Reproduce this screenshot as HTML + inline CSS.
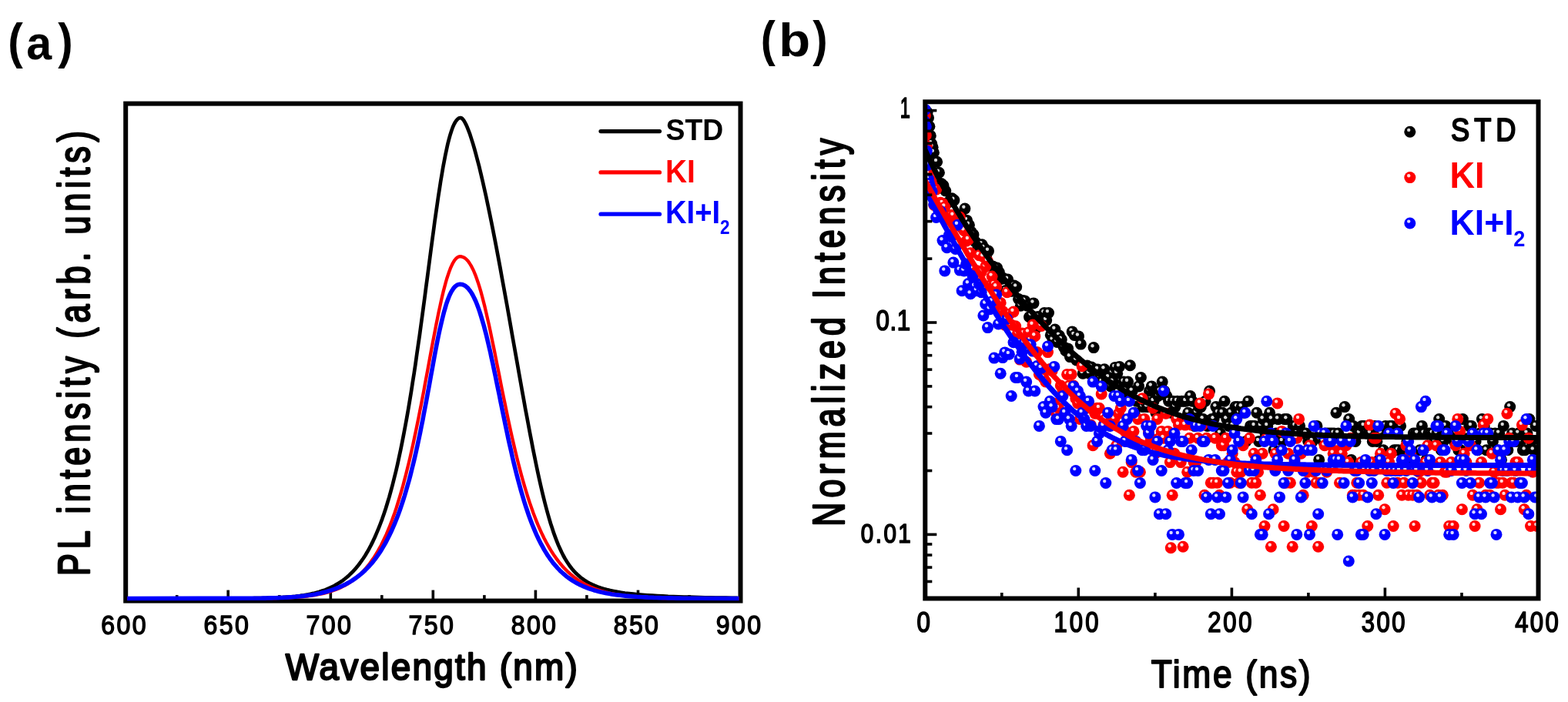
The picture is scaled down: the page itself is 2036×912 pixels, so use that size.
<!DOCTYPE html>
<html><head><meta charset="utf-8"><title>PL spectra and TRPL decay</title>
<style>html,body{margin:0;padding:0;background:#fff;}body{width:2036px;height:912px;overflow:hidden;}svg{display:block;filter:blur(0.6px);}</style>
</head><body>
<svg width="2036" height="912" viewBox="0 0 2036 912" font-family="'Liberation Sans', Arial, Helvetica, sans-serif">
<rect x="163.2" y="134.6" width="798.3" height="646.0" fill="none" stroke="#000" stroke-width="6.0"/>
<line x1="229.7" y1="780.6" x2="229.7" y2="773.1" stroke="#000" stroke-width="3.6"/>
<line x1="296.2" y1="780.6" x2="296.2" y2="766.6" stroke="#000" stroke-width="3.6"/>
<line x1="362.8" y1="780.6" x2="362.8" y2="773.1" stroke="#000" stroke-width="3.6"/>
<line x1="429.3" y1="780.6" x2="429.3" y2="766.6" stroke="#000" stroke-width="3.6"/>
<line x1="495.8" y1="780.6" x2="495.8" y2="773.1" stroke="#000" stroke-width="3.6"/>
<line x1="562.3" y1="780.6" x2="562.3" y2="766.6" stroke="#000" stroke-width="3.6"/>
<line x1="628.9" y1="780.6" x2="628.9" y2="773.1" stroke="#000" stroke-width="3.6"/>
<line x1="695.4" y1="780.6" x2="695.4" y2="766.6" stroke="#000" stroke-width="3.6"/>
<line x1="761.9" y1="780.6" x2="761.9" y2="773.1" stroke="#000" stroke-width="3.6"/>
<line x1="828.5" y1="780.6" x2="828.5" y2="766.6" stroke="#000" stroke-width="3.6"/>
<line x1="895.0" y1="780.6" x2="895.0" y2="773.1" stroke="#000" stroke-width="3.6"/>
<path d="M165.2,777.5 L327.5,777.3 L330.3,777.2 L333.1,777.2 L335.9,777.1 L338.7,777.1 L341.5,777.0 L344.3,777.0 L347.1,776.9 L349.9,776.8 L352.7,776.7 L355.5,776.6 L358.3,776.5 L361.1,776.4 L363.9,776.3 L366.7,776.1 L369.5,775.9 L372.3,775.7 L375.1,775.5 L377.9,775.3 L380.7,775.0 L383.5,774.8 L386.3,774.4 L389.1,774.1 L391.9,773.7 L394.7,773.3 L397.5,772.8 L400.3,772.3 L403.1,771.7 L405.9,771.1 L408.7,770.5 L411.5,769.7 L414.3,768.9 L417.1,768.0 L420.0,767.1 L422.8,766.1 L425.6,764.9 L428.4,763.7 L431.2,762.4 L434.0,761.0 L436.8,759.4 L439.5,757.8 L442.3,756.0 L445.1,754.1 L447.8,752.0 L450.5,749.8 L453.2,747.4 L455.9,744.8 L458.6,742.1 L461.3,739.2 L463.9,736.1 L466.5,732.7 L469.1,729.2 L471.7,725.5 L474.3,721.5 L476.8,717.3 L479.3,712.8 L481.8,708.1 L484.3,703.1 L486.7,697.9 L489.1,692.4 L491.5,686.6 L493.9,680.5 L496.3,674.1 L498.6,667.5 L500.9,660.5 L503.1,653.2 L505.4,645.6 L507.6,637.7 L509.8,629.5 L511.9,621.0 L514.1,612.2 L516.2,603.1 L518.2,593.7 L520.3,584.0 L522.3,574.0 L524.3,563.7 L526.3,553.1 L528.3,542.3 L530.2,531.3 L532.1,520.0 L534.0,508.5 L535.8,496.7 L537.7,484.8 L539.5,472.8 L541.2,460.5 L543.0,448.2 L544.8,435.8 L546.5,423.2 L548.2,410.7 L549.9,398.1 L551.6,385.5 L553.2,372.9 L554.9,360.4 L556.5,348.0 L558.1,335.7 L559.7,323.5 L561.3,311.5 L562.9,299.8 L564.4,288.3 L566.0,277.1 L567.6,266.1 L569.1,255.5 L570.7,245.3 L572.2,235.5 L573.8,226.1 L575.3,217.2 L576.9,208.8 L578.4,200.9 L580.0,193.5 L581.5,186.6 L583.1,180.4 L584.7,174.7 L586.3,169.7 L587.9,165.3 L589.5,161.6 L591.2,158.5 L592.9,156.1 L594.6,154.4 L596.3,153.3 L598.0,153.0 L599.2,153.3 L600.5,154.4 L601.9,156.1 L603.4,158.5 L605.0,161.6 L606.7,165.3 L608.4,169.7 L610.3,174.7 L612.1,180.4 L614.1,186.6 L616.1,193.5 L618.1,200.9 L620.2,208.8 L622.4,217.2 L624.5,226.1 L626.7,235.5 L628.9,245.3 L631.2,255.5 L633.4,266.1 L635.7,277.1 L638.0,288.3 L640.3,299.8 L642.6,311.5 L644.9,323.5 L647.2,335.7 L649.5,348.0 L651.7,360.4 L654.0,372.9 L656.3,385.5 L658.6,398.1 L660.8,410.7 L663.0,423.2 L665.2,435.8 L667.4,448.2 L669.6,460.5 L671.8,472.8 L673.9,484.8 L676.0,496.7 L678.1,508.5 L680.2,520.0 L682.2,531.3 L684.3,542.3 L686.3,553.1 L688.3,563.7 L690.3,574.0 L692.2,584.0 L694.2,593.7 L696.1,603.1 L698.0,612.2 L699.9,621.0 L701.8,629.5 L703.7,637.7 L705.6,645.6 L707.5,653.2 L709.4,660.5 L711.3,667.5 L713.2,674.1 L715.1,680.5 L717.1,686.6 L719.0,692.4 L721.0,697.9 L723.0,703.1 L725.0,708.1 L727.1,712.8 L729.2,717.3 L731.3,721.5 L733.5,725.5 L735.8,729.2 L738.1,732.7 L740.4,736.1 L742.9,739.2 L745.4,742.1 L748.0,744.8 L750.7,747.4 L753.5,749.8 L756.4,752.0 L759.3,754.1 L762.4,756.0 L765.7,757.8 L769.0,759.4 L772.5,761.0 L776.2,762.4 L780.0,763.7 L783.9,764.9 L788.0,766.1 L792.3,767.1 L796.8,768.0 L801.5,768.9 L806.4,769.7 L811.5,770.5 L816.8,771.1 L822.3,771.7 L828.1,772.3 L834.2,772.8 L840.5,773.3 L847.0,773.7 L853.8,774.1 L860.7,774.4 L867.5,774.8 L874.4,775.0 L881.2,775.3 L888.1,775.5 L894.9,775.7 L901.7,775.9 L908.6,776.1 L915.4,776.3 L922.3,776.4 L929.1,776.5 L936.0,776.6 L942.8,776.7 L949.6,776.8 L956.5,776.9 L959.5,777.5" fill="none" stroke="#000" stroke-width="4.7" stroke-linejoin="round"/>
<path d="M165.2,777.5 L333.6,777.3 L336.3,777.3 L339.0,777.3 L341.7,777.2 L344.5,777.2 L347.2,777.2 L349.9,777.1 L352.6,777.1 L355.3,777.0 L358.0,777.0 L360.7,776.9 L363.4,776.8 L366.1,776.7 L368.9,776.6 L371.6,776.5 L374.3,776.4 L377.0,776.3 L379.7,776.1 L382.4,775.9 L385.1,775.7 L387.8,775.5 L390.6,775.3 L393.3,775.1 L396.0,774.8 L398.7,774.5 L401.4,774.2 L404.1,773.8 L406.8,773.4 L409.5,773.0 L412.2,772.5 L415.0,772.0 L417.7,771.4 L420.4,770.8 L423.1,770.1 L425.8,769.4 L428.5,768.6 L431.2,767.7 L433.9,766.8 L436.6,765.7 L439.3,764.7 L442.0,763.5 L444.6,762.2 L447.3,760.8 L449.9,759.3 L452.6,757.8 L455.2,756.1 L457.8,754.3 L460.4,752.3 L463.0,750.2 L465.5,748.0 L468.1,745.7 L470.6,743.2 L473.1,740.5 L475.6,737.7 L478.1,734.7 L480.5,731.5 L482.9,728.1 L485.3,724.6 L487.7,720.9 L490.1,717.0 L492.4,712.8 L494.8,708.5 L497.0,704.0 L499.3,699.2 L501.6,694.3 L503.8,689.1 L506.0,683.7 L508.2,678.1 L510.3,672.2 L512.5,666.2 L514.6,659.9 L516.6,653.4 L518.7,646.7 L520.7,639.8 L522.8,632.7 L524.7,625.4 L526.7,617.9 L528.6,610.2 L530.6,602.3 L532.5,594.3 L534.3,586.1 L536.2,577.8 L538.0,569.3 L539.8,560.7 L541.6,552.0 L543.4,543.2 L545.1,534.4 L546.9,525.5 L548.6,516.5 L550.3,507.6 L551.9,498.6 L553.6,489.6 L555.3,480.7 L556.9,471.9 L558.5,463.2 L560.1,454.5 L561.7,446.0 L563.3,437.6 L564.9,429.4 L566.4,421.5 L568.0,413.7 L569.5,406.2 L571.1,398.9 L572.6,391.9 L574.1,385.2 L575.6,378.9 L577.2,372.9 L578.7,367.2 L580.2,362.0 L581.8,357.1 L583.3,352.7 L584.8,348.7 L586.4,345.1 L587.9,342.0 L589.5,339.3 L591.1,337.1 L592.6,335.4 L594.2,334.2 L595.9,333.4 L597.5,333.2 L599.6,333.4 L601.7,334.2 L603.8,335.4 L605.8,337.1 L607.8,339.3 L609.7,342.0 L611.6,345.1 L613.5,348.7 L615.4,352.7 L617.2,357.1 L619.0,362.0 L620.8,367.2 L622.6,372.9 L624.4,378.9 L626.1,385.2 L627.8,391.9 L629.6,398.9 L631.3,406.2 L633.0,413.7 L634.8,421.5 L636.5,429.4 L638.2,437.6 L639.9,446.0 L641.7,454.5 L643.4,463.2 L645.1,471.9 L646.9,480.7 L648.7,489.6 L650.4,498.6 L652.2,507.6 L654.0,516.5 L655.9,525.5 L657.7,534.4 L659.5,543.2 L661.4,552.0 L663.3,560.7 L665.2,569.3 L667.2,577.8 L669.1,586.1 L671.1,594.3 L673.1,602.3 L675.2,610.2 L677.2,617.9 L679.3,625.4 L681.4,632.7 L683.6,639.8 L685.7,646.7 L687.9,653.4 L690.2,659.9 L692.4,666.2 L694.7,672.2 L697.0,678.1 L699.3,683.7 L701.7,689.1 L704.1,694.3 L706.5,699.2 L709.0,704.0 L711.5,708.5 L714.0,712.8 L716.5,717.0 L719.1,720.9 L721.7,724.6 L724.3,728.1 L726.9,731.5 L729.6,734.7 L732.3,737.7 L735.0,740.5 L737.7,743.2 L740.5,745.7 L743.3,748.0 L746.1,750.2 L748.9,752.3 L751.7,754.3 L754.6,756.1 L757.5,757.8 L760.4,759.3 L763.3,760.8 L766.2,762.2 L769.1,763.5 L772.1,764.7 L775.0,765.7 L778.0,766.8 L780.9,767.7 L783.9,768.6 L786.8,769.4 L789.8,770.1 L792.8,770.8 L795.7,771.4 L798.7,772.0 L801.6,772.5 L804.6,773.0 L807.5,773.4 L810.5,773.8 L813.4,774.2 L816.4,774.5 L819.3,774.8 L822.3,775.1 L825.2,775.3 L828.2,775.5 L831.1,775.7 L834.1,775.9 L837.0,776.1 L839.9,776.3 L842.9,776.4 L845.8,776.5 L848.8,776.6 L851.7,776.7 L854.7,776.8 L857.6,776.9 L860.6,777.0 L863.5,777.0 L866.5,777.1 L869.4,777.1 L872.4,777.2 L875.3,777.2 L878.3,777.2 L881.2,777.3 L884.2,777.3 L887.1,777.3 L959.5,777.5" fill="none" stroke="#ff0000" stroke-width="4.3" stroke-linejoin="round"/>
<path d="M165.2,777.5 L321.4,777.3 L324.2,777.3 L327.1,777.3 L329.9,777.3 L332.8,777.2 L335.7,777.2 L338.5,777.2 L341.4,777.1 L344.2,777.1 L347.1,777.0 L349.9,776.9 L352.8,776.9 L355.7,776.8 L358.5,776.7 L361.4,776.6 L364.2,776.5 L367.1,776.4 L370.0,776.2 L372.8,776.1 L375.7,775.9 L378.5,775.7 L381.4,775.5 L384.2,775.3 L387.1,775.0 L390.0,774.7 L392.8,774.4 L395.7,774.1 L398.5,773.7 L401.4,773.3 L404.2,772.9 L407.1,772.4 L410.0,771.9 L412.8,771.3 L415.7,770.7 L418.6,770.0 L421.6,769.3 L424.5,768.5 L427.4,767.6 L430.4,766.7 L433.4,765.7 L436.3,764.6 L439.3,763.4 L442.3,762.2 L445.2,760.8 L448.2,759.4 L451.1,757.8 L454.1,756.1 L457.0,754.4 L459.9,752.4 L462.8,750.4 L465.6,748.2 L468.5,745.9 L471.3,743.5 L474.1,740.9 L476.8,738.1 L479.6,735.2 L482.3,732.2 L485.0,728.9 L487.6,725.5 L490.2,721.9 L492.8,718.1 L495.4,714.1 L497.9,709.9 L500.4,705.6 L502.8,701.0 L505.2,696.3 L507.6,691.3 L509.9,686.1 L512.2,680.8 L514.5,675.2 L516.7,669.5 L518.9,663.5 L521.0,657.3 L523.1,651.0 L525.2,644.5 L527.2,637.7 L529.2,630.8 L531.2,623.8 L533.1,616.5 L534.9,609.2 L536.8,601.6 L538.6,594.0 L540.4,586.2 L542.1,578.3 L543.8,570.3 L545.5,562.3 L547.1,554.1 L548.8,545.9 L550.3,537.7 L551.9,529.5 L553.5,521.3 L555.0,513.0 L556.5,504.9 L558.0,496.7 L559.4,488.7 L560.9,480.8 L562.3,472.9 L563.7,465.3 L565.1,457.7 L566.5,450.4 L567.9,443.2 L569.3,436.3 L570.7,429.7 L572.2,423.2 L573.6,417.1 L575.0,411.3 L576.4,405.8 L577.9,400.6 L579.3,395.7 L580.8,391.3 L582.3,387.2 L583.8,383.5 L585.4,380.2 L587.0,377.4 L588.6,374.9 L590.3,372.9 L592.0,371.3 L593.8,370.2 L595.6,369.5 L597.5,369.3 L599.7,369.5 L601.9,370.2 L604.0,371.3 L606.0,372.9 L608.1,374.9 L610.1,377.4 L612.0,380.2 L613.9,383.5 L615.8,387.2 L617.7,391.3 L619.5,395.7 L621.3,400.6 L623.1,405.8 L624.8,411.3 L626.5,417.1 L628.3,423.2 L630.0,429.7 L631.7,436.3 L633.3,443.2 L635.0,450.4 L636.7,457.7 L638.3,465.3 L640.0,472.9 L641.6,480.8 L643.3,488.7 L644.9,496.7 L646.6,504.9 L648.3,513.0 L649.9,521.3 L651.6,529.5 L653.3,537.7 L655.0,545.9 L656.7,554.1 L658.4,562.3 L660.1,570.3 L661.9,578.3 L663.7,586.2 L665.4,594.0 L667.2,601.6 L669.1,609.2 L670.9,616.5 L672.8,623.8 L674.7,630.8 L676.6,637.7 L678.6,644.5 L680.5,651.0 L682.5,657.3 L684.6,663.5 L686.6,669.5 L688.7,675.2 L690.8,680.8 L693.0,686.1 L695.2,691.3 L697.4,696.3 L699.6,701.0 L701.9,705.6 L704.3,709.9 L706.6,714.1 L709.0,718.1 L711.4,721.9 L713.9,725.5 L716.4,728.9 L718.9,732.2 L721.5,735.2 L724.1,738.1 L726.8,740.9 L729.5,743.5 L732.2,745.9 L734.9,748.2 L737.7,750.4 L740.6,752.4 L743.5,754.4 L746.4,756.1 L749.3,757.8 L752.3,759.4 L755.3,760.8 L758.4,762.2 L761.5,763.4 L764.6,764.6 L767.8,765.7 L771.0,766.7 L774.2,767.6 L777.5,768.5 L780.8,769.3 L784.2,770.0 L787.6,770.7 L791.0,771.3 L794.4,771.9 L797.9,772.4 L801.4,772.9 L804.9,773.3 L808.5,773.7 L812.1,774.1 L815.7,774.4 L819.3,774.7 L823.0,775.0 L826.7,775.3 L830.4,775.5 L834.1,775.7 L837.8,775.9 L841.5,776.1 L845.2,776.2 L848.9,776.4 L852.6,776.5 L856.3,776.6 L860.0,776.7 L863.8,776.8 L867.5,776.9 L871.2,776.9 L874.9,777.0 L878.6,777.1 L882.3,777.1 L886.0,777.2 L889.7,777.2 L893.4,777.2 L897.1,777.3 L900.8,777.3 L904.5,777.3 L908.3,777.3 L959.5,777.5" fill="none" stroke="#0000ff" stroke-width="5.6" stroke-linejoin="round"/>
<text transform="translate(131.35,824.29) scale(0.9000,1)" font-size="35.62" font-weight="normal" fill="#000" letter-spacing="2.70" stroke="#000" stroke-width="1.5" stroke-linejoin="round">600</text>
<text transform="translate(264.40,824.29) scale(0.9000,1)" font-size="35.62" font-weight="normal" fill="#000" letter-spacing="2.70" stroke="#000" stroke-width="1.5" stroke-linejoin="round">650</text>
<text transform="translate(397.45,824.29) scale(0.9000,1)" font-size="35.62" font-weight="normal" fill="#000" letter-spacing="2.70" stroke="#000" stroke-width="1.5" stroke-linejoin="round">700</text>
<text transform="translate(530.50,824.29) scale(0.9000,1)" font-size="35.62" font-weight="normal" fill="#000" letter-spacing="2.70" stroke="#000" stroke-width="1.5" stroke-linejoin="round">750</text>
<text transform="translate(663.79,824.29) scale(0.9000,1)" font-size="35.62" font-weight="normal" fill="#000" letter-spacing="2.56" stroke="#000" stroke-width="1.5" stroke-linejoin="round">800</text>
<text transform="translate(796.84,824.29) scale(0.9000,1)" font-size="35.62" font-weight="normal" fill="#000" letter-spacing="2.56" stroke="#000" stroke-width="1.5" stroke-linejoin="round">850</text>
<text transform="translate(929.73,824.29) scale(0.9000,1)" font-size="35.62" font-weight="normal" fill="#000" letter-spacing="2.65" stroke="#000" stroke-width="1.5" stroke-linejoin="round">900</text>
<text transform="translate(370.72,883.05) scale(0.9500,1)" font-size="48.29" font-weight="normal" fill="#000" letter-spacing="2.38" stroke="#000" stroke-width="2.3" stroke-linejoin="round">Wavelength (nm)</text>
<text transform="translate(115.75,747.91) rotate(-90) scale(0.7500,1)" font-size="57.60" font-weight="normal" fill="#000" letter-spacing="7.65" stroke="#000" stroke-width="2.5" stroke-linejoin="round">PL intensity (arb. units)</text>
<line x1="780" y1="170.6" x2="856.5" y2="170.6" stroke="#000" stroke-width="5.2" stroke-linecap="round"/>
<line x1="780" y1="223.9" x2="856.5" y2="223.9" stroke="#ff0000" stroke-width="5.2" stroke-linecap="round"/>
<line x1="780" y1="278.2" x2="856.5" y2="278.2" stroke="#0000ff" stroke-width="5.2" stroke-linecap="round"/>
<text transform="translate(864.48,182.01) scale(0.9587,1)" font-size="39.01" font-weight="bold" fill="#000">STD</text>
<text transform="translate(863.98,236.70) scale(0.9149,1)" font-size="42.47" font-weight="bold" fill="#ff0000">KI</text>
<text fill="#0000ff"><tspan x="864.02" y="290.00" font-size="41.60" font-weight="bold" textLength="71.07" lengthAdjust="spacingAndGlyphs">KI+I</tspan><tspan x="934.91" y="303.90" font-size="25.66" font-weight="bold" textLength="12.56" lengthAdjust="spacingAndGlyphs">2</tspan></text>
<text fill="#000"><tspan x="10.26" y="76.02" font-size="64.02" font-weight="bold" textLength="19.57" lengthAdjust="spacingAndGlyphs">(</tspan><tspan x="34.23" y="77.29" font-size="60.82" font-weight="bold" textLength="32.90" lengthAdjust="spacingAndGlyphs">a</tspan><tspan x="75.25" y="76.02" font-size="64.02" font-weight="bold" textLength="19.39" lengthAdjust="spacingAndGlyphs">)</tspan></text>
<text fill="#000"><tspan x="987.73" y="72.94" font-size="63.91" font-weight="bold" textLength="19.10" lengthAdjust="spacingAndGlyphs">(</tspan><tspan x="1011.25" y="73.08" font-size="61.77" font-weight="bold" textLength="40.89" lengthAdjust="spacingAndGlyphs">b</tspan><tspan x="1055.35" y="72.94" font-size="63.91" font-weight="bold" textLength="19.39" lengthAdjust="spacingAndGlyphs">)</tspan></text>
<clipPath id="cb"><rect x="1201.3" y="132.3" width="796.2" height="645.2"/></clipPath>
<g clip-path="url(#cb)">
<circle cx="1200.1" cy="158.4" r="7.5" fill="#000"/><circle cx="1198.5" cy="156.0" r="2.2" fill="#fff" fill-opacity="0.85"/>
<circle cx="1201.3" cy="150.9" r="7.5" fill="#000"/><circle cx="1199.7" cy="148.5" r="2.2" fill="#fff" fill-opacity="0.85"/>
<circle cx="1202.7" cy="144.3" r="7.5" fill="#000"/><circle cx="1201.1" cy="141.9" r="2.2" fill="#fff" fill-opacity="0.85"/>
<circle cx="1204.1" cy="146.1" r="7.5" fill="#000"/><circle cx="1202.5" cy="143.7" r="2.2" fill="#fff" fill-opacity="0.85"/>
<circle cx="1205.5" cy="153.1" r="7.5" fill="#000"/><circle cx="1203.9" cy="150.7" r="2.2" fill="#fff" fill-opacity="0.85"/>
<circle cx="1206.9" cy="164.2" r="7.5" fill="#000"/><circle cx="1205.3" cy="161.8" r="2.2" fill="#fff" fill-opacity="0.85"/>
<circle cx="1208.3" cy="176.4" r="7.5" fill="#000"/><circle cx="1206.7" cy="174.0" r="2.2" fill="#fff" fill-opacity="0.85"/>
<circle cx="1209.7" cy="186.7" r="7.5" fill="#000"/><circle cx="1208.1" cy="184.3" r="2.2" fill="#fff" fill-opacity="0.85"/>
<circle cx="1211.1" cy="191.2" r="7.5" fill="#000"/><circle cx="1209.5" cy="188.8" r="2.2" fill="#fff" fill-opacity="0.85"/>
<circle cx="1212.4" cy="198.2" r="7.5" fill="#000"/><circle cx="1210.8" cy="195.8" r="2.2" fill="#fff" fill-opacity="0.85"/>
<circle cx="1213.8" cy="210.1" r="7.5" fill="#000"/><circle cx="1212.2" cy="207.7" r="2.2" fill="#fff" fill-opacity="0.85"/>
<circle cx="1216.6" cy="210.3" r="7.5" fill="#000"/><circle cx="1215.0" cy="207.9" r="2.2" fill="#fff" fill-opacity="0.85"/>
<circle cx="1219.4" cy="224.2" r="7.5" fill="#000"/><circle cx="1217.8" cy="221.8" r="2.2" fill="#fff" fill-opacity="0.85"/>
<circle cx="1222.2" cy="238.6" r="7.5" fill="#000"/><circle cx="1220.6" cy="236.2" r="2.2" fill="#fff" fill-opacity="0.85"/>
<circle cx="1225.0" cy="241.0" r="7.5" fill="#000"/><circle cx="1223.4" cy="238.6" r="2.2" fill="#fff" fill-opacity="0.85"/>
<circle cx="1227.8" cy="248.0" r="7.5" fill="#000"/><circle cx="1226.2" cy="245.6" r="2.2" fill="#fff" fill-opacity="0.85"/>
<circle cx="1230.6" cy="263.4" r="7.5" fill="#000"/><circle cx="1229.0" cy="261.0" r="2.2" fill="#fff" fill-opacity="0.85"/>
<circle cx="1233.3" cy="261.6" r="7.5" fill="#000"/><circle cx="1231.7" cy="259.2" r="2.2" fill="#fff" fill-opacity="0.85"/>
<circle cx="1236.1" cy="257.8" r="7.5" fill="#000"/><circle cx="1234.5" cy="255.4" r="2.2" fill="#fff" fill-opacity="0.85"/>
<circle cx="1238.9" cy="260.1" r="7.5" fill="#000"/><circle cx="1237.3" cy="257.7" r="2.2" fill="#fff" fill-opacity="0.85"/>
<circle cx="1241.7" cy="283.7" r="7.5" fill="#000"/><circle cx="1240.1" cy="281.3" r="2.2" fill="#fff" fill-opacity="0.85"/>
<circle cx="1244.5" cy="292.2" r="7.5" fill="#000"/><circle cx="1242.9" cy="289.8" r="2.2" fill="#fff" fill-opacity="0.85"/>
<circle cx="1247.3" cy="282.1" r="7.5" fill="#000"/><circle cx="1245.7" cy="279.7" r="2.2" fill="#fff" fill-opacity="0.85"/>
<circle cx="1250.1" cy="284.2" r="7.5" fill="#000"/><circle cx="1248.5" cy="281.8" r="2.2" fill="#fff" fill-opacity="0.85"/>
<circle cx="1252.9" cy="271.1" r="7.5" fill="#000"/><circle cx="1251.3" cy="268.7" r="2.2" fill="#fff" fill-opacity="0.85"/>
<circle cx="1255.6" cy="286.4" r="7.5" fill="#000"/><circle cx="1254.0" cy="284.0" r="2.2" fill="#fff" fill-opacity="0.85"/>
<circle cx="1258.4" cy="292.2" r="7.5" fill="#000"/><circle cx="1256.8" cy="289.8" r="2.2" fill="#fff" fill-opacity="0.85"/>
<circle cx="1261.2" cy="301.3" r="7.5" fill="#000"/><circle cx="1259.6" cy="298.9" r="2.2" fill="#fff" fill-opacity="0.85"/>
<circle cx="1264.0" cy="304.9" r="7.5" fill="#000"/><circle cx="1262.4" cy="302.5" r="2.2" fill="#fff" fill-opacity="0.85"/>
<circle cx="1266.8" cy="314.4" r="7.5" fill="#000"/><circle cx="1265.2" cy="312.0" r="2.2" fill="#fff" fill-opacity="0.85"/>
<circle cx="1269.6" cy="323.7" r="7.5" fill="#000"/><circle cx="1268.0" cy="321.3" r="2.2" fill="#fff" fill-opacity="0.85"/>
<circle cx="1272.4" cy="319.6" r="7.5" fill="#000"/><circle cx="1270.8" cy="317.2" r="2.2" fill="#fff" fill-opacity="0.85"/>
<circle cx="1275.1" cy="317.7" r="7.5" fill="#000"/><circle cx="1273.5" cy="315.3" r="2.2" fill="#fff" fill-opacity="0.85"/>
<circle cx="1277.9" cy="322.3" r="7.5" fill="#000"/><circle cx="1276.3" cy="319.9" r="2.2" fill="#fff" fill-opacity="0.85"/>
<circle cx="1280.7" cy="334.1" r="7.5" fill="#000"/><circle cx="1279.1" cy="331.7" r="2.2" fill="#fff" fill-opacity="0.85"/>
<circle cx="1283.5" cy="326.1" r="7.5" fill="#000"/><circle cx="1281.9" cy="323.7" r="2.2" fill="#fff" fill-opacity="0.85"/>
<circle cx="1286.3" cy="345.3" r="7.5" fill="#000"/><circle cx="1284.7" cy="342.9" r="2.2" fill="#fff" fill-opacity="0.85"/>
<circle cx="1289.1" cy="345.9" r="7.5" fill="#000"/><circle cx="1287.5" cy="343.5" r="2.2" fill="#fff" fill-opacity="0.85"/>
<circle cx="1291.9" cy="353.5" r="7.5" fill="#000"/><circle cx="1290.3" cy="351.1" r="2.2" fill="#fff" fill-opacity="0.85"/>
<circle cx="1294.7" cy="348.1" r="7.5" fill="#000"/><circle cx="1293.1" cy="345.7" r="2.2" fill="#fff" fill-opacity="0.85"/>
<circle cx="1297.4" cy="353.9" r="7.5" fill="#000"/><circle cx="1295.8" cy="351.5" r="2.2" fill="#fff" fill-opacity="0.85"/>
<circle cx="1300.2" cy="362.4" r="7.5" fill="#000"/><circle cx="1298.6" cy="360.0" r="2.2" fill="#fff" fill-opacity="0.85"/>
<circle cx="1303.0" cy="361.6" r="7.5" fill="#000"/><circle cx="1301.4" cy="359.2" r="2.2" fill="#fff" fill-opacity="0.85"/>
<circle cx="1305.8" cy="377.4" r="7.5" fill="#000"/><circle cx="1304.2" cy="375.0" r="2.2" fill="#fff" fill-opacity="0.85"/>
<circle cx="1308.6" cy="363.1" r="7.5" fill="#000"/><circle cx="1307.0" cy="360.7" r="2.2" fill="#fff" fill-opacity="0.85"/>
<circle cx="1311.4" cy="378.2" r="7.5" fill="#000"/><circle cx="1309.8" cy="375.8" r="2.2" fill="#fff" fill-opacity="0.85"/>
<circle cx="1314.2" cy="378.2" r="7.5" fill="#000"/><circle cx="1312.6" cy="375.8" r="2.2" fill="#fff" fill-opacity="0.85"/>
<circle cx="1316.9" cy="371.0" r="7.5" fill="#000"/><circle cx="1315.3" cy="368.6" r="2.2" fill="#fff" fill-opacity="0.85"/>
<circle cx="1319.7" cy="372.8" r="7.5" fill="#000"/><circle cx="1318.1" cy="370.4" r="2.2" fill="#fff" fill-opacity="0.85"/>
<circle cx="1322.5" cy="388.4" r="7.5" fill="#000"/><circle cx="1320.9" cy="386.0" r="2.2" fill="#fff" fill-opacity="0.85"/>
<circle cx="1325.3" cy="397.3" r="7.5" fill="#000"/><circle cx="1323.7" cy="394.9" r="2.2" fill="#fff" fill-opacity="0.85"/>
<circle cx="1328.1" cy="390.5" r="7.5" fill="#000"/><circle cx="1326.5" cy="388.1" r="2.2" fill="#fff" fill-opacity="0.85"/>
<circle cx="1330.9" cy="391.1" r="7.5" fill="#000"/><circle cx="1329.3" cy="388.7" r="2.2" fill="#fff" fill-opacity="0.85"/>
<circle cx="1333.7" cy="397.3" r="7.5" fill="#000"/><circle cx="1332.1" cy="394.9" r="2.2" fill="#fff" fill-opacity="0.85"/>
<circle cx="1336.5" cy="411.8" r="7.5" fill="#000"/><circle cx="1334.9" cy="409.4" r="2.2" fill="#fff" fill-opacity="0.85"/>
<circle cx="1339.2" cy="410.0" r="7.5" fill="#000"/><circle cx="1337.6" cy="407.6" r="2.2" fill="#fff" fill-opacity="0.85"/>
<circle cx="1342.0" cy="393.9" r="7.5" fill="#000"/><circle cx="1340.4" cy="391.5" r="2.2" fill="#fff" fill-opacity="0.85"/>
<circle cx="1344.8" cy="427.1" r="7.5" fill="#000"/><circle cx="1343.2" cy="424.7" r="2.2" fill="#fff" fill-opacity="0.85"/>
<circle cx="1347.6" cy="411.5" r="7.5" fill="#000"/><circle cx="1346.0" cy="409.1" r="2.2" fill="#fff" fill-opacity="0.85"/>
<circle cx="1350.4" cy="421.7" r="7.5" fill="#000"/><circle cx="1348.8" cy="419.3" r="2.2" fill="#fff" fill-opacity="0.85"/>
<circle cx="1353.2" cy="419.6" r="7.5" fill="#000"/><circle cx="1351.6" cy="417.2" r="2.2" fill="#fff" fill-opacity="0.85"/>
<circle cx="1356.0" cy="406.6" r="7.5" fill="#000"/><circle cx="1354.4" cy="404.2" r="2.2" fill="#fff" fill-opacity="0.85"/>
<circle cx="1358.7" cy="416.1" r="7.5" fill="#000"/><circle cx="1357.1" cy="413.7" r="2.2" fill="#fff" fill-opacity="0.85"/>
<circle cx="1361.5" cy="406.5" r="7.5" fill="#000"/><circle cx="1359.9" cy="404.1" r="2.2" fill="#fff" fill-opacity="0.85"/>
<circle cx="1364.3" cy="435.3" r="7.5" fill="#000"/><circle cx="1362.7" cy="432.9" r="2.2" fill="#fff" fill-opacity="0.85"/>
<circle cx="1367.1" cy="441.8" r="7.5" fill="#000"/><circle cx="1365.5" cy="439.4" r="2.2" fill="#fff" fill-opacity="0.85"/>
<circle cx="1369.9" cy="428.1" r="7.5" fill="#000"/><circle cx="1368.3" cy="425.7" r="2.2" fill="#fff" fill-opacity="0.85"/>
<circle cx="1372.7" cy="444.4" r="7.5" fill="#000"/><circle cx="1371.1" cy="442.0" r="2.2" fill="#fff" fill-opacity="0.85"/>
<circle cx="1375.5" cy="436.0" r="7.5" fill="#000"/><circle cx="1373.9" cy="433.6" r="2.2" fill="#fff" fill-opacity="0.85"/>
<circle cx="1378.3" cy="441.0" r="7.5" fill="#000"/><circle cx="1376.7" cy="438.6" r="2.2" fill="#fff" fill-opacity="0.85"/>
<circle cx="1381.0" cy="450.6" r="7.5" fill="#000"/><circle cx="1379.4" cy="448.2" r="2.2" fill="#fff" fill-opacity="0.85"/>
<circle cx="1383.8" cy="455.7" r="7.5" fill="#000"/><circle cx="1382.2" cy="453.3" r="2.2" fill="#fff" fill-opacity="0.85"/>
<circle cx="1386.6" cy="452.9" r="7.5" fill="#000"/><circle cx="1385.0" cy="450.5" r="2.2" fill="#fff" fill-opacity="0.85"/>
<circle cx="1389.4" cy="463.6" r="7.5" fill="#000"/><circle cx="1387.8" cy="461.2" r="2.2" fill="#fff" fill-opacity="0.85"/>
<circle cx="1392.2" cy="430.9" r="7.5" fill="#000"/><circle cx="1390.6" cy="428.5" r="2.2" fill="#fff" fill-opacity="0.85"/>
<circle cx="1395.0" cy="435.4" r="7.5" fill="#000"/><circle cx="1393.4" cy="433.0" r="2.2" fill="#fff" fill-opacity="0.85"/>
<circle cx="1397.8" cy="468.0" r="7.5" fill="#000"/><circle cx="1396.2" cy="465.6" r="2.2" fill="#fff" fill-opacity="0.85"/>
<circle cx="1400.5" cy="436.9" r="7.5" fill="#000"/><circle cx="1398.9" cy="434.5" r="2.2" fill="#fff" fill-opacity="0.85"/>
<circle cx="1403.3" cy="447.1" r="7.5" fill="#000"/><circle cx="1401.7" cy="444.7" r="2.2" fill="#fff" fill-opacity="0.85"/>
<circle cx="1406.1" cy="485.2" r="7.5" fill="#000"/><circle cx="1404.5" cy="482.8" r="2.2" fill="#fff" fill-opacity="0.85"/>
<circle cx="1408.9" cy="475.8" r="7.5" fill="#000"/><circle cx="1407.3" cy="473.4" r="2.2" fill="#fff" fill-opacity="0.85"/>
<circle cx="1411.7" cy="475.1" r="7.5" fill="#000"/><circle cx="1410.1" cy="472.7" r="2.2" fill="#fff" fill-opacity="0.85"/>
<circle cx="1414.5" cy="485.2" r="7.5" fill="#000"/><circle cx="1412.9" cy="482.8" r="2.2" fill="#fff" fill-opacity="0.85"/>
<circle cx="1417.3" cy="477.0" r="7.5" fill="#000"/><circle cx="1415.7" cy="474.6" r="2.2" fill="#fff" fill-opacity="0.85"/>
<circle cx="1420.1" cy="451.6" r="7.5" fill="#000"/><circle cx="1418.5" cy="449.2" r="2.2" fill="#fff" fill-opacity="0.85"/>
<circle cx="1422.8" cy="480.1" r="7.5" fill="#000"/><circle cx="1421.2" cy="477.7" r="2.2" fill="#fff" fill-opacity="0.85"/>
<circle cx="1425.6" cy="480.1" r="7.5" fill="#000"/><circle cx="1424.0" cy="477.7" r="2.2" fill="#fff" fill-opacity="0.85"/>
<circle cx="1428.4" cy="490.5" r="7.5" fill="#000"/><circle cx="1426.8" cy="488.1" r="2.2" fill="#fff" fill-opacity="0.85"/>
<circle cx="1431.2" cy="496.1" r="7.5" fill="#000"/><circle cx="1429.6" cy="493.7" r="2.2" fill="#fff" fill-opacity="0.85"/>
<circle cx="1434.0" cy="479.7" r="7.5" fill="#000"/><circle cx="1432.4" cy="477.3" r="2.2" fill="#fff" fill-opacity="0.85"/>
<circle cx="1436.8" cy="496.1" r="7.5" fill="#000"/><circle cx="1435.2" cy="493.7" r="2.2" fill="#fff" fill-opacity="0.85"/>
<circle cx="1439.6" cy="490.5" r="7.5" fill="#000"/><circle cx="1438.0" cy="488.1" r="2.2" fill="#fff" fill-opacity="0.85"/>
<circle cx="1442.3" cy="501.9" r="7.5" fill="#000"/><circle cx="1440.7" cy="499.5" r="2.2" fill="#fff" fill-opacity="0.85"/>
<circle cx="1445.1" cy="496.1" r="7.5" fill="#000"/><circle cx="1443.5" cy="493.7" r="2.2" fill="#fff" fill-opacity="0.85"/>
<circle cx="1447.9" cy="477.4" r="7.5" fill="#000"/><circle cx="1446.3" cy="475.0" r="2.2" fill="#fff" fill-opacity="0.85"/>
<circle cx="1450.7" cy="485.2" r="7.5" fill="#000"/><circle cx="1449.1" cy="482.8" r="2.2" fill="#fff" fill-opacity="0.85"/>
<circle cx="1453.5" cy="476.4" r="7.5" fill="#000"/><circle cx="1451.9" cy="474.0" r="2.2" fill="#fff" fill-opacity="0.85"/>
<circle cx="1456.3" cy="514.5" r="7.5" fill="#000"/><circle cx="1454.7" cy="512.1" r="2.2" fill="#fff" fill-opacity="0.85"/>
<circle cx="1459.1" cy="496.1" r="7.5" fill="#000"/><circle cx="1457.5" cy="493.7" r="2.2" fill="#fff" fill-opacity="0.85"/>
<circle cx="1461.9" cy="508.0" r="7.5" fill="#000"/><circle cx="1460.3" cy="505.6" r="2.2" fill="#fff" fill-opacity="0.85"/>
<circle cx="1464.6" cy="496.1" r="7.5" fill="#000"/><circle cx="1463.0" cy="493.7" r="2.2" fill="#fff" fill-opacity="0.85"/>
<circle cx="1467.4" cy="474.8" r="7.5" fill="#000"/><circle cx="1465.8" cy="472.4" r="2.2" fill="#fff" fill-opacity="0.85"/>
<circle cx="1470.2" cy="508.0" r="7.5" fill="#000"/><circle cx="1468.6" cy="505.6" r="2.2" fill="#fff" fill-opacity="0.85"/>
<circle cx="1473.0" cy="536.3" r="7.5" fill="#000"/><circle cx="1471.4" cy="533.9" r="2.2" fill="#fff" fill-opacity="0.85"/>
<circle cx="1475.8" cy="521.3" r="7.5" fill="#000"/><circle cx="1474.2" cy="518.9" r="2.2" fill="#fff" fill-opacity="0.85"/>
<circle cx="1478.6" cy="501.9" r="7.5" fill="#000"/><circle cx="1477.0" cy="499.5" r="2.2" fill="#fff" fill-opacity="0.85"/>
<circle cx="1481.4" cy="490.5" r="7.5" fill="#000"/><circle cx="1479.8" cy="488.1" r="2.2" fill="#fff" fill-opacity="0.85"/>
<circle cx="1484.2" cy="528.6" r="7.5" fill="#000"/><circle cx="1482.6" cy="526.2" r="2.2" fill="#fff" fill-opacity="0.85"/>
<circle cx="1486.9" cy="521.3" r="7.5" fill="#000"/><circle cx="1485.3" cy="518.9" r="2.2" fill="#fff" fill-opacity="0.85"/>
<circle cx="1489.7" cy="528.6" r="7.5" fill="#000"/><circle cx="1488.1" cy="526.2" r="2.2" fill="#fff" fill-opacity="0.85"/>
<circle cx="1492.5" cy="508.0" r="7.5" fill="#000"/><circle cx="1490.9" cy="505.6" r="2.2" fill="#fff" fill-opacity="0.85"/>
<circle cx="1495.3" cy="501.9" r="7.5" fill="#000"/><circle cx="1493.7" cy="499.5" r="2.2" fill="#fff" fill-opacity="0.85"/>
<circle cx="1498.1" cy="521.3" r="7.5" fill="#000"/><circle cx="1496.5" cy="518.9" r="2.2" fill="#fff" fill-opacity="0.85"/>
<circle cx="1500.9" cy="536.3" r="7.5" fill="#000"/><circle cx="1499.3" cy="533.9" r="2.2" fill="#fff" fill-opacity="0.85"/>
<circle cx="1503.7" cy="514.5" r="7.5" fill="#000"/><circle cx="1502.1" cy="512.1" r="2.2" fill="#fff" fill-opacity="0.85"/>
<circle cx="1506.4" cy="508.0" r="7.5" fill="#000"/><circle cx="1504.8" cy="505.6" r="2.2" fill="#fff" fill-opacity="0.85"/>
<circle cx="1509.2" cy="496.1" r="7.5" fill="#000"/><circle cx="1507.6" cy="493.7" r="2.2" fill="#fff" fill-opacity="0.85"/>
<circle cx="1512.0" cy="508.0" r="7.5" fill="#000"/><circle cx="1510.4" cy="505.6" r="2.2" fill="#fff" fill-opacity="0.85"/>
<circle cx="1514.8" cy="514.5" r="7.5" fill="#000"/><circle cx="1513.2" cy="512.1" r="2.2" fill="#fff" fill-opacity="0.85"/>
<circle cx="1517.6" cy="521.3" r="7.5" fill="#000"/><circle cx="1516.0" cy="518.9" r="2.2" fill="#fff" fill-opacity="0.85"/>
<circle cx="1520.4" cy="536.3" r="7.5" fill="#000"/><circle cx="1518.8" cy="533.9" r="2.2" fill="#fff" fill-opacity="0.85"/>
<circle cx="1523.2" cy="521.3" r="7.5" fill="#000"/><circle cx="1521.6" cy="518.9" r="2.2" fill="#fff" fill-opacity="0.85"/>
<circle cx="1526.0" cy="528.6" r="7.5" fill="#000"/><circle cx="1524.4" cy="526.2" r="2.2" fill="#fff" fill-opacity="0.85"/>
<circle cx="1528.7" cy="521.3" r="7.5" fill="#000"/><circle cx="1527.1" cy="518.9" r="2.2" fill="#fff" fill-opacity="0.85"/>
<circle cx="1531.5" cy="544.6" r="7.5" fill="#000"/><circle cx="1529.9" cy="542.2" r="2.2" fill="#fff" fill-opacity="0.85"/>
<circle cx="1534.3" cy="521.3" r="7.5" fill="#000"/><circle cx="1532.7" cy="518.9" r="2.2" fill="#fff" fill-opacity="0.85"/>
<circle cx="1537.1" cy="521.3" r="7.5" fill="#000"/><circle cx="1535.5" cy="518.9" r="2.2" fill="#fff" fill-opacity="0.85"/>
<circle cx="1539.9" cy="521.3" r="7.5" fill="#000"/><circle cx="1538.3" cy="518.9" r="2.2" fill="#fff" fill-opacity="0.85"/>
<circle cx="1542.7" cy="536.3" r="7.5" fill="#000"/><circle cx="1541.1" cy="533.9" r="2.2" fill="#fff" fill-opacity="0.85"/>
<circle cx="1545.5" cy="514.5" r="7.5" fill="#000"/><circle cx="1543.9" cy="512.1" r="2.2" fill="#fff" fill-opacity="0.85"/>
<circle cx="1548.2" cy="521.3" r="7.5" fill="#000"/><circle cx="1546.6" cy="518.9" r="2.2" fill="#fff" fill-opacity="0.85"/>
<circle cx="1551.0" cy="553.4" r="7.5" fill="#000"/><circle cx="1549.4" cy="551.0" r="2.2" fill="#fff" fill-opacity="0.85"/>
<circle cx="1553.8" cy="536.3" r="7.5" fill="#000"/><circle cx="1552.2" cy="533.9" r="2.2" fill="#fff" fill-opacity="0.85"/>
<circle cx="1556.6" cy="528.6" r="7.5" fill="#000"/><circle cx="1555.0" cy="526.2" r="2.2" fill="#fff" fill-opacity="0.85"/>
<circle cx="1559.4" cy="528.6" r="7.5" fill="#000"/><circle cx="1557.8" cy="526.2" r="2.2" fill="#fff" fill-opacity="0.85"/>
<circle cx="1562.2" cy="544.6" r="7.5" fill="#000"/><circle cx="1560.6" cy="542.2" r="2.2" fill="#fff" fill-opacity="0.85"/>
<circle cx="1565.0" cy="521.3" r="7.5" fill="#000"/><circle cx="1563.4" cy="518.9" r="2.2" fill="#fff" fill-opacity="0.85"/>
<circle cx="1567.8" cy="553.4" r="7.5" fill="#000"/><circle cx="1566.2" cy="551.0" r="2.2" fill="#fff" fill-opacity="0.85"/>
<circle cx="1570.5" cy="508.0" r="7.5" fill="#000"/><circle cx="1568.9" cy="505.6" r="2.2" fill="#fff" fill-opacity="0.85"/>
<circle cx="1573.3" cy="544.6" r="7.5" fill="#000"/><circle cx="1571.7" cy="542.2" r="2.2" fill="#fff" fill-opacity="0.85"/>
<circle cx="1576.1" cy="544.6" r="7.5" fill="#000"/><circle cx="1574.5" cy="542.2" r="2.2" fill="#fff" fill-opacity="0.85"/>
<circle cx="1578.9" cy="528.6" r="7.5" fill="#000"/><circle cx="1577.3" cy="526.2" r="2.2" fill="#fff" fill-opacity="0.85"/>
<circle cx="1581.7" cy="536.3" r="7.5" fill="#000"/><circle cx="1580.1" cy="533.9" r="2.2" fill="#fff" fill-opacity="0.85"/>
<circle cx="1584.5" cy="563.0" r="7.5" fill="#000"/><circle cx="1582.9" cy="560.6" r="2.2" fill="#fff" fill-opacity="0.85"/>
<circle cx="1587.3" cy="536.3" r="7.5" fill="#000"/><circle cx="1585.7" cy="533.9" r="2.2" fill="#fff" fill-opacity="0.85"/>
<circle cx="1590.0" cy="521.3" r="7.5" fill="#000"/><circle cx="1588.4" cy="518.9" r="2.2" fill="#fff" fill-opacity="0.85"/>
<circle cx="1592.8" cy="544.6" r="7.5" fill="#000"/><circle cx="1591.2" cy="542.2" r="2.2" fill="#fff" fill-opacity="0.85"/>
<circle cx="1595.6" cy="553.4" r="7.5" fill="#000"/><circle cx="1594.0" cy="551.0" r="2.2" fill="#fff" fill-opacity="0.85"/>
<circle cx="1598.4" cy="536.3" r="7.5" fill="#000"/><circle cx="1596.8" cy="533.9" r="2.2" fill="#fff" fill-opacity="0.85"/>
<circle cx="1601.2" cy="553.4" r="7.5" fill="#000"/><circle cx="1599.6" cy="551.0" r="2.2" fill="#fff" fill-opacity="0.85"/>
<circle cx="1604.0" cy="528.6" r="7.5" fill="#000"/><circle cx="1602.4" cy="526.2" r="2.2" fill="#fff" fill-opacity="0.85"/>
<circle cx="1606.8" cy="528.6" r="7.5" fill="#000"/><circle cx="1605.2" cy="526.2" r="2.2" fill="#fff" fill-opacity="0.85"/>
<circle cx="1609.6" cy="536.3" r="7.5" fill="#000"/><circle cx="1608.0" cy="533.9" r="2.2" fill="#fff" fill-opacity="0.85"/>
<circle cx="1612.3" cy="528.6" r="7.5" fill="#000"/><circle cx="1610.7" cy="526.2" r="2.2" fill="#fff" fill-opacity="0.85"/>
<circle cx="1615.1" cy="536.3" r="7.5" fill="#000"/><circle cx="1613.5" cy="533.9" r="2.2" fill="#fff" fill-opacity="0.85"/>
<circle cx="1617.9" cy="573.4" r="7.5" fill="#000"/><circle cx="1616.3" cy="571.0" r="2.2" fill="#fff" fill-opacity="0.85"/>
<circle cx="1620.7" cy="521.3" r="7.5" fill="#000"/><circle cx="1619.1" cy="518.9" r="2.2" fill="#fff" fill-opacity="0.85"/>
<circle cx="1623.5" cy="553.4" r="7.5" fill="#000"/><circle cx="1621.9" cy="551.0" r="2.2" fill="#fff" fill-opacity="0.85"/>
<circle cx="1626.3" cy="553.4" r="7.5" fill="#000"/><circle cx="1624.7" cy="551.0" r="2.2" fill="#fff" fill-opacity="0.85"/>
<circle cx="1629.1" cy="553.4" r="7.5" fill="#000"/><circle cx="1627.5" cy="551.0" r="2.2" fill="#fff" fill-opacity="0.85"/>
<circle cx="1631.8" cy="536.3" r="7.5" fill="#000"/><circle cx="1630.2" cy="533.9" r="2.2" fill="#fff" fill-opacity="0.85"/>
<circle cx="1634.6" cy="573.4" r="7.5" fill="#000"/><circle cx="1633.0" cy="571.0" r="2.2" fill="#fff" fill-opacity="0.85"/>
<circle cx="1637.4" cy="553.4" r="7.5" fill="#000"/><circle cx="1635.8" cy="551.0" r="2.2" fill="#fff" fill-opacity="0.85"/>
<circle cx="1640.2" cy="544.6" r="7.5" fill="#000"/><circle cx="1638.6" cy="542.2" r="2.2" fill="#fff" fill-opacity="0.85"/>
<circle cx="1643.0" cy="563.0" r="7.5" fill="#000"/><circle cx="1641.4" cy="560.6" r="2.2" fill="#fff" fill-opacity="0.85"/>
<circle cx="1645.8" cy="553.4" r="7.5" fill="#000"/><circle cx="1644.2" cy="551.0" r="2.2" fill="#fff" fill-opacity="0.85"/>
<circle cx="1648.6" cy="536.3" r="7.5" fill="#000"/><circle cx="1647.0" cy="533.9" r="2.2" fill="#fff" fill-opacity="0.85"/>
<circle cx="1651.4" cy="544.6" r="7.5" fill="#000"/><circle cx="1649.8" cy="542.2" r="2.2" fill="#fff" fill-opacity="0.85"/>
<circle cx="1654.1" cy="584.8" r="7.5" fill="#000"/><circle cx="1652.5" cy="582.4" r="2.2" fill="#fff" fill-opacity="0.85"/>
<circle cx="1656.9" cy="563.0" r="7.5" fill="#000"/><circle cx="1655.3" cy="560.6" r="2.2" fill="#fff" fill-opacity="0.85"/>
<circle cx="1659.7" cy="544.6" r="7.5" fill="#000"/><circle cx="1658.1" cy="542.2" r="2.2" fill="#fff" fill-opacity="0.85"/>
<circle cx="1662.5" cy="563.0" r="7.5" fill="#000"/><circle cx="1660.9" cy="560.6" r="2.2" fill="#fff" fill-opacity="0.85"/>
<circle cx="1665.3" cy="573.4" r="7.5" fill="#000"/><circle cx="1663.7" cy="571.0" r="2.2" fill="#fff" fill-opacity="0.85"/>
<circle cx="1668.1" cy="544.6" r="7.5" fill="#000"/><circle cx="1666.5" cy="542.2" r="2.2" fill="#fff" fill-opacity="0.85"/>
<circle cx="1670.9" cy="544.6" r="7.5" fill="#000"/><circle cx="1669.3" cy="542.2" r="2.2" fill="#fff" fill-opacity="0.85"/>
<circle cx="1673.6" cy="563.0" r="7.5" fill="#000"/><circle cx="1672.0" cy="560.6" r="2.2" fill="#fff" fill-opacity="0.85"/>
<circle cx="1676.4" cy="563.0" r="7.5" fill="#000"/><circle cx="1674.8" cy="560.6" r="2.2" fill="#fff" fill-opacity="0.85"/>
<circle cx="1679.2" cy="553.4" r="7.5" fill="#000"/><circle cx="1677.6" cy="551.0" r="2.2" fill="#fff" fill-opacity="0.85"/>
<circle cx="1682.0" cy="553.4" r="7.5" fill="#000"/><circle cx="1680.4" cy="551.0" r="2.2" fill="#fff" fill-opacity="0.85"/>
<circle cx="1684.8" cy="563.0" r="7.5" fill="#000"/><circle cx="1683.2" cy="560.6" r="2.2" fill="#fff" fill-opacity="0.85"/>
<circle cx="1687.6" cy="553.4" r="7.5" fill="#000"/><circle cx="1686.0" cy="551.0" r="2.2" fill="#fff" fill-opacity="0.85"/>
<circle cx="1690.4" cy="563.0" r="7.5" fill="#000"/><circle cx="1688.8" cy="560.6" r="2.2" fill="#fff" fill-opacity="0.85"/>
<circle cx="1693.2" cy="563.0" r="7.5" fill="#000"/><circle cx="1691.6" cy="560.6" r="2.2" fill="#fff" fill-opacity="0.85"/>
<circle cx="1695.9" cy="563.0" r="7.5" fill="#000"/><circle cx="1694.3" cy="560.6" r="2.2" fill="#fff" fill-opacity="0.85"/>
<circle cx="1698.7" cy="573.4" r="7.5" fill="#000"/><circle cx="1697.1" cy="571.0" r="2.2" fill="#fff" fill-opacity="0.85"/>
<circle cx="1701.5" cy="573.4" r="7.5" fill="#000"/><circle cx="1699.9" cy="571.0" r="2.2" fill="#fff" fill-opacity="0.85"/>
<circle cx="1704.3" cy="573.4" r="7.5" fill="#000"/><circle cx="1702.7" cy="571.0" r="2.2" fill="#fff" fill-opacity="0.85"/>
<circle cx="1707.1" cy="611.5" r="7.5" fill="#000"/><circle cx="1705.5" cy="609.1" r="2.2" fill="#fff" fill-opacity="0.85"/>
<circle cx="1709.9" cy="553.4" r="7.5" fill="#000"/><circle cx="1708.3" cy="551.0" r="2.2" fill="#fff" fill-opacity="0.85"/>
<circle cx="1712.7" cy="597.4" r="7.5" fill="#000"/><circle cx="1711.1" cy="595.0" r="2.2" fill="#fff" fill-opacity="0.85"/>
<circle cx="1715.4" cy="563.0" r="7.5" fill="#000"/><circle cx="1713.8" cy="560.6" r="2.2" fill="#fff" fill-opacity="0.85"/>
<circle cx="1718.2" cy="573.4" r="7.5" fill="#000"/><circle cx="1716.6" cy="571.0" r="2.2" fill="#fff" fill-opacity="0.85"/>
<circle cx="1721.0" cy="563.0" r="7.5" fill="#000"/><circle cx="1719.4" cy="560.6" r="2.2" fill="#fff" fill-opacity="0.85"/>
<circle cx="1723.8" cy="563.0" r="7.5" fill="#000"/><circle cx="1722.2" cy="560.6" r="2.2" fill="#fff" fill-opacity="0.85"/>
<circle cx="1726.6" cy="563.0" r="7.5" fill="#000"/><circle cx="1725.0" cy="560.6" r="2.2" fill="#fff" fill-opacity="0.85"/>
<circle cx="1729.4" cy="563.0" r="7.5" fill="#000"/><circle cx="1727.8" cy="560.6" r="2.2" fill="#fff" fill-opacity="0.85"/>
<circle cx="1732.2" cy="563.0" r="7.5" fill="#000"/><circle cx="1730.6" cy="560.6" r="2.2" fill="#fff" fill-opacity="0.85"/>
<circle cx="1735.0" cy="536.3" r="7.5" fill="#000"/><circle cx="1733.4" cy="533.9" r="2.2" fill="#fff" fill-opacity="0.85"/>
<circle cx="1737.7" cy="563.0" r="7.5" fill="#000"/><circle cx="1736.1" cy="560.6" r="2.2" fill="#fff" fill-opacity="0.85"/>
<circle cx="1740.5" cy="573.4" r="7.5" fill="#000"/><circle cx="1738.9" cy="571.0" r="2.2" fill="#fff" fill-opacity="0.85"/>
<circle cx="1743.3" cy="573.4" r="7.5" fill="#000"/><circle cx="1741.7" cy="571.0" r="2.2" fill="#fff" fill-opacity="0.85"/>
<circle cx="1746.1" cy="528.6" r="7.5" fill="#000"/><circle cx="1744.5" cy="526.2" r="2.2" fill="#fff" fill-opacity="0.85"/>
<circle cx="1748.9" cy="573.4" r="7.5" fill="#000"/><circle cx="1747.3" cy="571.0" r="2.2" fill="#fff" fill-opacity="0.85"/>
<circle cx="1751.7" cy="544.6" r="7.5" fill="#000"/><circle cx="1750.1" cy="542.2" r="2.2" fill="#fff" fill-opacity="0.85"/>
<circle cx="1754.5" cy="597.4" r="7.5" fill="#000"/><circle cx="1752.9" cy="595.0" r="2.2" fill="#fff" fill-opacity="0.85"/>
<circle cx="1757.2" cy="553.4" r="7.5" fill="#000"/><circle cx="1755.6" cy="551.0" r="2.2" fill="#fff" fill-opacity="0.85"/>
<circle cx="1760.0" cy="573.4" r="7.5" fill="#000"/><circle cx="1758.4" cy="571.0" r="2.2" fill="#fff" fill-opacity="0.85"/>
<circle cx="1762.8" cy="563.0" r="7.5" fill="#000"/><circle cx="1761.2" cy="560.6" r="2.2" fill="#fff" fill-opacity="0.85"/>
<circle cx="1765.6" cy="563.0" r="7.5" fill="#000"/><circle cx="1764.0" cy="560.6" r="2.2" fill="#fff" fill-opacity="0.85"/>
<circle cx="1768.4" cy="553.4" r="7.5" fill="#000"/><circle cx="1766.8" cy="551.0" r="2.2" fill="#fff" fill-opacity="0.85"/>
<circle cx="1771.2" cy="553.4" r="7.5" fill="#000"/><circle cx="1769.6" cy="551.0" r="2.2" fill="#fff" fill-opacity="0.85"/>
<circle cx="1774.0" cy="563.0" r="7.5" fill="#000"/><circle cx="1772.4" cy="560.6" r="2.2" fill="#fff" fill-opacity="0.85"/>
<circle cx="1776.8" cy="563.0" r="7.5" fill="#000"/><circle cx="1775.2" cy="560.6" r="2.2" fill="#fff" fill-opacity="0.85"/>
<circle cx="1779.5" cy="563.0" r="7.5" fill="#000"/><circle cx="1777.9" cy="560.6" r="2.2" fill="#fff" fill-opacity="0.85"/>
<circle cx="1782.3" cy="573.4" r="7.5" fill="#000"/><circle cx="1780.7" cy="571.0" r="2.2" fill="#fff" fill-opacity="0.85"/>
<circle cx="1785.1" cy="553.4" r="7.5" fill="#000"/><circle cx="1783.5" cy="551.0" r="2.2" fill="#fff" fill-opacity="0.85"/>
<circle cx="1787.9" cy="573.4" r="7.5" fill="#000"/><circle cx="1786.3" cy="571.0" r="2.2" fill="#fff" fill-opacity="0.85"/>
<circle cx="1790.7" cy="597.4" r="7.5" fill="#000"/><circle cx="1789.1" cy="595.0" r="2.2" fill="#fff" fill-opacity="0.85"/>
<circle cx="1793.5" cy="563.0" r="7.5" fill="#000"/><circle cx="1791.9" cy="560.6" r="2.2" fill="#fff" fill-opacity="0.85"/>
<circle cx="1796.3" cy="584.8" r="7.5" fill="#000"/><circle cx="1794.7" cy="582.4" r="2.2" fill="#fff" fill-opacity="0.85"/>
<circle cx="1799.0" cy="553.4" r="7.5" fill="#000"/><circle cx="1797.4" cy="551.0" r="2.2" fill="#fff" fill-opacity="0.85"/>
<circle cx="1801.8" cy="597.4" r="7.5" fill="#000"/><circle cx="1800.2" cy="595.0" r="2.2" fill="#fff" fill-opacity="0.85"/>
<circle cx="1804.6" cy="553.4" r="7.5" fill="#000"/><circle cx="1803.0" cy="551.0" r="2.2" fill="#fff" fill-opacity="0.85"/>
<circle cx="1807.4" cy="553.4" r="7.5" fill="#000"/><circle cx="1805.8" cy="551.0" r="2.2" fill="#fff" fill-opacity="0.85"/>
<circle cx="1810.2" cy="584.8" r="7.5" fill="#000"/><circle cx="1808.6" cy="582.4" r="2.2" fill="#fff" fill-opacity="0.85"/>
<circle cx="1813.0" cy="584.8" r="7.5" fill="#000"/><circle cx="1811.4" cy="582.4" r="2.2" fill="#fff" fill-opacity="0.85"/>
<circle cx="1815.8" cy="584.8" r="7.5" fill="#000"/><circle cx="1814.2" cy="582.4" r="2.2" fill="#fff" fill-opacity="0.85"/>
<circle cx="1818.6" cy="553.4" r="7.5" fill="#000"/><circle cx="1817.0" cy="551.0" r="2.2" fill="#fff" fill-opacity="0.85"/>
<circle cx="1821.3" cy="584.8" r="7.5" fill="#000"/><circle cx="1819.7" cy="582.4" r="2.2" fill="#fff" fill-opacity="0.85"/>
<circle cx="1824.1" cy="584.8" r="7.5" fill="#000"/><circle cx="1822.5" cy="582.4" r="2.2" fill="#fff" fill-opacity="0.85"/>
<circle cx="1826.9" cy="573.4" r="7.5" fill="#000"/><circle cx="1825.3" cy="571.0" r="2.2" fill="#fff" fill-opacity="0.85"/>
<circle cx="1829.7" cy="584.8" r="7.5" fill="#000"/><circle cx="1828.1" cy="582.4" r="2.2" fill="#fff" fill-opacity="0.85"/>
<circle cx="1832.5" cy="597.4" r="7.5" fill="#000"/><circle cx="1830.9" cy="595.0" r="2.2" fill="#fff" fill-opacity="0.85"/>
<circle cx="1835.3" cy="563.0" r="7.5" fill="#000"/><circle cx="1833.7" cy="560.6" r="2.2" fill="#fff" fill-opacity="0.85"/>
<circle cx="1838.1" cy="563.0" r="7.5" fill="#000"/><circle cx="1836.5" cy="560.6" r="2.2" fill="#fff" fill-opacity="0.85"/>
<circle cx="1840.8" cy="563.0" r="7.5" fill="#000"/><circle cx="1839.2" cy="560.6" r="2.2" fill="#fff" fill-opacity="0.85"/>
<circle cx="1843.6" cy="584.8" r="7.5" fill="#000"/><circle cx="1842.0" cy="582.4" r="2.2" fill="#fff" fill-opacity="0.85"/>
<circle cx="1846.4" cy="553.4" r="7.5" fill="#000"/><circle cx="1844.8" cy="551.0" r="2.2" fill="#fff" fill-opacity="0.85"/>
<circle cx="1849.2" cy="563.0" r="7.5" fill="#000"/><circle cx="1847.6" cy="560.6" r="2.2" fill="#fff" fill-opacity="0.85"/>
<circle cx="1852.0" cy="597.4" r="7.5" fill="#000"/><circle cx="1850.4" cy="595.0" r="2.2" fill="#fff" fill-opacity="0.85"/>
<circle cx="1854.8" cy="563.0" r="7.5" fill="#000"/><circle cx="1853.2" cy="560.6" r="2.2" fill="#fff" fill-opacity="0.85"/>
<circle cx="1857.6" cy="563.0" r="7.5" fill="#000"/><circle cx="1856.0" cy="560.6" r="2.2" fill="#fff" fill-opacity="0.85"/>
<circle cx="1860.4" cy="563.0" r="7.5" fill="#000"/><circle cx="1858.8" cy="560.6" r="2.2" fill="#fff" fill-opacity="0.85"/>
<circle cx="1863.1" cy="573.4" r="7.5" fill="#000"/><circle cx="1861.5" cy="571.0" r="2.2" fill="#fff" fill-opacity="0.85"/>
<circle cx="1865.9" cy="563.0" r="7.5" fill="#000"/><circle cx="1864.3" cy="560.6" r="2.2" fill="#fff" fill-opacity="0.85"/>
<circle cx="1868.7" cy="544.6" r="7.5" fill="#000"/><circle cx="1867.1" cy="542.2" r="2.2" fill="#fff" fill-opacity="0.85"/>
<circle cx="1871.5" cy="584.8" r="7.5" fill="#000"/><circle cx="1869.9" cy="582.4" r="2.2" fill="#fff" fill-opacity="0.85"/>
<circle cx="1874.3" cy="573.4" r="7.5" fill="#000"/><circle cx="1872.7" cy="571.0" r="2.2" fill="#fff" fill-opacity="0.85"/>
<circle cx="1877.1" cy="553.4" r="7.5" fill="#000"/><circle cx="1875.5" cy="551.0" r="2.2" fill="#fff" fill-opacity="0.85"/>
<circle cx="1879.9" cy="563.0" r="7.5" fill="#000"/><circle cx="1878.3" cy="560.6" r="2.2" fill="#fff" fill-opacity="0.85"/>
<circle cx="1882.6" cy="563.0" r="7.5" fill="#000"/><circle cx="1881.0" cy="560.6" r="2.2" fill="#fff" fill-opacity="0.85"/>
<circle cx="1885.4" cy="563.0" r="7.5" fill="#000"/><circle cx="1883.8" cy="560.6" r="2.2" fill="#fff" fill-opacity="0.85"/>
<circle cx="1888.2" cy="573.4" r="7.5" fill="#000"/><circle cx="1886.6" cy="571.0" r="2.2" fill="#fff" fill-opacity="0.85"/>
<circle cx="1891.0" cy="563.0" r="7.5" fill="#000"/><circle cx="1889.4" cy="560.6" r="2.2" fill="#fff" fill-opacity="0.85"/>
<circle cx="1893.8" cy="584.8" r="7.5" fill="#000"/><circle cx="1892.2" cy="582.4" r="2.2" fill="#fff" fill-opacity="0.85"/>
<circle cx="1896.6" cy="584.8" r="7.5" fill="#000"/><circle cx="1895.0" cy="582.4" r="2.2" fill="#fff" fill-opacity="0.85"/>
<circle cx="1899.4" cy="544.6" r="7.5" fill="#000"/><circle cx="1897.8" cy="542.2" r="2.2" fill="#fff" fill-opacity="0.85"/>
<circle cx="1902.2" cy="563.0" r="7.5" fill="#000"/><circle cx="1900.6" cy="560.6" r="2.2" fill="#fff" fill-opacity="0.85"/>
<circle cx="1904.9" cy="563.0" r="7.5" fill="#000"/><circle cx="1903.3" cy="560.6" r="2.2" fill="#fff" fill-opacity="0.85"/>
<circle cx="1907.7" cy="553.4" r="7.5" fill="#000"/><circle cx="1906.1" cy="551.0" r="2.2" fill="#fff" fill-opacity="0.85"/>
<circle cx="1910.5" cy="553.4" r="7.5" fill="#000"/><circle cx="1908.9" cy="551.0" r="2.2" fill="#fff" fill-opacity="0.85"/>
<circle cx="1913.3" cy="563.0" r="7.5" fill="#000"/><circle cx="1911.7" cy="560.6" r="2.2" fill="#fff" fill-opacity="0.85"/>
<circle cx="1916.1" cy="573.4" r="7.5" fill="#000"/><circle cx="1914.5" cy="571.0" r="2.2" fill="#fff" fill-opacity="0.85"/>
<circle cx="1918.9" cy="584.8" r="7.5" fill="#000"/><circle cx="1917.3" cy="582.4" r="2.2" fill="#fff" fill-opacity="0.85"/>
<circle cx="1921.7" cy="563.0" r="7.5" fill="#000"/><circle cx="1920.1" cy="560.6" r="2.2" fill="#fff" fill-opacity="0.85"/>
<circle cx="1924.4" cy="544.6" r="7.5" fill="#000"/><circle cx="1922.8" cy="542.2" r="2.2" fill="#fff" fill-opacity="0.85"/>
<circle cx="1927.2" cy="553.4" r="7.5" fill="#000"/><circle cx="1925.6" cy="551.0" r="2.2" fill="#fff" fill-opacity="0.85"/>
<circle cx="1930.0" cy="584.8" r="7.5" fill="#000"/><circle cx="1928.4" cy="582.4" r="2.2" fill="#fff" fill-opacity="0.85"/>
<circle cx="1932.8" cy="563.0" r="7.5" fill="#000"/><circle cx="1931.2" cy="560.6" r="2.2" fill="#fff" fill-opacity="0.85"/>
<circle cx="1935.6" cy="563.0" r="7.5" fill="#000"/><circle cx="1934.0" cy="560.6" r="2.2" fill="#fff" fill-opacity="0.85"/>
<circle cx="1938.4" cy="573.4" r="7.5" fill="#000"/><circle cx="1936.8" cy="571.0" r="2.2" fill="#fff" fill-opacity="0.85"/>
<circle cx="1941.2" cy="563.0" r="7.5" fill="#000"/><circle cx="1939.6" cy="560.6" r="2.2" fill="#fff" fill-opacity="0.85"/>
<circle cx="1944.0" cy="584.8" r="7.5" fill="#000"/><circle cx="1942.4" cy="582.4" r="2.2" fill="#fff" fill-opacity="0.85"/>
<circle cx="1946.7" cy="563.0" r="7.5" fill="#000"/><circle cx="1945.1" cy="560.6" r="2.2" fill="#fff" fill-opacity="0.85"/>
<circle cx="1949.5" cy="597.4" r="7.5" fill="#000"/><circle cx="1947.9" cy="595.0" r="2.2" fill="#fff" fill-opacity="0.85"/>
<circle cx="1952.3" cy="553.4" r="7.5" fill="#000"/><circle cx="1950.7" cy="551.0" r="2.2" fill="#fff" fill-opacity="0.85"/>
<circle cx="1955.1" cy="584.8" r="7.5" fill="#000"/><circle cx="1953.5" cy="582.4" r="2.2" fill="#fff" fill-opacity="0.85"/>
<circle cx="1957.9" cy="584.8" r="7.5" fill="#000"/><circle cx="1956.3" cy="582.4" r="2.2" fill="#fff" fill-opacity="0.85"/>
<circle cx="1960.7" cy="528.6" r="7.5" fill="#000"/><circle cx="1959.1" cy="526.2" r="2.2" fill="#fff" fill-opacity="0.85"/>
<circle cx="1963.5" cy="563.0" r="7.5" fill="#000"/><circle cx="1961.9" cy="560.6" r="2.2" fill="#fff" fill-opacity="0.85"/>
<circle cx="1966.2" cy="573.4" r="7.5" fill="#000"/><circle cx="1964.6" cy="571.0" r="2.2" fill="#fff" fill-opacity="0.85"/>
<circle cx="1969.0" cy="573.4" r="7.5" fill="#000"/><circle cx="1967.4" cy="571.0" r="2.2" fill="#fff" fill-opacity="0.85"/>
<circle cx="1971.8" cy="563.0" r="7.5" fill="#000"/><circle cx="1970.2" cy="560.6" r="2.2" fill="#fff" fill-opacity="0.85"/>
<circle cx="1974.6" cy="573.4" r="7.5" fill="#000"/><circle cx="1973.0" cy="571.0" r="2.2" fill="#fff" fill-opacity="0.85"/>
<circle cx="1977.4" cy="584.8" r="7.5" fill="#000"/><circle cx="1975.8" cy="582.4" r="2.2" fill="#fff" fill-opacity="0.85"/>
<circle cx="1980.2" cy="584.8" r="7.5" fill="#000"/><circle cx="1978.6" cy="582.4" r="2.2" fill="#fff" fill-opacity="0.85"/>
<circle cx="1983.0" cy="563.0" r="7.5" fill="#000"/><circle cx="1981.4" cy="560.6" r="2.2" fill="#fff" fill-opacity="0.85"/>
<circle cx="1985.8" cy="544.6" r="7.5" fill="#000"/><circle cx="1984.2" cy="542.2" r="2.2" fill="#fff" fill-opacity="0.85"/>
<circle cx="1988.5" cy="573.4" r="7.5" fill="#000"/><circle cx="1986.9" cy="571.0" r="2.2" fill="#fff" fill-opacity="0.85"/>
<circle cx="1991.3" cy="584.8" r="7.5" fill="#000"/><circle cx="1989.7" cy="582.4" r="2.2" fill="#fff" fill-opacity="0.85"/>
<circle cx="1994.1" cy="553.4" r="7.5" fill="#000"/><circle cx="1992.5" cy="551.0" r="2.2" fill="#fff" fill-opacity="0.85"/>
<circle cx="1200.1" cy="163.7" r="7.5" fill="#ff0000"/><circle cx="1198.5" cy="161.3" r="2.2" fill="#fff" fill-opacity="0.85"/>
<circle cx="1201.3" cy="150.5" r="7.5" fill="#ff0000"/><circle cx="1199.7" cy="148.1" r="2.2" fill="#fff" fill-opacity="0.85"/>
<circle cx="1202.3" cy="175.7" r="7.5" fill="#ff0000"/><circle cx="1200.7" cy="173.3" r="2.2" fill="#fff" fill-opacity="0.85"/>
<circle cx="1203.3" cy="190.1" r="7.5" fill="#ff0000"/><circle cx="1201.7" cy="187.7" r="2.2" fill="#fff" fill-opacity="0.85"/>
<circle cx="1204.3" cy="211.2" r="7.5" fill="#ff0000"/><circle cx="1202.7" cy="208.8" r="2.2" fill="#fff" fill-opacity="0.85"/>
<circle cx="1205.3" cy="225.8" r="7.5" fill="#ff0000"/><circle cx="1203.7" cy="223.4" r="2.2" fill="#fff" fill-opacity="0.85"/>
<circle cx="1206.5" cy="232.0" r="7.5" fill="#ff0000"/><circle cx="1204.9" cy="229.6" r="2.2" fill="#fff" fill-opacity="0.85"/>
<circle cx="1207.7" cy="236.4" r="7.5" fill="#ff0000"/><circle cx="1206.1" cy="234.0" r="2.2" fill="#fff" fill-opacity="0.85"/>
<circle cx="1208.9" cy="234.4" r="7.5" fill="#ff0000"/><circle cx="1207.3" cy="232.0" r="2.2" fill="#fff" fill-opacity="0.85"/>
<circle cx="1210.1" cy="239.9" r="7.5" fill="#ff0000"/><circle cx="1208.5" cy="237.5" r="2.2" fill="#fff" fill-opacity="0.85"/>
<circle cx="1212.8" cy="266.4" r="7.5" fill="#ff0000"/><circle cx="1211.2" cy="264.0" r="2.2" fill="#fff" fill-opacity="0.85"/>
<circle cx="1215.6" cy="246.2" r="7.5" fill="#ff0000"/><circle cx="1214.0" cy="243.8" r="2.2" fill="#fff" fill-opacity="0.85"/>
<circle cx="1218.4" cy="265.9" r="7.5" fill="#ff0000"/><circle cx="1216.8" cy="263.5" r="2.2" fill="#fff" fill-opacity="0.85"/>
<circle cx="1221.2" cy="263.2" r="7.5" fill="#ff0000"/><circle cx="1219.6" cy="260.8" r="2.2" fill="#fff" fill-opacity="0.85"/>
<circle cx="1224.0" cy="264.4" r="7.5" fill="#ff0000"/><circle cx="1222.4" cy="262.0" r="2.2" fill="#fff" fill-opacity="0.85"/>
<circle cx="1226.8" cy="268.9" r="7.5" fill="#ff0000"/><circle cx="1225.2" cy="266.5" r="2.2" fill="#fff" fill-opacity="0.85"/>
<circle cx="1229.6" cy="282.1" r="7.5" fill="#ff0000"/><circle cx="1228.0" cy="279.7" r="2.2" fill="#fff" fill-opacity="0.85"/>
<circle cx="1232.4" cy="285.0" r="7.5" fill="#ff0000"/><circle cx="1230.8" cy="282.6" r="2.2" fill="#fff" fill-opacity="0.85"/>
<circle cx="1235.1" cy="279.4" r="7.5" fill="#ff0000"/><circle cx="1233.5" cy="277.0" r="2.2" fill="#fff" fill-opacity="0.85"/>
<circle cx="1237.9" cy="280.1" r="7.5" fill="#ff0000"/><circle cx="1236.3" cy="277.7" r="2.2" fill="#fff" fill-opacity="0.85"/>
<circle cx="1240.7" cy="286.9" r="7.5" fill="#ff0000"/><circle cx="1239.1" cy="284.5" r="2.2" fill="#fff" fill-opacity="0.85"/>
<circle cx="1243.5" cy="284.4" r="7.5" fill="#ff0000"/><circle cx="1241.9" cy="282.0" r="2.2" fill="#fff" fill-opacity="0.85"/>
<circle cx="1246.3" cy="282.0" r="7.5" fill="#ff0000"/><circle cx="1244.7" cy="279.6" r="2.2" fill="#fff" fill-opacity="0.85"/>
<circle cx="1249.1" cy="295.9" r="7.5" fill="#ff0000"/><circle cx="1247.5" cy="293.5" r="2.2" fill="#fff" fill-opacity="0.85"/>
<circle cx="1251.9" cy="299.7" r="7.5" fill="#ff0000"/><circle cx="1250.3" cy="297.3" r="2.2" fill="#fff" fill-opacity="0.85"/>
<circle cx="1254.6" cy="313.2" r="7.5" fill="#ff0000"/><circle cx="1253.0" cy="310.8" r="2.2" fill="#fff" fill-opacity="0.85"/>
<circle cx="1257.4" cy="311.4" r="7.5" fill="#ff0000"/><circle cx="1255.8" cy="309.0" r="2.2" fill="#fff" fill-opacity="0.85"/>
<circle cx="1260.2" cy="328.8" r="7.5" fill="#ff0000"/><circle cx="1258.6" cy="326.4" r="2.2" fill="#fff" fill-opacity="0.85"/>
<circle cx="1263.0" cy="366.3" r="7.5" fill="#ff0000"/><circle cx="1261.4" cy="363.9" r="2.2" fill="#fff" fill-opacity="0.85"/>
<circle cx="1265.8" cy="366.0" r="7.5" fill="#ff0000"/><circle cx="1264.2" cy="363.6" r="2.2" fill="#fff" fill-opacity="0.85"/>
<circle cx="1268.6" cy="351.7" r="7.5" fill="#ff0000"/><circle cx="1267.0" cy="349.3" r="2.2" fill="#fff" fill-opacity="0.85"/>
<circle cx="1271.4" cy="331.7" r="7.5" fill="#ff0000"/><circle cx="1269.8" cy="329.3" r="2.2" fill="#fff" fill-opacity="0.85"/>
<circle cx="1274.2" cy="353.4" r="7.5" fill="#ff0000"/><circle cx="1272.6" cy="351.0" r="2.2" fill="#fff" fill-opacity="0.85"/>
<circle cx="1276.9" cy="333.7" r="7.5" fill="#ff0000"/><circle cx="1275.3" cy="331.3" r="2.2" fill="#fff" fill-opacity="0.85"/>
<circle cx="1279.7" cy="346.4" r="7.5" fill="#ff0000"/><circle cx="1278.1" cy="344.0" r="2.2" fill="#fff" fill-opacity="0.85"/>
<circle cx="1282.5" cy="339.3" r="7.5" fill="#ff0000"/><circle cx="1280.9" cy="336.9" r="2.2" fill="#fff" fill-opacity="0.85"/>
<circle cx="1285.3" cy="371.3" r="7.5" fill="#ff0000"/><circle cx="1283.7" cy="368.9" r="2.2" fill="#fff" fill-opacity="0.85"/>
<circle cx="1288.1" cy="359.0" r="7.5" fill="#ff0000"/><circle cx="1286.5" cy="356.6" r="2.2" fill="#fff" fill-opacity="0.85"/>
<circle cx="1290.9" cy="369.7" r="7.5" fill="#ff0000"/><circle cx="1289.3" cy="367.3" r="2.2" fill="#fff" fill-opacity="0.85"/>
<circle cx="1293.7" cy="372.7" r="7.5" fill="#ff0000"/><circle cx="1292.1" cy="370.3" r="2.2" fill="#fff" fill-opacity="0.85"/>
<circle cx="1296.4" cy="398.1" r="7.5" fill="#ff0000"/><circle cx="1294.8" cy="395.7" r="2.2" fill="#fff" fill-opacity="0.85"/>
<circle cx="1299.2" cy="393.4" r="7.5" fill="#ff0000"/><circle cx="1297.6" cy="391.0" r="2.2" fill="#fff" fill-opacity="0.85"/>
<circle cx="1302.0" cy="404.4" r="7.5" fill="#ff0000"/><circle cx="1300.4" cy="402.0" r="2.2" fill="#fff" fill-opacity="0.85"/>
<circle cx="1304.8" cy="422.1" r="7.5" fill="#ff0000"/><circle cx="1303.2" cy="419.7" r="2.2" fill="#fff" fill-opacity="0.85"/>
<circle cx="1307.6" cy="379.8" r="7.5" fill="#ff0000"/><circle cx="1306.0" cy="377.4" r="2.2" fill="#fff" fill-opacity="0.85"/>
<circle cx="1310.4" cy="408.2" r="7.5" fill="#ff0000"/><circle cx="1308.8" cy="405.8" r="2.2" fill="#fff" fill-opacity="0.85"/>
<circle cx="1313.2" cy="422.1" r="7.5" fill="#ff0000"/><circle cx="1311.6" cy="419.7" r="2.2" fill="#fff" fill-opacity="0.85"/>
<circle cx="1316.0" cy="405.1" r="7.5" fill="#ff0000"/><circle cx="1314.4" cy="402.7" r="2.2" fill="#fff" fill-opacity="0.85"/>
<circle cx="1318.7" cy="423.8" r="7.5" fill="#ff0000"/><circle cx="1317.1" cy="421.4" r="2.2" fill="#fff" fill-opacity="0.85"/>
<circle cx="1321.5" cy="433.6" r="7.5" fill="#ff0000"/><circle cx="1319.9" cy="431.2" r="2.2" fill="#fff" fill-opacity="0.85"/>
<circle cx="1324.3" cy="467.1" r="7.5" fill="#ff0000"/><circle cx="1322.7" cy="464.7" r="2.2" fill="#fff" fill-opacity="0.85"/>
<circle cx="1327.1" cy="432.9" r="7.5" fill="#ff0000"/><circle cx="1325.5" cy="430.5" r="2.2" fill="#fff" fill-opacity="0.85"/>
<circle cx="1329.9" cy="433.4" r="7.5" fill="#ff0000"/><circle cx="1328.3" cy="431.0" r="2.2" fill="#fff" fill-opacity="0.85"/>
<circle cx="1332.7" cy="470.2" r="7.5" fill="#ff0000"/><circle cx="1331.1" cy="467.8" r="2.2" fill="#fff" fill-opacity="0.85"/>
<circle cx="1335.5" cy="431.8" r="7.5" fill="#ff0000"/><circle cx="1333.9" cy="429.4" r="2.2" fill="#fff" fill-opacity="0.85"/>
<circle cx="1338.2" cy="442.3" r="7.5" fill="#ff0000"/><circle cx="1336.6" cy="439.9" r="2.2" fill="#fff" fill-opacity="0.85"/>
<circle cx="1341.0" cy="422.1" r="7.5" fill="#ff0000"/><circle cx="1339.4" cy="419.7" r="2.2" fill="#fff" fill-opacity="0.85"/>
<circle cx="1343.8" cy="436.7" r="7.5" fill="#ff0000"/><circle cx="1342.2" cy="434.3" r="2.2" fill="#fff" fill-opacity="0.85"/>
<circle cx="1346.6" cy="457.5" r="7.5" fill="#ff0000"/><circle cx="1345.0" cy="455.1" r="2.2" fill="#fff" fill-opacity="0.85"/>
<circle cx="1349.4" cy="486.4" r="7.5" fill="#ff0000"/><circle cx="1347.8" cy="484.0" r="2.2" fill="#fff" fill-opacity="0.85"/>
<circle cx="1352.2" cy="423.5" r="7.5" fill="#ff0000"/><circle cx="1350.6" cy="421.1" r="2.2" fill="#fff" fill-opacity="0.85"/>
<circle cx="1355.0" cy="491.0" r="7.5" fill="#ff0000"/><circle cx="1353.4" cy="488.6" r="2.2" fill="#fff" fill-opacity="0.85"/>
<circle cx="1357.8" cy="495.9" r="7.5" fill="#ff0000"/><circle cx="1356.2" cy="493.5" r="2.2" fill="#fff" fill-opacity="0.85"/>
<circle cx="1360.5" cy="457.6" r="7.5" fill="#ff0000"/><circle cx="1358.9" cy="455.2" r="2.2" fill="#fff" fill-opacity="0.85"/>
<circle cx="1363.3" cy="479.5" r="7.5" fill="#ff0000"/><circle cx="1361.7" cy="477.1" r="2.2" fill="#fff" fill-opacity="0.85"/>
<circle cx="1366.1" cy="481.8" r="7.5" fill="#ff0000"/><circle cx="1364.5" cy="479.4" r="2.2" fill="#fff" fill-opacity="0.85"/>
<circle cx="1368.9" cy="523.9" r="7.5" fill="#ff0000"/><circle cx="1367.3" cy="521.5" r="2.2" fill="#fff" fill-opacity="0.85"/>
<circle cx="1371.7" cy="537.2" r="7.5" fill="#ff0000"/><circle cx="1370.1" cy="534.8" r="2.2" fill="#fff" fill-opacity="0.85"/>
<circle cx="1374.5" cy="530.3" r="7.5" fill="#ff0000"/><circle cx="1372.9" cy="527.9" r="2.2" fill="#fff" fill-opacity="0.85"/>
<circle cx="1377.3" cy="501.0" r="7.5" fill="#ff0000"/><circle cx="1375.7" cy="498.6" r="2.2" fill="#fff" fill-opacity="0.85"/>
<circle cx="1380.0" cy="506.3" r="7.5" fill="#ff0000"/><circle cx="1378.4" cy="503.9" r="2.2" fill="#fff" fill-opacity="0.85"/>
<circle cx="1382.8" cy="506.3" r="7.5" fill="#ff0000"/><circle cx="1381.2" cy="503.9" r="2.2" fill="#fff" fill-opacity="0.85"/>
<circle cx="1385.6" cy="486.4" r="7.5" fill="#ff0000"/><circle cx="1384.0" cy="484.0" r="2.2" fill="#fff" fill-opacity="0.85"/>
<circle cx="1388.4" cy="501.0" r="7.5" fill="#ff0000"/><circle cx="1386.8" cy="498.6" r="2.2" fill="#fff" fill-opacity="0.85"/>
<circle cx="1391.2" cy="486.4" r="7.5" fill="#ff0000"/><circle cx="1389.6" cy="484.0" r="2.2" fill="#fff" fill-opacity="0.85"/>
<circle cx="1394.0" cy="501.0" r="7.5" fill="#ff0000"/><circle cx="1392.4" cy="498.6" r="2.2" fill="#fff" fill-opacity="0.85"/>
<circle cx="1396.8" cy="517.7" r="7.5" fill="#ff0000"/><circle cx="1395.2" cy="515.3" r="2.2" fill="#fff" fill-opacity="0.85"/>
<circle cx="1399.6" cy="523.9" r="7.5" fill="#ff0000"/><circle cx="1398.0" cy="521.5" r="2.2" fill="#fff" fill-opacity="0.85"/>
<circle cx="1402.3" cy="544.4" r="7.5" fill="#ff0000"/><circle cx="1400.7" cy="542.0" r="2.2" fill="#fff" fill-opacity="0.85"/>
<circle cx="1405.1" cy="475.8" r="7.5" fill="#ff0000"/><circle cx="1403.5" cy="473.4" r="2.2" fill="#fff" fill-opacity="0.85"/>
<circle cx="1407.9" cy="523.9" r="7.5" fill="#ff0000"/><circle cx="1406.3" cy="521.5" r="2.2" fill="#fff" fill-opacity="0.85"/>
<circle cx="1410.7" cy="530.3" r="7.5" fill="#ff0000"/><circle cx="1409.1" cy="527.9" r="2.2" fill="#fff" fill-opacity="0.85"/>
<circle cx="1413.5" cy="523.9" r="7.5" fill="#ff0000"/><circle cx="1411.9" cy="521.5" r="2.2" fill="#fff" fill-opacity="0.85"/>
<circle cx="1416.3" cy="552.1" r="7.5" fill="#ff0000"/><circle cx="1414.7" cy="549.7" r="2.2" fill="#fff" fill-opacity="0.85"/>
<circle cx="1419.1" cy="578.8" r="7.5" fill="#ff0000"/><circle cx="1417.5" cy="576.4" r="2.2" fill="#fff" fill-opacity="0.85"/>
<circle cx="1421.8" cy="537.2" r="7.5" fill="#ff0000"/><circle cx="1420.2" cy="534.8" r="2.2" fill="#fff" fill-opacity="0.85"/>
<circle cx="1424.6" cy="530.3" r="7.5" fill="#ff0000"/><circle cx="1423.0" cy="527.9" r="2.2" fill="#fff" fill-opacity="0.85"/>
<circle cx="1427.4" cy="530.3" r="7.5" fill="#ff0000"/><circle cx="1425.8" cy="527.9" r="2.2" fill="#fff" fill-opacity="0.85"/>
<circle cx="1430.2" cy="511.9" r="7.5" fill="#ff0000"/><circle cx="1428.6" cy="509.5" r="2.2" fill="#fff" fill-opacity="0.85"/>
<circle cx="1433.0" cy="552.1" r="7.5" fill="#ff0000"/><circle cx="1431.4" cy="549.7" r="2.2" fill="#fff" fill-opacity="0.85"/>
<circle cx="1435.8" cy="544.4" r="7.5" fill="#ff0000"/><circle cx="1434.2" cy="542.0" r="2.2" fill="#fff" fill-opacity="0.85"/>
<circle cx="1438.6" cy="552.1" r="7.5" fill="#ff0000"/><circle cx="1437.0" cy="549.7" r="2.2" fill="#fff" fill-opacity="0.85"/>
<circle cx="1441.4" cy="589.2" r="7.5" fill="#ff0000"/><circle cx="1439.8" cy="586.8" r="2.2" fill="#fff" fill-opacity="0.85"/>
<circle cx="1444.1" cy="552.1" r="7.5" fill="#ff0000"/><circle cx="1442.5" cy="549.7" r="2.2" fill="#fff" fill-opacity="0.85"/>
<circle cx="1446.9" cy="544.4" r="7.5" fill="#ff0000"/><circle cx="1445.3" cy="542.0" r="2.2" fill="#fff" fill-opacity="0.85"/>
<circle cx="1449.7" cy="578.8" r="7.5" fill="#ff0000"/><circle cx="1448.1" cy="576.4" r="2.2" fill="#fff" fill-opacity="0.85"/>
<circle cx="1452.5" cy="537.2" r="7.5" fill="#ff0000"/><circle cx="1450.9" cy="534.8" r="2.2" fill="#fff" fill-opacity="0.85"/>
<circle cx="1455.3" cy="530.3" r="7.5" fill="#ff0000"/><circle cx="1453.7" cy="527.9" r="2.2" fill="#fff" fill-opacity="0.85"/>
<circle cx="1458.1" cy="613.2" r="7.5" fill="#ff0000"/><circle cx="1456.5" cy="610.8" r="2.2" fill="#fff" fill-opacity="0.85"/>
<circle cx="1460.9" cy="560.4" r="7.5" fill="#ff0000"/><circle cx="1459.3" cy="558.0" r="2.2" fill="#fff" fill-opacity="0.85"/>
<circle cx="1463.6" cy="569.3" r="7.5" fill="#ff0000"/><circle cx="1462.0" cy="566.9" r="2.2" fill="#fff" fill-opacity="0.85"/>
<circle cx="1466.4" cy="643.3" r="7.5" fill="#ff0000"/><circle cx="1464.8" cy="640.9" r="2.2" fill="#fff" fill-opacity="0.85"/>
<circle cx="1469.2" cy="600.6" r="7.5" fill="#ff0000"/><circle cx="1467.6" cy="598.2" r="2.2" fill="#fff" fill-opacity="0.85"/>
<circle cx="1472.0" cy="560.4" r="7.5" fill="#ff0000"/><circle cx="1470.4" cy="558.0" r="2.2" fill="#fff" fill-opacity="0.85"/>
<circle cx="1474.8" cy="613.2" r="7.5" fill="#ff0000"/><circle cx="1473.2" cy="610.8" r="2.2" fill="#fff" fill-opacity="0.85"/>
<circle cx="1477.6" cy="544.4" r="7.5" fill="#ff0000"/><circle cx="1476.0" cy="542.0" r="2.2" fill="#fff" fill-opacity="0.85"/>
<circle cx="1480.4" cy="613.2" r="7.5" fill="#ff0000"/><circle cx="1478.8" cy="610.8" r="2.2" fill="#fff" fill-opacity="0.85"/>
<circle cx="1483.2" cy="517.7" r="7.5" fill="#ff0000"/><circle cx="1481.6" cy="515.3" r="2.2" fill="#fff" fill-opacity="0.85"/>
<circle cx="1485.9" cy="544.4" r="7.5" fill="#ff0000"/><circle cx="1484.3" cy="542.0" r="2.2" fill="#fff" fill-opacity="0.85"/>
<circle cx="1488.7" cy="578.8" r="7.5" fill="#ff0000"/><circle cx="1487.1" cy="576.4" r="2.2" fill="#fff" fill-opacity="0.85"/>
<circle cx="1491.5" cy="560.4" r="7.5" fill="#ff0000"/><circle cx="1489.9" cy="558.0" r="2.2" fill="#fff" fill-opacity="0.85"/>
<circle cx="1494.3" cy="569.3" r="7.5" fill="#ff0000"/><circle cx="1492.7" cy="566.9" r="2.2" fill="#fff" fill-opacity="0.85"/>
<circle cx="1497.1" cy="530.3" r="7.5" fill="#ff0000"/><circle cx="1495.5" cy="527.9" r="2.2" fill="#fff" fill-opacity="0.85"/>
<circle cx="1499.9" cy="589.2" r="7.5" fill="#ff0000"/><circle cx="1498.3" cy="586.8" r="2.2" fill="#fff" fill-opacity="0.85"/>
<circle cx="1502.7" cy="544.4" r="7.5" fill="#ff0000"/><circle cx="1501.1" cy="542.0" r="2.2" fill="#fff" fill-opacity="0.85"/>
<circle cx="1505.4" cy="569.3" r="7.5" fill="#ff0000"/><circle cx="1503.8" cy="566.9" r="2.2" fill="#fff" fill-opacity="0.85"/>
<circle cx="1508.2" cy="560.4" r="7.5" fill="#ff0000"/><circle cx="1506.6" cy="558.0" r="2.2" fill="#fff" fill-opacity="0.85"/>
<circle cx="1511.0" cy="569.3" r="7.5" fill="#ff0000"/><circle cx="1509.4" cy="566.9" r="2.2" fill="#fff" fill-opacity="0.85"/>
<circle cx="1513.8" cy="537.2" r="7.5" fill="#ff0000"/><circle cx="1512.2" cy="534.8" r="2.2" fill="#fff" fill-opacity="0.85"/>
<circle cx="1516.6" cy="560.4" r="7.5" fill="#ff0000"/><circle cx="1515.0" cy="558.0" r="2.2" fill="#fff" fill-opacity="0.85"/>
<circle cx="1519.4" cy="600.6" r="7.5" fill="#ff0000"/><circle cx="1517.8" cy="598.2" r="2.2" fill="#fff" fill-opacity="0.85"/>
<circle cx="1522.2" cy="643.3" r="7.5" fill="#ff0000"/><circle cx="1520.6" cy="640.9" r="2.2" fill="#fff" fill-opacity="0.85"/>
<circle cx="1525.0" cy="589.2" r="7.5" fill="#ff0000"/><circle cx="1523.4" cy="586.8" r="2.2" fill="#fff" fill-opacity="0.85"/>
<circle cx="1527.7" cy="544.4" r="7.5" fill="#ff0000"/><circle cx="1526.1" cy="542.0" r="2.2" fill="#fff" fill-opacity="0.85"/>
<circle cx="1530.5" cy="552.1" r="7.5" fill="#ff0000"/><circle cx="1528.9" cy="549.7" r="2.2" fill="#fff" fill-opacity="0.85"/>
<circle cx="1533.3" cy="600.6" r="7.5" fill="#ff0000"/><circle cx="1531.7" cy="598.2" r="2.2" fill="#fff" fill-opacity="0.85"/>
<circle cx="1536.1" cy="710.2" r="7.5" fill="#ff0000"/><circle cx="1534.5" cy="707.8" r="2.2" fill="#fff" fill-opacity="0.85"/>
<circle cx="1538.9" cy="552.1" r="7.5" fill="#ff0000"/><circle cx="1537.3" cy="549.7" r="2.2" fill="#fff" fill-opacity="0.85"/>
<circle cx="1541.7" cy="613.2" r="7.5" fill="#ff0000"/><circle cx="1540.1" cy="610.8" r="2.2" fill="#fff" fill-opacity="0.85"/>
<circle cx="1544.5" cy="569.3" r="7.5" fill="#ff0000"/><circle cx="1542.9" cy="566.9" r="2.2" fill="#fff" fill-opacity="0.85"/>
<circle cx="1547.2" cy="552.1" r="7.5" fill="#ff0000"/><circle cx="1545.6" cy="549.7" r="2.2" fill="#fff" fill-opacity="0.85"/>
<circle cx="1550.0" cy="600.6" r="7.5" fill="#ff0000"/><circle cx="1548.4" cy="598.2" r="2.2" fill="#fff" fill-opacity="0.85"/>
<circle cx="1552.8" cy="600.6" r="7.5" fill="#ff0000"/><circle cx="1551.2" cy="598.2" r="2.2" fill="#fff" fill-opacity="0.85"/>
<circle cx="1555.6" cy="569.3" r="7.5" fill="#ff0000"/><circle cx="1554.0" cy="566.9" r="2.2" fill="#fff" fill-opacity="0.85"/>
<circle cx="1558.4" cy="523.9" r="7.5" fill="#ff0000"/><circle cx="1556.8" cy="521.5" r="2.2" fill="#fff" fill-opacity="0.85"/>
<circle cx="1561.2" cy="552.1" r="7.5" fill="#ff0000"/><circle cx="1559.6" cy="549.7" r="2.2" fill="#fff" fill-opacity="0.85"/>
<circle cx="1564.0" cy="643.3" r="7.5" fill="#ff0000"/><circle cx="1562.4" cy="640.9" r="2.2" fill="#fff" fill-opacity="0.85"/>
<circle cx="1566.8" cy="569.3" r="7.5" fill="#ff0000"/><circle cx="1565.2" cy="566.9" r="2.2" fill="#fff" fill-opacity="0.85"/>
<circle cx="1569.5" cy="511.9" r="7.5" fill="#ff0000"/><circle cx="1567.9" cy="509.5" r="2.2" fill="#fff" fill-opacity="0.85"/>
<circle cx="1572.3" cy="627.3" r="7.5" fill="#ff0000"/><circle cx="1570.7" cy="624.9" r="2.2" fill="#fff" fill-opacity="0.85"/>
<circle cx="1575.1" cy="627.3" r="7.5" fill="#ff0000"/><circle cx="1573.5" cy="624.9" r="2.2" fill="#fff" fill-opacity="0.85"/>
<circle cx="1577.9" cy="569.3" r="7.5" fill="#ff0000"/><circle cx="1576.3" cy="566.9" r="2.2" fill="#fff" fill-opacity="0.85"/>
<circle cx="1580.7" cy="627.3" r="7.5" fill="#ff0000"/><circle cx="1579.1" cy="624.9" r="2.2" fill="#fff" fill-opacity="0.85"/>
<circle cx="1583.5" cy="643.3" r="7.5" fill="#ff0000"/><circle cx="1581.9" cy="640.9" r="2.2" fill="#fff" fill-opacity="0.85"/>
<circle cx="1586.3" cy="578.8" r="7.5" fill="#ff0000"/><circle cx="1584.7" cy="576.4" r="2.2" fill="#fff" fill-opacity="0.85"/>
<circle cx="1589.0" cy="578.8" r="7.5" fill="#ff0000"/><circle cx="1587.4" cy="576.4" r="2.2" fill="#fff" fill-opacity="0.85"/>
<circle cx="1591.8" cy="569.3" r="7.5" fill="#ff0000"/><circle cx="1590.2" cy="566.9" r="2.2" fill="#fff" fill-opacity="0.85"/>
<circle cx="1594.6" cy="600.6" r="7.5" fill="#ff0000"/><circle cx="1593.0" cy="598.2" r="2.2" fill="#fff" fill-opacity="0.85"/>
<circle cx="1597.4" cy="627.3" r="7.5" fill="#ff0000"/><circle cx="1595.8" cy="624.9" r="2.2" fill="#fff" fill-opacity="0.85"/>
<circle cx="1600.2" cy="589.2" r="7.5" fill="#ff0000"/><circle cx="1598.6" cy="586.8" r="2.2" fill="#fff" fill-opacity="0.85"/>
<circle cx="1603.0" cy="600.6" r="7.5" fill="#ff0000"/><circle cx="1601.4" cy="598.2" r="2.2" fill="#fff" fill-opacity="0.85"/>
<circle cx="1605.8" cy="613.2" r="7.5" fill="#ff0000"/><circle cx="1604.2" cy="610.8" r="2.2" fill="#fff" fill-opacity="0.85"/>
<circle cx="1608.6" cy="627.3" r="7.5" fill="#ff0000"/><circle cx="1607.0" cy="624.9" r="2.2" fill="#fff" fill-opacity="0.85"/>
<circle cx="1611.3" cy="613.2" r="7.5" fill="#ff0000"/><circle cx="1609.7" cy="610.8" r="2.2" fill="#fff" fill-opacity="0.85"/>
<circle cx="1614.1" cy="578.8" r="7.5" fill="#ff0000"/><circle cx="1612.5" cy="576.4" r="2.2" fill="#fff" fill-opacity="0.85"/>
<circle cx="1619.7" cy="661.7" r="7.5" fill="#ff0000"/><circle cx="1618.1" cy="659.3" r="2.2" fill="#fff" fill-opacity="0.85"/>
<circle cx="1622.5" cy="569.3" r="7.5" fill="#ff0000"/><circle cx="1620.9" cy="566.9" r="2.2" fill="#fff" fill-opacity="0.85"/>
<circle cx="1625.3" cy="627.3" r="7.5" fill="#ff0000"/><circle cx="1623.7" cy="624.9" r="2.2" fill="#fff" fill-opacity="0.85"/>
<circle cx="1628.1" cy="589.2" r="7.5" fill="#ff0000"/><circle cx="1626.5" cy="586.8" r="2.2" fill="#fff" fill-opacity="0.85"/>
<circle cx="1630.8" cy="627.3" r="7.5" fill="#ff0000"/><circle cx="1629.2" cy="624.9" r="2.2" fill="#fff" fill-opacity="0.85"/>
<circle cx="1633.6" cy="613.2" r="7.5" fill="#ff0000"/><circle cx="1632.0" cy="610.8" r="2.2" fill="#fff" fill-opacity="0.85"/>
<circle cx="1636.4" cy="643.3" r="7.5" fill="#ff0000"/><circle cx="1634.8" cy="640.9" r="2.2" fill="#fff" fill-opacity="0.85"/>
<circle cx="1639.2" cy="589.2" r="7.5" fill="#ff0000"/><circle cx="1637.6" cy="586.8" r="2.2" fill="#fff" fill-opacity="0.85"/>
<circle cx="1642.0" cy="683.5" r="7.5" fill="#ff0000"/><circle cx="1640.4" cy="681.1" r="2.2" fill="#fff" fill-opacity="0.85"/>
<circle cx="1644.8" cy="569.3" r="7.5" fill="#ff0000"/><circle cx="1643.2" cy="566.9" r="2.2" fill="#fff" fill-opacity="0.85"/>
<circle cx="1650.4" cy="710.2" r="7.5" fill="#ff0000"/><circle cx="1648.8" cy="707.8" r="2.2" fill="#fff" fill-opacity="0.85"/>
<circle cx="1653.1" cy="661.7" r="7.5" fill="#ff0000"/><circle cx="1651.5" cy="659.3" r="2.2" fill="#fff" fill-opacity="0.85"/>
<circle cx="1655.9" cy="589.2" r="7.5" fill="#ff0000"/><circle cx="1654.3" cy="586.8" r="2.2" fill="#fff" fill-opacity="0.85"/>
<circle cx="1658.7" cy="523.9" r="7.5" fill="#ff0000"/><circle cx="1657.1" cy="521.5" r="2.2" fill="#fff" fill-opacity="0.85"/>
<circle cx="1664.3" cy="560.4" r="7.5" fill="#ff0000"/><circle cx="1662.7" cy="558.0" r="2.2" fill="#fff" fill-opacity="0.85"/>
<circle cx="1667.1" cy="683.5" r="7.5" fill="#ff0000"/><circle cx="1665.5" cy="681.1" r="2.2" fill="#fff" fill-opacity="0.85"/>
<circle cx="1669.9" cy="627.3" r="7.5" fill="#ff0000"/><circle cx="1668.3" cy="624.9" r="2.2" fill="#fff" fill-opacity="0.85"/>
<circle cx="1672.7" cy="589.2" r="7.5" fill="#ff0000"/><circle cx="1671.1" cy="586.8" r="2.2" fill="#fff" fill-opacity="0.85"/>
<circle cx="1675.4" cy="627.3" r="7.5" fill="#ff0000"/><circle cx="1673.8" cy="624.9" r="2.2" fill="#fff" fill-opacity="0.85"/>
<circle cx="1678.2" cy="710.2" r="7.5" fill="#ff0000"/><circle cx="1676.6" cy="707.8" r="2.2" fill="#fff" fill-opacity="0.85"/>
<circle cx="1681.0" cy="600.6" r="7.5" fill="#ff0000"/><circle cx="1679.4" cy="598.2" r="2.2" fill="#fff" fill-opacity="0.85"/>
<circle cx="1683.8" cy="569.3" r="7.5" fill="#ff0000"/><circle cx="1682.2" cy="566.9" r="2.2" fill="#fff" fill-opacity="0.85"/>
<circle cx="1686.6" cy="544.4" r="7.5" fill="#ff0000"/><circle cx="1685.0" cy="542.0" r="2.2" fill="#fff" fill-opacity="0.85"/>
<circle cx="1689.4" cy="589.2" r="7.5" fill="#ff0000"/><circle cx="1687.8" cy="586.8" r="2.2" fill="#fff" fill-opacity="0.85"/>
<circle cx="1692.2" cy="643.3" r="7.5" fill="#ff0000"/><circle cx="1690.6" cy="640.9" r="2.2" fill="#fff" fill-opacity="0.85"/>
<circle cx="1697.7" cy="613.2" r="7.5" fill="#ff0000"/><circle cx="1696.1" cy="610.8" r="2.2" fill="#fff" fill-opacity="0.85"/>
<circle cx="1700.5" cy="578.8" r="7.5" fill="#ff0000"/><circle cx="1698.9" cy="576.4" r="2.2" fill="#fff" fill-opacity="0.85"/>
<circle cx="1703.3" cy="683.5" r="7.5" fill="#ff0000"/><circle cx="1701.7" cy="681.1" r="2.2" fill="#fff" fill-opacity="0.85"/>
<circle cx="1706.1" cy="613.2" r="7.5" fill="#ff0000"/><circle cx="1704.5" cy="610.8" r="2.2" fill="#fff" fill-opacity="0.85"/>
<circle cx="1708.9" cy="627.3" r="7.5" fill="#ff0000"/><circle cx="1707.3" cy="624.9" r="2.2" fill="#fff" fill-opacity="0.85"/>
<circle cx="1711.7" cy="710.2" r="7.5" fill="#ff0000"/><circle cx="1710.1" cy="707.8" r="2.2" fill="#fff" fill-opacity="0.85"/>
<circle cx="1714.5" cy="627.3" r="7.5" fill="#ff0000"/><circle cx="1712.9" cy="624.9" r="2.2" fill="#fff" fill-opacity="0.85"/>
<circle cx="1720.0" cy="578.8" r="7.5" fill="#ff0000"/><circle cx="1718.4" cy="576.4" r="2.2" fill="#fff" fill-opacity="0.85"/>
<circle cx="1722.8" cy="613.2" r="7.5" fill="#ff0000"/><circle cx="1721.2" cy="610.8" r="2.2" fill="#fff" fill-opacity="0.85"/>
<circle cx="1725.6" cy="569.3" r="7.5" fill="#ff0000"/><circle cx="1724.0" cy="566.9" r="2.2" fill="#fff" fill-opacity="0.85"/>
<circle cx="1728.4" cy="578.8" r="7.5" fill="#ff0000"/><circle cx="1726.8" cy="576.4" r="2.2" fill="#fff" fill-opacity="0.85"/>
<circle cx="1731.2" cy="589.2" r="7.5" fill="#ff0000"/><circle cx="1729.6" cy="586.8" r="2.2" fill="#fff" fill-opacity="0.85"/>
<circle cx="1734.0" cy="600.6" r="7.5" fill="#ff0000"/><circle cx="1732.4" cy="598.2" r="2.2" fill="#fff" fill-opacity="0.85"/>
<circle cx="1736.7" cy="578.8" r="7.5" fill="#ff0000"/><circle cx="1735.1" cy="576.4" r="2.2" fill="#fff" fill-opacity="0.85"/>
<circle cx="1739.5" cy="627.3" r="7.5" fill="#ff0000"/><circle cx="1737.9" cy="624.9" r="2.2" fill="#fff" fill-opacity="0.85"/>
<circle cx="1742.3" cy="589.2" r="7.5" fill="#ff0000"/><circle cx="1740.7" cy="586.8" r="2.2" fill="#fff" fill-opacity="0.85"/>
<circle cx="1745.1" cy="600.6" r="7.5" fill="#ff0000"/><circle cx="1743.5" cy="598.2" r="2.2" fill="#fff" fill-opacity="0.85"/>
<circle cx="1747.9" cy="578.8" r="7.5" fill="#ff0000"/><circle cx="1746.3" cy="576.4" r="2.2" fill="#fff" fill-opacity="0.85"/>
<circle cx="1750.7" cy="600.6" r="7.5" fill="#ff0000"/><circle cx="1749.1" cy="598.2" r="2.2" fill="#fff" fill-opacity="0.85"/>
<circle cx="1753.5" cy="569.3" r="7.5" fill="#ff0000"/><circle cx="1751.9" cy="566.9" r="2.2" fill="#fff" fill-opacity="0.85"/>
<circle cx="1756.3" cy="643.3" r="7.5" fill="#ff0000"/><circle cx="1754.7" cy="640.9" r="2.2" fill="#fff" fill-opacity="0.85"/>
<circle cx="1759.0" cy="643.3" r="7.5" fill="#ff0000"/><circle cx="1757.4" cy="640.9" r="2.2" fill="#fff" fill-opacity="0.85"/>
<circle cx="1761.8" cy="627.3" r="7.5" fill="#ff0000"/><circle cx="1760.2" cy="624.9" r="2.2" fill="#fff" fill-opacity="0.85"/>
<circle cx="1764.6" cy="643.3" r="7.5" fill="#ff0000"/><circle cx="1763.0" cy="640.9" r="2.2" fill="#fff" fill-opacity="0.85"/>
<circle cx="1767.4" cy="600.6" r="7.5" fill="#ff0000"/><circle cx="1765.8" cy="598.2" r="2.2" fill="#fff" fill-opacity="0.85"/>
<circle cx="1770.2" cy="643.3" r="7.5" fill="#ff0000"/><circle cx="1768.6" cy="640.9" r="2.2" fill="#fff" fill-opacity="0.85"/>
<circle cx="1773.0" cy="600.6" r="7.5" fill="#ff0000"/><circle cx="1771.4" cy="598.2" r="2.2" fill="#fff" fill-opacity="0.85"/>
<circle cx="1775.8" cy="683.5" r="7.5" fill="#ff0000"/><circle cx="1774.2" cy="681.1" r="2.2" fill="#fff" fill-opacity="0.85"/>
<circle cx="1778.5" cy="552.1" r="7.5" fill="#ff0000"/><circle cx="1776.9" cy="549.7" r="2.2" fill="#fff" fill-opacity="0.85"/>
<circle cx="1781.3" cy="600.6" r="7.5" fill="#ff0000"/><circle cx="1779.7" cy="598.2" r="2.2" fill="#fff" fill-opacity="0.85"/>
<circle cx="1784.1" cy="569.3" r="7.5" fill="#ff0000"/><circle cx="1782.5" cy="566.9" r="2.2" fill="#fff" fill-opacity="0.85"/>
<circle cx="1786.9" cy="569.3" r="7.5" fill="#ff0000"/><circle cx="1785.3" cy="566.9" r="2.2" fill="#fff" fill-opacity="0.85"/>
<circle cx="1789.7" cy="643.3" r="7.5" fill="#ff0000"/><circle cx="1788.1" cy="640.9" r="2.2" fill="#fff" fill-opacity="0.85"/>
<circle cx="1792.5" cy="589.2" r="7.5" fill="#ff0000"/><circle cx="1790.9" cy="586.8" r="2.2" fill="#fff" fill-opacity="0.85"/>
<circle cx="1795.3" cy="600.6" r="7.5" fill="#ff0000"/><circle cx="1793.7" cy="598.2" r="2.2" fill="#fff" fill-opacity="0.85"/>
<circle cx="1798.1" cy="661.7" r="7.5" fill="#ff0000"/><circle cx="1796.5" cy="659.3" r="2.2" fill="#fff" fill-opacity="0.85"/>
<circle cx="1800.8" cy="627.3" r="7.5" fill="#ff0000"/><circle cx="1799.2" cy="624.9" r="2.2" fill="#fff" fill-opacity="0.85"/>
<circle cx="1803.6" cy="600.6" r="7.5" fill="#ff0000"/><circle cx="1802.0" cy="598.2" r="2.2" fill="#fff" fill-opacity="0.85"/>
<circle cx="1806.4" cy="589.2" r="7.5" fill="#ff0000"/><circle cx="1804.8" cy="586.8" r="2.2" fill="#fff" fill-opacity="0.85"/>
<circle cx="1809.2" cy="683.5" r="7.5" fill="#ff0000"/><circle cx="1807.6" cy="681.1" r="2.2" fill="#fff" fill-opacity="0.85"/>
<circle cx="1812.0" cy="537.2" r="7.5" fill="#ff0000"/><circle cx="1810.4" cy="534.8" r="2.2" fill="#fff" fill-opacity="0.85"/>
<circle cx="1814.8" cy="627.3" r="7.5" fill="#ff0000"/><circle cx="1813.2" cy="624.9" r="2.2" fill="#fff" fill-opacity="0.85"/>
<circle cx="1817.6" cy="544.4" r="7.5" fill="#ff0000"/><circle cx="1816.0" cy="542.0" r="2.2" fill="#fff" fill-opacity="0.85"/>
<circle cx="1820.3" cy="643.3" r="7.5" fill="#ff0000"/><circle cx="1818.7" cy="640.9" r="2.2" fill="#fff" fill-opacity="0.85"/>
<circle cx="1823.1" cy="627.3" r="7.5" fill="#ff0000"/><circle cx="1821.5" cy="624.9" r="2.2" fill="#fff" fill-opacity="0.85"/>
<circle cx="1825.9" cy="578.8" r="7.5" fill="#ff0000"/><circle cx="1824.3" cy="576.4" r="2.2" fill="#fff" fill-opacity="0.85"/>
<circle cx="1828.7" cy="643.3" r="7.5" fill="#ff0000"/><circle cx="1827.1" cy="640.9" r="2.2" fill="#fff" fill-opacity="0.85"/>
<circle cx="1831.5" cy="589.2" r="7.5" fill="#ff0000"/><circle cx="1829.9" cy="586.8" r="2.2" fill="#fff" fill-opacity="0.85"/>
<circle cx="1834.3" cy="643.3" r="7.5" fill="#ff0000"/><circle cx="1832.7" cy="640.9" r="2.2" fill="#fff" fill-opacity="0.85"/>
<circle cx="1837.1" cy="683.5" r="7.5" fill="#ff0000"/><circle cx="1835.5" cy="681.1" r="2.2" fill="#fff" fill-opacity="0.85"/>
<circle cx="1839.9" cy="643.3" r="7.5" fill="#ff0000"/><circle cx="1838.3" cy="640.9" r="2.2" fill="#fff" fill-opacity="0.85"/>
<circle cx="1842.6" cy="613.2" r="7.5" fill="#ff0000"/><circle cx="1841.0" cy="610.8" r="2.2" fill="#fff" fill-opacity="0.85"/>
<circle cx="1845.4" cy="627.3" r="7.5" fill="#ff0000"/><circle cx="1843.8" cy="624.9" r="2.2" fill="#fff" fill-opacity="0.85"/>
<circle cx="1851.0" cy="600.6" r="7.5" fill="#ff0000"/><circle cx="1849.4" cy="598.2" r="2.2" fill="#fff" fill-opacity="0.85"/>
<circle cx="1853.8" cy="578.8" r="7.5" fill="#ff0000"/><circle cx="1852.2" cy="576.4" r="2.2" fill="#fff" fill-opacity="0.85"/>
<circle cx="1856.6" cy="643.3" r="7.5" fill="#ff0000"/><circle cx="1855.0" cy="640.9" r="2.2" fill="#fff" fill-opacity="0.85"/>
<circle cx="1859.4" cy="627.3" r="7.5" fill="#ff0000"/><circle cx="1857.8" cy="624.9" r="2.2" fill="#fff" fill-opacity="0.85"/>
<circle cx="1862.1" cy="627.3" r="7.5" fill="#ff0000"/><circle cx="1860.5" cy="624.9" r="2.2" fill="#fff" fill-opacity="0.85"/>
<circle cx="1864.9" cy="578.8" r="7.5" fill="#ff0000"/><circle cx="1863.3" cy="576.4" r="2.2" fill="#fff" fill-opacity="0.85"/>
<circle cx="1867.7" cy="643.3" r="7.5" fill="#ff0000"/><circle cx="1866.1" cy="640.9" r="2.2" fill="#fff" fill-opacity="0.85"/>
<circle cx="1870.5" cy="600.6" r="7.5" fill="#ff0000"/><circle cx="1868.9" cy="598.2" r="2.2" fill="#fff" fill-opacity="0.85"/>
<circle cx="1873.3" cy="643.3" r="7.5" fill="#ff0000"/><circle cx="1871.7" cy="640.9" r="2.2" fill="#fff" fill-opacity="0.85"/>
<circle cx="1876.1" cy="613.2" r="7.5" fill="#ff0000"/><circle cx="1874.5" cy="610.8" r="2.2" fill="#fff" fill-opacity="0.85"/>
<circle cx="1878.9" cy="613.2" r="7.5" fill="#ff0000"/><circle cx="1877.3" cy="610.8" r="2.2" fill="#fff" fill-opacity="0.85"/>
<circle cx="1881.7" cy="683.5" r="7.5" fill="#ff0000"/><circle cx="1880.1" cy="681.1" r="2.2" fill="#fff" fill-opacity="0.85"/>
<circle cx="1884.4" cy="600.6" r="7.5" fill="#ff0000"/><circle cx="1882.8" cy="598.2" r="2.2" fill="#fff" fill-opacity="0.85"/>
<circle cx="1887.2" cy="683.5" r="7.5" fill="#ff0000"/><circle cx="1885.6" cy="681.1" r="2.2" fill="#fff" fill-opacity="0.85"/>
<circle cx="1890.0" cy="578.8" r="7.5" fill="#ff0000"/><circle cx="1888.4" cy="576.4" r="2.2" fill="#fff" fill-opacity="0.85"/>
<circle cx="1892.8" cy="544.4" r="7.5" fill="#ff0000"/><circle cx="1891.2" cy="542.0" r="2.2" fill="#fff" fill-opacity="0.85"/>
<circle cx="1895.6" cy="560.4" r="7.5" fill="#ff0000"/><circle cx="1894.0" cy="558.0" r="2.2" fill="#fff" fill-opacity="0.85"/>
<circle cx="1898.4" cy="661.7" r="7.5" fill="#ff0000"/><circle cx="1896.8" cy="659.3" r="2.2" fill="#fff" fill-opacity="0.85"/>
<circle cx="1901.2" cy="589.2" r="7.5" fill="#ff0000"/><circle cx="1899.6" cy="586.8" r="2.2" fill="#fff" fill-opacity="0.85"/>
<circle cx="1903.9" cy="600.6" r="7.5" fill="#ff0000"/><circle cx="1902.3" cy="598.2" r="2.2" fill="#fff" fill-opacity="0.85"/>
<circle cx="1909.5" cy="578.8" r="7.5" fill="#ff0000"/><circle cx="1907.9" cy="576.4" r="2.2" fill="#fff" fill-opacity="0.85"/>
<circle cx="1912.3" cy="643.3" r="7.5" fill="#ff0000"/><circle cx="1910.7" cy="640.9" r="2.2" fill="#fff" fill-opacity="0.85"/>
<circle cx="1915.1" cy="683.5" r="7.5" fill="#ff0000"/><circle cx="1913.5" cy="681.1" r="2.2" fill="#fff" fill-opacity="0.85"/>
<circle cx="1917.9" cy="661.7" r="7.5" fill="#ff0000"/><circle cx="1916.3" cy="659.3" r="2.2" fill="#fff" fill-opacity="0.85"/>
<circle cx="1920.7" cy="627.3" r="7.5" fill="#ff0000"/><circle cx="1919.1" cy="624.9" r="2.2" fill="#fff" fill-opacity="0.85"/>
<circle cx="1923.5" cy="600.6" r="7.5" fill="#ff0000"/><circle cx="1921.9" cy="598.2" r="2.2" fill="#fff" fill-opacity="0.85"/>
<circle cx="1926.2" cy="552.1" r="7.5" fill="#ff0000"/><circle cx="1924.6" cy="549.7" r="2.2" fill="#fff" fill-opacity="0.85"/>
<circle cx="1929.0" cy="643.3" r="7.5" fill="#ff0000"/><circle cx="1927.4" cy="640.9" r="2.2" fill="#fff" fill-opacity="0.85"/>
<circle cx="1931.8" cy="544.4" r="7.5" fill="#ff0000"/><circle cx="1930.2" cy="542.0" r="2.2" fill="#fff" fill-opacity="0.85"/>
<circle cx="1934.6" cy="643.3" r="7.5" fill="#ff0000"/><circle cx="1933.0" cy="640.9" r="2.2" fill="#fff" fill-opacity="0.85"/>
<circle cx="1937.4" cy="589.2" r="7.5" fill="#ff0000"/><circle cx="1935.8" cy="586.8" r="2.2" fill="#fff" fill-opacity="0.85"/>
<circle cx="1940.2" cy="613.2" r="7.5" fill="#ff0000"/><circle cx="1938.6" cy="610.8" r="2.2" fill="#fff" fill-opacity="0.85"/>
<circle cx="1943.0" cy="627.3" r="7.5" fill="#ff0000"/><circle cx="1941.4" cy="624.9" r="2.2" fill="#fff" fill-opacity="0.85"/>
<circle cx="1945.7" cy="627.3" r="7.5" fill="#ff0000"/><circle cx="1944.1" cy="624.9" r="2.2" fill="#fff" fill-opacity="0.85"/>
<circle cx="1948.5" cy="661.7" r="7.5" fill="#ff0000"/><circle cx="1946.9" cy="659.3" r="2.2" fill="#fff" fill-opacity="0.85"/>
<circle cx="1951.3" cy="627.3" r="7.5" fill="#ff0000"/><circle cx="1949.7" cy="624.9" r="2.2" fill="#fff" fill-opacity="0.85"/>
<circle cx="1954.1" cy="643.3" r="7.5" fill="#ff0000"/><circle cx="1952.5" cy="640.9" r="2.2" fill="#fff" fill-opacity="0.85"/>
<circle cx="1956.9" cy="537.2" r="7.5" fill="#ff0000"/><circle cx="1955.3" cy="534.8" r="2.2" fill="#fff" fill-opacity="0.85"/>
<circle cx="1959.7" cy="569.3" r="7.5" fill="#ff0000"/><circle cx="1958.1" cy="566.9" r="2.2" fill="#fff" fill-opacity="0.85"/>
<circle cx="1962.5" cy="627.3" r="7.5" fill="#ff0000"/><circle cx="1960.9" cy="624.9" r="2.2" fill="#fff" fill-opacity="0.85"/>
<circle cx="1965.3" cy="627.3" r="7.5" fill="#ff0000"/><circle cx="1963.7" cy="624.9" r="2.2" fill="#fff" fill-opacity="0.85"/>
<circle cx="1968.0" cy="600.6" r="7.5" fill="#ff0000"/><circle cx="1966.4" cy="598.2" r="2.2" fill="#fff" fill-opacity="0.85"/>
<circle cx="1970.8" cy="600.6" r="7.5" fill="#ff0000"/><circle cx="1969.2" cy="598.2" r="2.2" fill="#fff" fill-opacity="0.85"/>
<circle cx="1973.6" cy="627.3" r="7.5" fill="#ff0000"/><circle cx="1972.0" cy="624.9" r="2.2" fill="#fff" fill-opacity="0.85"/>
<circle cx="1976.4" cy="552.1" r="7.5" fill="#ff0000"/><circle cx="1974.8" cy="549.7" r="2.2" fill="#fff" fill-opacity="0.85"/>
<circle cx="1979.2" cy="661.7" r="7.5" fill="#ff0000"/><circle cx="1977.6" cy="659.3" r="2.2" fill="#fff" fill-opacity="0.85"/>
<circle cx="1982.0" cy="643.3" r="7.5" fill="#ff0000"/><circle cx="1980.4" cy="640.9" r="2.2" fill="#fff" fill-opacity="0.85"/>
<circle cx="1984.8" cy="569.3" r="7.5" fill="#ff0000"/><circle cx="1983.2" cy="566.9" r="2.2" fill="#fff" fill-opacity="0.85"/>
<circle cx="1987.5" cy="683.5" r="7.5" fill="#ff0000"/><circle cx="1985.9" cy="681.1" r="2.2" fill="#fff" fill-opacity="0.85"/>
<circle cx="1990.3" cy="613.2" r="7.5" fill="#ff0000"/><circle cx="1988.7" cy="610.8" r="2.2" fill="#fff" fill-opacity="0.85"/>
<circle cx="1993.1" cy="600.6" r="7.5" fill="#ff0000"/><circle cx="1991.5" cy="598.2" r="2.2" fill="#fff" fill-opacity="0.85"/>
<circle cx="1995.9" cy="683.5" r="7.5" fill="#ff0000"/><circle cx="1994.3" cy="681.1" r="2.2" fill="#fff" fill-opacity="0.85"/>
<circle cx="1520.3" cy="711.7" r="7.5" fill="#ff0000"/><circle cx="1518.7" cy="709.3" r="2.2" fill="#fff" fill-opacity="0.85"/>
<circle cx="1200.1" cy="157.2" r="7.5" fill="#0000ff"/><circle cx="1198.5" cy="154.8" r="2.2" fill="#fff" fill-opacity="0.85"/>
<circle cx="1201.3" cy="142.4" r="7.5" fill="#0000ff"/><circle cx="1199.7" cy="140.0" r="2.2" fill="#fff" fill-opacity="0.85"/>
<circle cx="1202.3" cy="164.4" r="7.5" fill="#0000ff"/><circle cx="1200.7" cy="162.0" r="2.2" fill="#fff" fill-opacity="0.85"/>
<circle cx="1203.3" cy="196.1" r="7.5" fill="#0000ff"/><circle cx="1201.7" cy="193.7" r="2.2" fill="#fff" fill-opacity="0.85"/>
<circle cx="1204.3" cy="214.4" r="7.5" fill="#0000ff"/><circle cx="1202.7" cy="212.0" r="2.2" fill="#fff" fill-opacity="0.85"/>
<circle cx="1205.3" cy="232.6" r="7.5" fill="#0000ff"/><circle cx="1203.7" cy="230.2" r="2.2" fill="#fff" fill-opacity="0.85"/>
<circle cx="1206.5" cy="238.4" r="7.5" fill="#0000ff"/><circle cx="1204.9" cy="236.0" r="2.2" fill="#fff" fill-opacity="0.85"/>
<circle cx="1207.7" cy="242.7" r="7.5" fill="#0000ff"/><circle cx="1206.1" cy="240.3" r="2.2" fill="#fff" fill-opacity="0.85"/>
<circle cx="1208.9" cy="246.7" r="7.5" fill="#0000ff"/><circle cx="1207.3" cy="244.3" r="2.2" fill="#fff" fill-opacity="0.85"/>
<circle cx="1210.1" cy="249.1" r="7.5" fill="#0000ff"/><circle cx="1208.5" cy="246.7" r="2.2" fill="#fff" fill-opacity="0.85"/>
<circle cx="1212.8" cy="265.4" r="7.5" fill="#0000ff"/><circle cx="1211.2" cy="263.0" r="2.2" fill="#fff" fill-opacity="0.85"/>
<circle cx="1215.6" cy="282.5" r="7.5" fill="#0000ff"/><circle cx="1214.0" cy="280.1" r="2.2" fill="#fff" fill-opacity="0.85"/>
<circle cx="1218.4" cy="272.5" r="7.5" fill="#0000ff"/><circle cx="1216.8" cy="270.1" r="2.2" fill="#fff" fill-opacity="0.85"/>
<circle cx="1221.2" cy="274.2" r="7.5" fill="#0000ff"/><circle cx="1219.6" cy="271.8" r="2.2" fill="#fff" fill-opacity="0.85"/>
<circle cx="1224.0" cy="312.6" r="7.5" fill="#0000ff"/><circle cx="1222.4" cy="310.2" r="2.2" fill="#fff" fill-opacity="0.85"/>
<circle cx="1226.8" cy="351.9" r="7.5" fill="#0000ff"/><circle cx="1225.2" cy="349.5" r="2.2" fill="#fff" fill-opacity="0.85"/>
<circle cx="1229.6" cy="321.7" r="7.5" fill="#0000ff"/><circle cx="1228.0" cy="319.3" r="2.2" fill="#fff" fill-opacity="0.85"/>
<circle cx="1232.4" cy="305.5" r="7.5" fill="#0000ff"/><circle cx="1230.8" cy="303.1" r="2.2" fill="#fff" fill-opacity="0.85"/>
<circle cx="1235.1" cy="307.7" r="7.5" fill="#0000ff"/><circle cx="1233.5" cy="305.3" r="2.2" fill="#fff" fill-opacity="0.85"/>
<circle cx="1237.9" cy="341.1" r="7.5" fill="#0000ff"/><circle cx="1236.3" cy="338.7" r="2.2" fill="#fff" fill-opacity="0.85"/>
<circle cx="1240.7" cy="323.5" r="7.5" fill="#0000ff"/><circle cx="1239.1" cy="321.1" r="2.2" fill="#fff" fill-opacity="0.85"/>
<circle cx="1243.5" cy="292.2" r="7.5" fill="#0000ff"/><circle cx="1241.9" cy="289.8" r="2.2" fill="#fff" fill-opacity="0.85"/>
<circle cx="1246.3" cy="351.1" r="7.5" fill="#0000ff"/><circle cx="1244.7" cy="348.7" r="2.2" fill="#fff" fill-opacity="0.85"/>
<circle cx="1249.1" cy="377.8" r="7.5" fill="#0000ff"/><circle cx="1247.5" cy="375.4" r="2.2" fill="#fff" fill-opacity="0.85"/>
<circle cx="1251.9" cy="352.0" r="7.5" fill="#0000ff"/><circle cx="1250.3" cy="349.6" r="2.2" fill="#fff" fill-opacity="0.85"/>
<circle cx="1254.6" cy="343.1" r="7.5" fill="#0000ff"/><circle cx="1253.0" cy="340.7" r="2.2" fill="#fff" fill-opacity="0.85"/>
<circle cx="1257.4" cy="368.6" r="7.5" fill="#0000ff"/><circle cx="1255.8" cy="366.2" r="2.2" fill="#fff" fill-opacity="0.85"/>
<circle cx="1260.2" cy="381.8" r="7.5" fill="#0000ff"/><circle cx="1258.6" cy="379.4" r="2.2" fill="#fff" fill-opacity="0.85"/>
<circle cx="1263.0" cy="358.4" r="7.5" fill="#0000ff"/><circle cx="1261.4" cy="356.0" r="2.2" fill="#fff" fill-opacity="0.85"/>
<circle cx="1265.8" cy="372.2" r="7.5" fill="#0000ff"/><circle cx="1264.2" cy="369.8" r="2.2" fill="#fff" fill-opacity="0.85"/>
<circle cx="1268.6" cy="377.7" r="7.5" fill="#0000ff"/><circle cx="1267.0" cy="375.3" r="2.2" fill="#fff" fill-opacity="0.85"/>
<circle cx="1271.4" cy="369.3" r="7.5" fill="#0000ff"/><circle cx="1269.8" cy="366.9" r="2.2" fill="#fff" fill-opacity="0.85"/>
<circle cx="1274.2" cy="379.8" r="7.5" fill="#0000ff"/><circle cx="1272.6" cy="377.4" r="2.2" fill="#fff" fill-opacity="0.85"/>
<circle cx="1276.9" cy="410.0" r="7.5" fill="#0000ff"/><circle cx="1275.3" cy="407.6" r="2.2" fill="#fff" fill-opacity="0.85"/>
<circle cx="1279.7" cy="394.9" r="7.5" fill="#0000ff"/><circle cx="1278.1" cy="392.5" r="2.2" fill="#fff" fill-opacity="0.85"/>
<circle cx="1282.5" cy="425.6" r="7.5" fill="#0000ff"/><circle cx="1280.9" cy="423.2" r="2.2" fill="#fff" fill-opacity="0.85"/>
<circle cx="1285.3" cy="401.7" r="7.5" fill="#0000ff"/><circle cx="1283.7" cy="399.3" r="2.2" fill="#fff" fill-opacity="0.85"/>
<circle cx="1288.1" cy="391.8" r="7.5" fill="#0000ff"/><circle cx="1286.5" cy="389.4" r="2.2" fill="#fff" fill-opacity="0.85"/>
<circle cx="1290.9" cy="465.1" r="7.5" fill="#0000ff"/><circle cx="1289.3" cy="462.7" r="2.2" fill="#fff" fill-opacity="0.85"/>
<circle cx="1293.7" cy="383.0" r="7.5" fill="#0000ff"/><circle cx="1292.1" cy="380.6" r="2.2" fill="#fff" fill-opacity="0.85"/>
<circle cx="1296.4" cy="421.0" r="7.5" fill="#0000ff"/><circle cx="1294.8" cy="418.6" r="2.2" fill="#fff" fill-opacity="0.85"/>
<circle cx="1299.2" cy="485.2" r="7.5" fill="#0000ff"/><circle cx="1297.6" cy="482.8" r="2.2" fill="#fff" fill-opacity="0.85"/>
<circle cx="1302.0" cy="464.6" r="7.5" fill="#0000ff"/><circle cx="1300.4" cy="462.2" r="2.2" fill="#fff" fill-opacity="0.85"/>
<circle cx="1304.8" cy="457.9" r="7.5" fill="#0000ff"/><circle cx="1303.2" cy="455.5" r="2.2" fill="#fff" fill-opacity="0.85"/>
<circle cx="1307.6" cy="414.3" r="7.5" fill="#0000ff"/><circle cx="1306.0" cy="411.9" r="2.2" fill="#fff" fill-opacity="0.85"/>
<circle cx="1310.4" cy="460.3" r="7.5" fill="#0000ff"/><circle cx="1308.8" cy="457.9" r="2.2" fill="#fff" fill-opacity="0.85"/>
<circle cx="1313.2" cy="514.5" r="7.5" fill="#0000ff"/><circle cx="1311.6" cy="512.1" r="2.2" fill="#fff" fill-opacity="0.85"/>
<circle cx="1316.0" cy="444.7" r="7.5" fill="#0000ff"/><circle cx="1314.4" cy="442.3" r="2.2" fill="#fff" fill-opacity="0.85"/>
<circle cx="1318.7" cy="490.5" r="7.5" fill="#0000ff"/><circle cx="1317.1" cy="488.1" r="2.2" fill="#fff" fill-opacity="0.85"/>
<circle cx="1321.5" cy="490.5" r="7.5" fill="#0000ff"/><circle cx="1319.9" cy="488.1" r="2.2" fill="#fff" fill-opacity="0.85"/>
<circle cx="1324.3" cy="466.1" r="7.5" fill="#0000ff"/><circle cx="1322.7" cy="463.7" r="2.2" fill="#fff" fill-opacity="0.85"/>
<circle cx="1327.1" cy="457.2" r="7.5" fill="#0000ff"/><circle cx="1325.5" cy="454.8" r="2.2" fill="#fff" fill-opacity="0.85"/>
<circle cx="1329.9" cy="445.5" r="7.5" fill="#0000ff"/><circle cx="1328.3" cy="443.1" r="2.2" fill="#fff" fill-opacity="0.85"/>
<circle cx="1332.7" cy="496.1" r="7.5" fill="#0000ff"/><circle cx="1331.1" cy="493.7" r="2.2" fill="#fff" fill-opacity="0.85"/>
<circle cx="1335.5" cy="508.0" r="7.5" fill="#0000ff"/><circle cx="1333.9" cy="505.6" r="2.2" fill="#fff" fill-opacity="0.85"/>
<circle cx="1338.2" cy="447.8" r="7.5" fill="#0000ff"/><circle cx="1336.6" cy="445.4" r="2.2" fill="#fff" fill-opacity="0.85"/>
<circle cx="1341.0" cy="456.1" r="7.5" fill="#0000ff"/><circle cx="1339.4" cy="453.7" r="2.2" fill="#fff" fill-opacity="0.85"/>
<circle cx="1343.8" cy="508.0" r="7.5" fill="#0000ff"/><circle cx="1342.2" cy="505.6" r="2.2" fill="#fff" fill-opacity="0.85"/>
<circle cx="1346.6" cy="475.5" r="7.5" fill="#0000ff"/><circle cx="1345.0" cy="473.1" r="2.2" fill="#fff" fill-opacity="0.85"/>
<circle cx="1349.4" cy="553.4" r="7.5" fill="#0000ff"/><circle cx="1347.8" cy="551.0" r="2.2" fill="#fff" fill-opacity="0.85"/>
<circle cx="1352.2" cy="478.3" r="7.5" fill="#0000ff"/><circle cx="1350.6" cy="475.9" r="2.2" fill="#fff" fill-opacity="0.85"/>
<circle cx="1355.0" cy="528.6" r="7.5" fill="#0000ff"/><circle cx="1353.4" cy="526.2" r="2.2" fill="#fff" fill-opacity="0.85"/>
<circle cx="1357.8" cy="536.3" r="7.5" fill="#0000ff"/><circle cx="1356.2" cy="533.9" r="2.2" fill="#fff" fill-opacity="0.85"/>
<circle cx="1360.5" cy="450.0" r="7.5" fill="#0000ff"/><circle cx="1358.9" cy="447.6" r="2.2" fill="#fff" fill-opacity="0.85"/>
<circle cx="1363.3" cy="521.3" r="7.5" fill="#0000ff"/><circle cx="1361.7" cy="518.9" r="2.2" fill="#fff" fill-opacity="0.85"/>
<circle cx="1366.1" cy="528.6" r="7.5" fill="#0000ff"/><circle cx="1364.5" cy="526.2" r="2.2" fill="#fff" fill-opacity="0.85"/>
<circle cx="1368.9" cy="476.4" r="7.5" fill="#0000ff"/><circle cx="1367.3" cy="474.0" r="2.2" fill="#fff" fill-opacity="0.85"/>
<circle cx="1371.7" cy="544.6" r="7.5" fill="#0000ff"/><circle cx="1370.1" cy="542.2" r="2.2" fill="#fff" fill-opacity="0.85"/>
<circle cx="1374.5" cy="544.6" r="7.5" fill="#0000ff"/><circle cx="1372.9" cy="542.2" r="2.2" fill="#fff" fill-opacity="0.85"/>
<circle cx="1377.3" cy="573.4" r="7.5" fill="#0000ff"/><circle cx="1375.7" cy="571.0" r="2.2" fill="#fff" fill-opacity="0.85"/>
<circle cx="1380.0" cy="514.5" r="7.5" fill="#0000ff"/><circle cx="1378.4" cy="512.1" r="2.2" fill="#fff" fill-opacity="0.85"/>
<circle cx="1382.8" cy="536.3" r="7.5" fill="#0000ff"/><circle cx="1381.2" cy="533.9" r="2.2" fill="#fff" fill-opacity="0.85"/>
<circle cx="1385.6" cy="584.8" r="7.5" fill="#0000ff"/><circle cx="1384.0" cy="582.4" r="2.2" fill="#fff" fill-opacity="0.85"/>
<circle cx="1388.4" cy="544.6" r="7.5" fill="#0000ff"/><circle cx="1386.8" cy="542.2" r="2.2" fill="#fff" fill-opacity="0.85"/>
<circle cx="1391.2" cy="553.4" r="7.5" fill="#0000ff"/><circle cx="1389.6" cy="551.0" r="2.2" fill="#fff" fill-opacity="0.85"/>
<circle cx="1394.0" cy="501.9" r="7.5" fill="#0000ff"/><circle cx="1392.4" cy="499.5" r="2.2" fill="#fff" fill-opacity="0.85"/>
<circle cx="1396.8" cy="611.5" r="7.5" fill="#0000ff"/><circle cx="1395.2" cy="609.1" r="2.2" fill="#fff" fill-opacity="0.85"/>
<circle cx="1399.6" cy="508.0" r="7.5" fill="#0000ff"/><circle cx="1398.0" cy="505.6" r="2.2" fill="#fff" fill-opacity="0.85"/>
<circle cx="1402.3" cy="514.5" r="7.5" fill="#0000ff"/><circle cx="1400.7" cy="512.1" r="2.2" fill="#fff" fill-opacity="0.85"/>
<circle cx="1405.1" cy="536.3" r="7.5" fill="#0000ff"/><circle cx="1403.5" cy="533.9" r="2.2" fill="#fff" fill-opacity="0.85"/>
<circle cx="1407.9" cy="544.6" r="7.5" fill="#0000ff"/><circle cx="1406.3" cy="542.2" r="2.2" fill="#fff" fill-opacity="0.85"/>
<circle cx="1410.7" cy="553.4" r="7.5" fill="#0000ff"/><circle cx="1409.1" cy="551.0" r="2.2" fill="#fff" fill-opacity="0.85"/>
<circle cx="1413.5" cy="521.3" r="7.5" fill="#0000ff"/><circle cx="1411.9" cy="518.9" r="2.2" fill="#fff" fill-opacity="0.85"/>
<circle cx="1416.3" cy="553.4" r="7.5" fill="#0000ff"/><circle cx="1414.7" cy="551.0" r="2.2" fill="#fff" fill-opacity="0.85"/>
<circle cx="1419.1" cy="496.1" r="7.5" fill="#0000ff"/><circle cx="1417.5" cy="493.7" r="2.2" fill="#fff" fill-opacity="0.85"/>
<circle cx="1421.8" cy="611.5" r="7.5" fill="#0000ff"/><circle cx="1420.2" cy="609.1" r="2.2" fill="#fff" fill-opacity="0.85"/>
<circle cx="1424.6" cy="573.4" r="7.5" fill="#0000ff"/><circle cx="1423.0" cy="571.0" r="2.2" fill="#fff" fill-opacity="0.85"/>
<circle cx="1427.4" cy="563.0" r="7.5" fill="#0000ff"/><circle cx="1425.8" cy="560.6" r="2.2" fill="#fff" fill-opacity="0.85"/>
<circle cx="1430.2" cy="501.9" r="7.5" fill="#0000ff"/><circle cx="1428.6" cy="499.5" r="2.2" fill="#fff" fill-opacity="0.85"/>
<circle cx="1433.0" cy="553.4" r="7.5" fill="#0000ff"/><circle cx="1431.4" cy="551.0" r="2.2" fill="#fff" fill-opacity="0.85"/>
<circle cx="1435.8" cy="627.5" r="7.5" fill="#0000ff"/><circle cx="1434.2" cy="625.1" r="2.2" fill="#fff" fill-opacity="0.85"/>
<circle cx="1438.6" cy="536.3" r="7.5" fill="#0000ff"/><circle cx="1437.0" cy="533.9" r="2.2" fill="#fff" fill-opacity="0.85"/>
<circle cx="1441.4" cy="553.4" r="7.5" fill="#0000ff"/><circle cx="1439.8" cy="551.0" r="2.2" fill="#fff" fill-opacity="0.85"/>
<circle cx="1444.1" cy="584.8" r="7.5" fill="#0000ff"/><circle cx="1442.5" cy="582.4" r="2.2" fill="#fff" fill-opacity="0.85"/>
<circle cx="1446.9" cy="514.5" r="7.5" fill="#0000ff"/><circle cx="1445.3" cy="512.1" r="2.2" fill="#fff" fill-opacity="0.85"/>
<circle cx="1449.7" cy="584.8" r="7.5" fill="#0000ff"/><circle cx="1448.1" cy="582.4" r="2.2" fill="#fff" fill-opacity="0.85"/>
<circle cx="1452.5" cy="514.5" r="7.5" fill="#0000ff"/><circle cx="1450.9" cy="512.1" r="2.2" fill="#fff" fill-opacity="0.85"/>
<circle cx="1455.3" cy="521.3" r="7.5" fill="#0000ff"/><circle cx="1453.7" cy="518.9" r="2.2" fill="#fff" fill-opacity="0.85"/>
<circle cx="1458.1" cy="553.4" r="7.5" fill="#0000ff"/><circle cx="1456.5" cy="551.0" r="2.2" fill="#fff" fill-opacity="0.85"/>
<circle cx="1460.9" cy="573.4" r="7.5" fill="#0000ff"/><circle cx="1459.3" cy="571.0" r="2.2" fill="#fff" fill-opacity="0.85"/>
<circle cx="1463.6" cy="544.6" r="7.5" fill="#0000ff"/><circle cx="1462.0" cy="542.2" r="2.2" fill="#fff" fill-opacity="0.85"/>
<circle cx="1466.4" cy="521.3" r="7.5" fill="#0000ff"/><circle cx="1464.8" cy="518.9" r="2.2" fill="#fff" fill-opacity="0.85"/>
<circle cx="1469.2" cy="597.4" r="7.5" fill="#0000ff"/><circle cx="1467.6" cy="595.0" r="2.2" fill="#fff" fill-opacity="0.85"/>
<circle cx="1472.0" cy="536.3" r="7.5" fill="#0000ff"/><circle cx="1470.4" cy="533.9" r="2.2" fill="#fff" fill-opacity="0.85"/>
<circle cx="1474.8" cy="573.4" r="7.5" fill="#0000ff"/><circle cx="1473.2" cy="571.0" r="2.2" fill="#fff" fill-opacity="0.85"/>
<circle cx="1477.6" cy="611.5" r="7.5" fill="#0000ff"/><circle cx="1476.0" cy="609.1" r="2.2" fill="#fff" fill-opacity="0.85"/>
<circle cx="1480.4" cy="627.5" r="7.5" fill="#0000ff"/><circle cx="1478.8" cy="625.1" r="2.2" fill="#fff" fill-opacity="0.85"/>
<circle cx="1483.2" cy="584.8" r="7.5" fill="#0000ff"/><circle cx="1481.6" cy="582.4" r="2.2" fill="#fff" fill-opacity="0.85"/>
<circle cx="1485.9" cy="584.8" r="7.5" fill="#0000ff"/><circle cx="1484.3" cy="582.4" r="2.2" fill="#fff" fill-opacity="0.85"/>
<circle cx="1488.7" cy="553.4" r="7.5" fill="#0000ff"/><circle cx="1487.1" cy="551.0" r="2.2" fill="#fff" fill-opacity="0.85"/>
<circle cx="1491.5" cy="563.0" r="7.5" fill="#0000ff"/><circle cx="1489.9" cy="560.6" r="2.2" fill="#fff" fill-opacity="0.85"/>
<circle cx="1494.3" cy="553.4" r="7.5" fill="#0000ff"/><circle cx="1492.7" cy="551.0" r="2.2" fill="#fff" fill-opacity="0.85"/>
<circle cx="1497.1" cy="597.4" r="7.5" fill="#0000ff"/><circle cx="1495.5" cy="595.0" r="2.2" fill="#fff" fill-opacity="0.85"/>
<circle cx="1499.9" cy="645.9" r="7.5" fill="#0000ff"/><circle cx="1498.3" cy="643.5" r="2.2" fill="#fff" fill-opacity="0.85"/>
<circle cx="1502.7" cy="573.4" r="7.5" fill="#0000ff"/><circle cx="1501.1" cy="571.0" r="2.2" fill="#fff" fill-opacity="0.85"/>
<circle cx="1505.4" cy="667.7" r="7.5" fill="#0000ff"/><circle cx="1503.8" cy="665.3" r="2.2" fill="#fff" fill-opacity="0.85"/>
<circle cx="1508.2" cy="611.5" r="7.5" fill="#0000ff"/><circle cx="1506.6" cy="609.1" r="2.2" fill="#fff" fill-opacity="0.85"/>
<circle cx="1511.0" cy="508.0" r="7.5" fill="#0000ff"/><circle cx="1509.4" cy="505.6" r="2.2" fill="#fff" fill-opacity="0.85"/>
<circle cx="1513.8" cy="667.7" r="7.5" fill="#0000ff"/><circle cx="1512.2" cy="665.3" r="2.2" fill="#fff" fill-opacity="0.85"/>
<circle cx="1516.6" cy="584.8" r="7.5" fill="#0000ff"/><circle cx="1515.0" cy="582.4" r="2.2" fill="#fff" fill-opacity="0.85"/>
<circle cx="1519.4" cy="573.4" r="7.5" fill="#0000ff"/><circle cx="1517.8" cy="571.0" r="2.2" fill="#fff" fill-opacity="0.85"/>
<circle cx="1522.2" cy="694.4" r="7.5" fill="#0000ff"/><circle cx="1520.6" cy="692.0" r="2.2" fill="#fff" fill-opacity="0.85"/>
<circle cx="1525.0" cy="563.0" r="7.5" fill="#0000ff"/><circle cx="1523.4" cy="560.6" r="2.2" fill="#fff" fill-opacity="0.85"/>
<circle cx="1527.7" cy="627.5" r="7.5" fill="#0000ff"/><circle cx="1526.1" cy="625.1" r="2.2" fill="#fff" fill-opacity="0.85"/>
<circle cx="1530.5" cy="694.4" r="7.5" fill="#0000ff"/><circle cx="1528.9" cy="692.0" r="2.2" fill="#fff" fill-opacity="0.85"/>
<circle cx="1533.3" cy="573.4" r="7.5" fill="#0000ff"/><circle cx="1531.7" cy="571.0" r="2.2" fill="#fff" fill-opacity="0.85"/>
<circle cx="1536.1" cy="573.4" r="7.5" fill="#0000ff"/><circle cx="1534.5" cy="571.0" r="2.2" fill="#fff" fill-opacity="0.85"/>
<circle cx="1538.9" cy="627.5" r="7.5" fill="#0000ff"/><circle cx="1537.3" cy="625.1" r="2.2" fill="#fff" fill-opacity="0.85"/>
<circle cx="1541.7" cy="627.5" r="7.5" fill="#0000ff"/><circle cx="1540.1" cy="625.1" r="2.2" fill="#fff" fill-opacity="0.85"/>
<circle cx="1544.5" cy="544.6" r="7.5" fill="#0000ff"/><circle cx="1542.9" cy="542.2" r="2.2" fill="#fff" fill-opacity="0.85"/>
<circle cx="1547.2" cy="584.8" r="7.5" fill="#0000ff"/><circle cx="1545.6" cy="582.4" r="2.2" fill="#fff" fill-opacity="0.85"/>
<circle cx="1550.0" cy="611.5" r="7.5" fill="#0000ff"/><circle cx="1548.4" cy="609.1" r="2.2" fill="#fff" fill-opacity="0.85"/>
<circle cx="1552.8" cy="553.4" r="7.5" fill="#0000ff"/><circle cx="1551.2" cy="551.0" r="2.2" fill="#fff" fill-opacity="0.85"/>
<circle cx="1555.6" cy="611.5" r="7.5" fill="#0000ff"/><circle cx="1554.0" cy="609.1" r="2.2" fill="#fff" fill-opacity="0.85"/>
<circle cx="1558.4" cy="553.4" r="7.5" fill="#0000ff"/><circle cx="1556.8" cy="551.0" r="2.2" fill="#fff" fill-opacity="0.85"/>
<circle cx="1561.2" cy="573.4" r="7.5" fill="#0000ff"/><circle cx="1559.6" cy="571.0" r="2.2" fill="#fff" fill-opacity="0.85"/>
<circle cx="1564.0" cy="573.4" r="7.5" fill="#0000ff"/><circle cx="1562.4" cy="571.0" r="2.2" fill="#fff" fill-opacity="0.85"/>
<circle cx="1566.8" cy="645.9" r="7.5" fill="#0000ff"/><circle cx="1565.2" cy="643.5" r="2.2" fill="#fff" fill-opacity="0.85"/>
<circle cx="1569.5" cy="597.4" r="7.5" fill="#0000ff"/><circle cx="1567.9" cy="595.0" r="2.2" fill="#fff" fill-opacity="0.85"/>
<circle cx="1572.3" cy="667.7" r="7.5" fill="#0000ff"/><circle cx="1570.7" cy="665.3" r="2.2" fill="#fff" fill-opacity="0.85"/>
<circle cx="1575.1" cy="553.4" r="7.5" fill="#0000ff"/><circle cx="1573.5" cy="551.0" r="2.2" fill="#fff" fill-opacity="0.85"/>
<circle cx="1577.9" cy="597.4" r="7.5" fill="#0000ff"/><circle cx="1576.3" cy="595.0" r="2.2" fill="#fff" fill-opacity="0.85"/>
<circle cx="1580.7" cy="645.9" r="7.5" fill="#0000ff"/><circle cx="1579.1" cy="643.5" r="2.2" fill="#fff" fill-opacity="0.85"/>
<circle cx="1583.5" cy="667.7" r="7.5" fill="#0000ff"/><circle cx="1581.9" cy="665.3" r="2.2" fill="#fff" fill-opacity="0.85"/>
<circle cx="1586.3" cy="611.5" r="7.5" fill="#0000ff"/><circle cx="1584.7" cy="609.1" r="2.2" fill="#fff" fill-opacity="0.85"/>
<circle cx="1589.0" cy="611.5" r="7.5" fill="#0000ff"/><circle cx="1587.4" cy="609.1" r="2.2" fill="#fff" fill-opacity="0.85"/>
<circle cx="1591.8" cy="645.9" r="7.5" fill="#0000ff"/><circle cx="1590.2" cy="643.5" r="2.2" fill="#fff" fill-opacity="0.85"/>
<circle cx="1594.6" cy="627.5" r="7.5" fill="#0000ff"/><circle cx="1593.0" cy="625.1" r="2.2" fill="#fff" fill-opacity="0.85"/>
<circle cx="1597.4" cy="597.4" r="7.5" fill="#0000ff"/><circle cx="1595.8" cy="595.0" r="2.2" fill="#fff" fill-opacity="0.85"/>
<circle cx="1600.2" cy="584.8" r="7.5" fill="#0000ff"/><circle cx="1598.6" cy="582.4" r="2.2" fill="#fff" fill-opacity="0.85"/>
<circle cx="1603.0" cy="563.0" r="7.5" fill="#0000ff"/><circle cx="1601.4" cy="560.6" r="2.2" fill="#fff" fill-opacity="0.85"/>
<circle cx="1605.8" cy="544.6" r="7.5" fill="#0000ff"/><circle cx="1604.2" cy="542.2" r="2.2" fill="#fff" fill-opacity="0.85"/>
<circle cx="1608.6" cy="573.4" r="7.5" fill="#0000ff"/><circle cx="1607.0" cy="571.0" r="2.2" fill="#fff" fill-opacity="0.85"/>
<circle cx="1611.3" cy="627.5" r="7.5" fill="#0000ff"/><circle cx="1609.7" cy="625.1" r="2.2" fill="#fff" fill-opacity="0.85"/>
<circle cx="1614.1" cy="645.9" r="7.5" fill="#0000ff"/><circle cx="1612.5" cy="643.5" r="2.2" fill="#fff" fill-opacity="0.85"/>
<circle cx="1616.9" cy="536.3" r="7.5" fill="#0000ff"/><circle cx="1615.3" cy="533.9" r="2.2" fill="#fff" fill-opacity="0.85"/>
<circle cx="1622.5" cy="611.5" r="7.5" fill="#0000ff"/><circle cx="1620.9" cy="609.1" r="2.2" fill="#fff" fill-opacity="0.85"/>
<circle cx="1625.3" cy="667.7" r="7.5" fill="#0000ff"/><circle cx="1623.7" cy="665.3" r="2.2" fill="#fff" fill-opacity="0.85"/>
<circle cx="1628.1" cy="611.5" r="7.5" fill="#0000ff"/><circle cx="1626.5" cy="609.1" r="2.2" fill="#fff" fill-opacity="0.85"/>
<circle cx="1630.8" cy="597.4" r="7.5" fill="#0000ff"/><circle cx="1629.2" cy="595.0" r="2.2" fill="#fff" fill-opacity="0.85"/>
<circle cx="1636.4" cy="694.4" r="7.5" fill="#0000ff"/><circle cx="1634.8" cy="692.0" r="2.2" fill="#fff" fill-opacity="0.85"/>
<circle cx="1639.2" cy="694.4" r="7.5" fill="#0000ff"/><circle cx="1637.6" cy="692.0" r="2.2" fill="#fff" fill-opacity="0.85"/>
<circle cx="1642.0" cy="573.4" r="7.5" fill="#0000ff"/><circle cx="1640.4" cy="571.0" r="2.2" fill="#fff" fill-opacity="0.85"/>
<circle cx="1644.8" cy="521.3" r="7.5" fill="#0000ff"/><circle cx="1643.2" cy="518.9" r="2.2" fill="#fff" fill-opacity="0.85"/>
<circle cx="1647.6" cy="667.7" r="7.5" fill="#0000ff"/><circle cx="1646.0" cy="665.3" r="2.2" fill="#fff" fill-opacity="0.85"/>
<circle cx="1650.4" cy="563.0" r="7.5" fill="#0000ff"/><circle cx="1648.8" cy="560.6" r="2.2" fill="#fff" fill-opacity="0.85"/>
<circle cx="1653.1" cy="573.4" r="7.5" fill="#0000ff"/><circle cx="1651.5" cy="571.0" r="2.2" fill="#fff" fill-opacity="0.85"/>
<circle cx="1655.9" cy="611.5" r="7.5" fill="#0000ff"/><circle cx="1654.3" cy="609.1" r="2.2" fill="#fff" fill-opacity="0.85"/>
<circle cx="1658.7" cy="597.4" r="7.5" fill="#0000ff"/><circle cx="1657.1" cy="595.0" r="2.2" fill="#fff" fill-opacity="0.85"/>
<circle cx="1661.5" cy="645.9" r="7.5" fill="#0000ff"/><circle cx="1659.9" cy="643.5" r="2.2" fill="#fff" fill-opacity="0.85"/>
<circle cx="1664.3" cy="584.8" r="7.5" fill="#0000ff"/><circle cx="1662.7" cy="582.4" r="2.2" fill="#fff" fill-opacity="0.85"/>
<circle cx="1667.1" cy="627.5" r="7.5" fill="#0000ff"/><circle cx="1665.5" cy="625.1" r="2.2" fill="#fff" fill-opacity="0.85"/>
<circle cx="1669.9" cy="563.0" r="7.5" fill="#0000ff"/><circle cx="1668.3" cy="560.6" r="2.2" fill="#fff" fill-opacity="0.85"/>
<circle cx="1672.7" cy="611.5" r="7.5" fill="#0000ff"/><circle cx="1671.1" cy="609.1" r="2.2" fill="#fff" fill-opacity="0.85"/>
<circle cx="1675.4" cy="573.4" r="7.5" fill="#0000ff"/><circle cx="1673.8" cy="571.0" r="2.2" fill="#fff" fill-opacity="0.85"/>
<circle cx="1681.0" cy="597.4" r="7.5" fill="#0000ff"/><circle cx="1679.4" cy="595.0" r="2.2" fill="#fff" fill-opacity="0.85"/>
<circle cx="1683.8" cy="694.4" r="7.5" fill="#0000ff"/><circle cx="1682.2" cy="692.0" r="2.2" fill="#fff" fill-opacity="0.85"/>
<circle cx="1686.6" cy="584.8" r="7.5" fill="#0000ff"/><circle cx="1685.0" cy="582.4" r="2.2" fill="#fff" fill-opacity="0.85"/>
<circle cx="1689.4" cy="645.9" r="7.5" fill="#0000ff"/><circle cx="1687.8" cy="643.5" r="2.2" fill="#fff" fill-opacity="0.85"/>
<circle cx="1692.2" cy="611.5" r="7.5" fill="#0000ff"/><circle cx="1690.6" cy="609.1" r="2.2" fill="#fff" fill-opacity="0.85"/>
<circle cx="1694.9" cy="627.5" r="7.5" fill="#0000ff"/><circle cx="1693.3" cy="625.1" r="2.2" fill="#fff" fill-opacity="0.85"/>
<circle cx="1697.7" cy="584.8" r="7.5" fill="#0000ff"/><circle cx="1696.1" cy="582.4" r="2.2" fill="#fff" fill-opacity="0.85"/>
<circle cx="1700.5" cy="694.4" r="7.5" fill="#0000ff"/><circle cx="1698.9" cy="692.0" r="2.2" fill="#fff" fill-opacity="0.85"/>
<circle cx="1703.3" cy="584.8" r="7.5" fill="#0000ff"/><circle cx="1701.7" cy="582.4" r="2.2" fill="#fff" fill-opacity="0.85"/>
<circle cx="1706.1" cy="553.4" r="7.5" fill="#0000ff"/><circle cx="1704.5" cy="551.0" r="2.2" fill="#fff" fill-opacity="0.85"/>
<circle cx="1708.9" cy="611.5" r="7.5" fill="#0000ff"/><circle cx="1707.3" cy="609.1" r="2.2" fill="#fff" fill-opacity="0.85"/>
<circle cx="1711.7" cy="667.7" r="7.5" fill="#0000ff"/><circle cx="1710.1" cy="665.3" r="2.2" fill="#fff" fill-opacity="0.85"/>
<circle cx="1714.5" cy="563.0" r="7.5" fill="#0000ff"/><circle cx="1712.9" cy="560.6" r="2.2" fill="#fff" fill-opacity="0.85"/>
<circle cx="1717.2" cy="627.5" r="7.5" fill="#0000ff"/><circle cx="1715.6" cy="625.1" r="2.2" fill="#fff" fill-opacity="0.85"/>
<circle cx="1720.0" cy="563.0" r="7.5" fill="#0000ff"/><circle cx="1718.4" cy="560.6" r="2.2" fill="#fff" fill-opacity="0.85"/>
<circle cx="1722.8" cy="611.5" r="7.5" fill="#0000ff"/><circle cx="1721.2" cy="609.1" r="2.2" fill="#fff" fill-opacity="0.85"/>
<circle cx="1725.6" cy="573.4" r="7.5" fill="#0000ff"/><circle cx="1724.0" cy="571.0" r="2.2" fill="#fff" fill-opacity="0.85"/>
<circle cx="1728.4" cy="573.4" r="7.5" fill="#0000ff"/><circle cx="1726.8" cy="571.0" r="2.2" fill="#fff" fill-opacity="0.85"/>
<circle cx="1731.2" cy="597.4" r="7.5" fill="#0000ff"/><circle cx="1729.6" cy="595.0" r="2.2" fill="#fff" fill-opacity="0.85"/>
<circle cx="1734.0" cy="597.4" r="7.5" fill="#0000ff"/><circle cx="1732.4" cy="595.0" r="2.2" fill="#fff" fill-opacity="0.85"/>
<circle cx="1736.7" cy="694.4" r="7.5" fill="#0000ff"/><circle cx="1735.1" cy="692.0" r="2.2" fill="#fff" fill-opacity="0.85"/>
<circle cx="1739.5" cy="597.4" r="7.5" fill="#0000ff"/><circle cx="1737.9" cy="595.0" r="2.2" fill="#fff" fill-opacity="0.85"/>
<circle cx="1742.3" cy="573.4" r="7.5" fill="#0000ff"/><circle cx="1740.7" cy="571.0" r="2.2" fill="#fff" fill-opacity="0.85"/>
<circle cx="1745.1" cy="627.5" r="7.5" fill="#0000ff"/><circle cx="1743.5" cy="625.1" r="2.2" fill="#fff" fill-opacity="0.85"/>
<circle cx="1747.9" cy="553.4" r="7.5" fill="#0000ff"/><circle cx="1746.3" cy="551.0" r="2.2" fill="#fff" fill-opacity="0.85"/>
<circle cx="1753.5" cy="573.4" r="7.5" fill="#0000ff"/><circle cx="1751.9" cy="571.0" r="2.2" fill="#fff" fill-opacity="0.85"/>
<circle cx="1756.3" cy="645.9" r="7.5" fill="#0000ff"/><circle cx="1754.7" cy="643.5" r="2.2" fill="#fff" fill-opacity="0.85"/>
<circle cx="1759.0" cy="611.5" r="7.5" fill="#0000ff"/><circle cx="1757.4" cy="609.1" r="2.2" fill="#fff" fill-opacity="0.85"/>
<circle cx="1761.8" cy="611.5" r="7.5" fill="#0000ff"/><circle cx="1760.2" cy="609.1" r="2.2" fill="#fff" fill-opacity="0.85"/>
<circle cx="1764.6" cy="627.5" r="7.5" fill="#0000ff"/><circle cx="1763.0" cy="625.1" r="2.2" fill="#fff" fill-opacity="0.85"/>
<circle cx="1767.4" cy="694.4" r="7.5" fill="#0000ff"/><circle cx="1765.8" cy="692.0" r="2.2" fill="#fff" fill-opacity="0.85"/>
<circle cx="1770.2" cy="694.4" r="7.5" fill="#0000ff"/><circle cx="1768.6" cy="692.0" r="2.2" fill="#fff" fill-opacity="0.85"/>
<circle cx="1773.0" cy="597.4" r="7.5" fill="#0000ff"/><circle cx="1771.4" cy="595.0" r="2.2" fill="#fff" fill-opacity="0.85"/>
<circle cx="1775.8" cy="645.9" r="7.5" fill="#0000ff"/><circle cx="1774.2" cy="643.5" r="2.2" fill="#fff" fill-opacity="0.85"/>
<circle cx="1778.5" cy="611.5" r="7.5" fill="#0000ff"/><circle cx="1776.9" cy="609.1" r="2.2" fill="#fff" fill-opacity="0.85"/>
<circle cx="1781.3" cy="627.5" r="7.5" fill="#0000ff"/><circle cx="1779.7" cy="625.1" r="2.2" fill="#fff" fill-opacity="0.85"/>
<circle cx="1784.1" cy="611.5" r="7.5" fill="#0000ff"/><circle cx="1782.5" cy="609.1" r="2.2" fill="#fff" fill-opacity="0.85"/>
<circle cx="1786.9" cy="667.7" r="7.5" fill="#0000ff"/><circle cx="1785.3" cy="665.3" r="2.2" fill="#fff" fill-opacity="0.85"/>
<circle cx="1789.7" cy="553.4" r="7.5" fill="#0000ff"/><circle cx="1788.1" cy="551.0" r="2.2" fill="#fff" fill-opacity="0.85"/>
<circle cx="1792.5" cy="597.4" r="7.5" fill="#0000ff"/><circle cx="1790.9" cy="595.0" r="2.2" fill="#fff" fill-opacity="0.85"/>
<circle cx="1798.1" cy="694.4" r="7.5" fill="#0000ff"/><circle cx="1796.5" cy="692.0" r="2.2" fill="#fff" fill-opacity="0.85"/>
<circle cx="1800.8" cy="611.5" r="7.5" fill="#0000ff"/><circle cx="1799.2" cy="609.1" r="2.2" fill="#fff" fill-opacity="0.85"/>
<circle cx="1803.6" cy="563.0" r="7.5" fill="#0000ff"/><circle cx="1802.0" cy="560.6" r="2.2" fill="#fff" fill-opacity="0.85"/>
<circle cx="1806.4" cy="611.5" r="7.5" fill="#0000ff"/><circle cx="1804.8" cy="609.1" r="2.2" fill="#fff" fill-opacity="0.85"/>
<circle cx="1809.2" cy="627.5" r="7.5" fill="#0000ff"/><circle cx="1807.6" cy="625.1" r="2.2" fill="#fff" fill-opacity="0.85"/>
<circle cx="1812.0" cy="611.5" r="7.5" fill="#0000ff"/><circle cx="1810.4" cy="609.1" r="2.2" fill="#fff" fill-opacity="0.85"/>
<circle cx="1814.8" cy="563.0" r="7.5" fill="#0000ff"/><circle cx="1813.2" cy="560.6" r="2.2" fill="#fff" fill-opacity="0.85"/>
<circle cx="1817.6" cy="611.5" r="7.5" fill="#0000ff"/><circle cx="1816.0" cy="609.1" r="2.2" fill="#fff" fill-opacity="0.85"/>
<circle cx="1820.3" cy="597.4" r="7.5" fill="#0000ff"/><circle cx="1818.7" cy="595.0" r="2.2" fill="#fff" fill-opacity="0.85"/>
<circle cx="1823.1" cy="597.4" r="7.5" fill="#0000ff"/><circle cx="1821.5" cy="595.0" r="2.2" fill="#fff" fill-opacity="0.85"/>
<circle cx="1825.9" cy="611.5" r="7.5" fill="#0000ff"/><circle cx="1824.3" cy="609.1" r="2.2" fill="#fff" fill-opacity="0.85"/>
<circle cx="1828.7" cy="573.4" r="7.5" fill="#0000ff"/><circle cx="1827.1" cy="571.0" r="2.2" fill="#fff" fill-opacity="0.85"/>
<circle cx="1831.5" cy="584.8" r="7.5" fill="#0000ff"/><circle cx="1829.9" cy="582.4" r="2.2" fill="#fff" fill-opacity="0.85"/>
<circle cx="1834.3" cy="627.5" r="7.5" fill="#0000ff"/><circle cx="1832.7" cy="625.1" r="2.2" fill="#fff" fill-opacity="0.85"/>
<circle cx="1837.1" cy="597.4" r="7.5" fill="#0000ff"/><circle cx="1835.5" cy="595.0" r="2.2" fill="#fff" fill-opacity="0.85"/>
<circle cx="1839.9" cy="611.5" r="7.5" fill="#0000ff"/><circle cx="1838.3" cy="609.1" r="2.2" fill="#fff" fill-opacity="0.85"/>
<circle cx="1842.6" cy="645.9" r="7.5" fill="#0000ff"/><circle cx="1841.0" cy="643.5" r="2.2" fill="#fff" fill-opacity="0.85"/>
<circle cx="1845.4" cy="528.6" r="7.5" fill="#0000ff"/><circle cx="1843.8" cy="526.2" r="2.2" fill="#fff" fill-opacity="0.85"/>
<circle cx="1848.2" cy="584.8" r="7.5" fill="#0000ff"/><circle cx="1846.6" cy="582.4" r="2.2" fill="#fff" fill-opacity="0.85"/>
<circle cx="1851.0" cy="521.3" r="7.5" fill="#0000ff"/><circle cx="1849.4" cy="518.9" r="2.2" fill="#fff" fill-opacity="0.85"/>
<circle cx="1853.8" cy="611.5" r="7.5" fill="#0000ff"/><circle cx="1852.2" cy="609.1" r="2.2" fill="#fff" fill-opacity="0.85"/>
<circle cx="1856.6" cy="597.4" r="7.5" fill="#0000ff"/><circle cx="1855.0" cy="595.0" r="2.2" fill="#fff" fill-opacity="0.85"/>
<circle cx="1859.4" cy="645.9" r="7.5" fill="#0000ff"/><circle cx="1857.8" cy="643.5" r="2.2" fill="#fff" fill-opacity="0.85"/>
<circle cx="1864.9" cy="553.4" r="7.5" fill="#0000ff"/><circle cx="1863.3" cy="551.0" r="2.2" fill="#fff" fill-opacity="0.85"/>
<circle cx="1867.7" cy="553.4" r="7.5" fill="#0000ff"/><circle cx="1866.1" cy="551.0" r="2.2" fill="#fff" fill-opacity="0.85"/>
<circle cx="1870.5" cy="645.9" r="7.5" fill="#0000ff"/><circle cx="1868.9" cy="643.5" r="2.2" fill="#fff" fill-opacity="0.85"/>
<circle cx="1873.3" cy="584.8" r="7.5" fill="#0000ff"/><circle cx="1871.7" cy="582.4" r="2.2" fill="#fff" fill-opacity="0.85"/>
<circle cx="1876.1" cy="584.8" r="7.5" fill="#0000ff"/><circle cx="1874.5" cy="582.4" r="2.2" fill="#fff" fill-opacity="0.85"/>
<circle cx="1878.9" cy="563.0" r="7.5" fill="#0000ff"/><circle cx="1877.3" cy="560.6" r="2.2" fill="#fff" fill-opacity="0.85"/>
<circle cx="1881.7" cy="694.4" r="7.5" fill="#0000ff"/><circle cx="1880.1" cy="692.0" r="2.2" fill="#fff" fill-opacity="0.85"/>
<circle cx="1884.4" cy="611.5" r="7.5" fill="#0000ff"/><circle cx="1882.8" cy="609.1" r="2.2" fill="#fff" fill-opacity="0.85"/>
<circle cx="1887.2" cy="694.4" r="7.5" fill="#0000ff"/><circle cx="1885.6" cy="692.0" r="2.2" fill="#fff" fill-opacity="0.85"/>
<circle cx="1890.0" cy="553.4" r="7.5" fill="#0000ff"/><circle cx="1888.4" cy="551.0" r="2.2" fill="#fff" fill-opacity="0.85"/>
<circle cx="1892.8" cy="573.4" r="7.5" fill="#0000ff"/><circle cx="1891.2" cy="571.0" r="2.2" fill="#fff" fill-opacity="0.85"/>
<circle cx="1895.6" cy="597.4" r="7.5" fill="#0000ff"/><circle cx="1894.0" cy="595.0" r="2.2" fill="#fff" fill-opacity="0.85"/>
<circle cx="1898.4" cy="627.5" r="7.5" fill="#0000ff"/><circle cx="1896.8" cy="625.1" r="2.2" fill="#fff" fill-opacity="0.85"/>
<circle cx="1901.2" cy="597.4" r="7.5" fill="#0000ff"/><circle cx="1899.6" cy="595.0" r="2.2" fill="#fff" fill-opacity="0.85"/>
<circle cx="1903.9" cy="611.5" r="7.5" fill="#0000ff"/><circle cx="1902.3" cy="609.1" r="2.2" fill="#fff" fill-opacity="0.85"/>
<circle cx="1906.7" cy="573.4" r="7.5" fill="#0000ff"/><circle cx="1905.1" cy="571.0" r="2.2" fill="#fff" fill-opacity="0.85"/>
<circle cx="1909.5" cy="627.5" r="7.5" fill="#0000ff"/><circle cx="1907.9" cy="625.1" r="2.2" fill="#fff" fill-opacity="0.85"/>
<circle cx="1912.3" cy="563.0" r="7.5" fill="#0000ff"/><circle cx="1910.7" cy="560.6" r="2.2" fill="#fff" fill-opacity="0.85"/>
<circle cx="1915.1" cy="667.7" r="7.5" fill="#0000ff"/><circle cx="1913.5" cy="665.3" r="2.2" fill="#fff" fill-opacity="0.85"/>
<circle cx="1917.9" cy="584.8" r="7.5" fill="#0000ff"/><circle cx="1916.3" cy="582.4" r="2.2" fill="#fff" fill-opacity="0.85"/>
<circle cx="1920.7" cy="645.9" r="7.5" fill="#0000ff"/><circle cx="1919.1" cy="643.5" r="2.2" fill="#fff" fill-opacity="0.85"/>
<circle cx="1923.5" cy="667.7" r="7.5" fill="#0000ff"/><circle cx="1921.9" cy="665.3" r="2.2" fill="#fff" fill-opacity="0.85"/>
<circle cx="1926.2" cy="563.0" r="7.5" fill="#0000ff"/><circle cx="1924.6" cy="560.6" r="2.2" fill="#fff" fill-opacity="0.85"/>
<circle cx="1929.0" cy="645.9" r="7.5" fill="#0000ff"/><circle cx="1927.4" cy="643.5" r="2.2" fill="#fff" fill-opacity="0.85"/>
<circle cx="1931.8" cy="563.0" r="7.5" fill="#0000ff"/><circle cx="1930.2" cy="560.6" r="2.2" fill="#fff" fill-opacity="0.85"/>
<circle cx="1934.6" cy="627.5" r="7.5" fill="#0000ff"/><circle cx="1933.0" cy="625.1" r="2.2" fill="#fff" fill-opacity="0.85"/>
<circle cx="1937.4" cy="627.5" r="7.5" fill="#0000ff"/><circle cx="1935.8" cy="625.1" r="2.2" fill="#fff" fill-opacity="0.85"/>
<circle cx="1940.2" cy="645.9" r="7.5" fill="#0000ff"/><circle cx="1938.6" cy="643.5" r="2.2" fill="#fff" fill-opacity="0.85"/>
<circle cx="1943.0" cy="694.4" r="7.5" fill="#0000ff"/><circle cx="1941.4" cy="692.0" r="2.2" fill="#fff" fill-opacity="0.85"/>
<circle cx="1945.7" cy="584.8" r="7.5" fill="#0000ff"/><circle cx="1944.1" cy="582.4" r="2.2" fill="#fff" fill-opacity="0.85"/>
<circle cx="1948.5" cy="597.4" r="7.5" fill="#0000ff"/><circle cx="1946.9" cy="595.0" r="2.2" fill="#fff" fill-opacity="0.85"/>
<circle cx="1951.3" cy="611.5" r="7.5" fill="#0000ff"/><circle cx="1949.7" cy="609.1" r="2.2" fill="#fff" fill-opacity="0.85"/>
<circle cx="1954.1" cy="584.8" r="7.5" fill="#0000ff"/><circle cx="1952.5" cy="582.4" r="2.2" fill="#fff" fill-opacity="0.85"/>
<circle cx="1956.9" cy="611.5" r="7.5" fill="#0000ff"/><circle cx="1955.3" cy="609.1" r="2.2" fill="#fff" fill-opacity="0.85"/>
<circle cx="1959.7" cy="573.4" r="7.5" fill="#0000ff"/><circle cx="1958.1" cy="571.0" r="2.2" fill="#fff" fill-opacity="0.85"/>
<circle cx="1962.5" cy="645.9" r="7.5" fill="#0000ff"/><circle cx="1960.9" cy="643.5" r="2.2" fill="#fff" fill-opacity="0.85"/>
<circle cx="1965.3" cy="573.4" r="7.5" fill="#0000ff"/><circle cx="1963.7" cy="571.0" r="2.2" fill="#fff" fill-opacity="0.85"/>
<circle cx="1968.0" cy="611.5" r="7.5" fill="#0000ff"/><circle cx="1966.4" cy="609.1" r="2.2" fill="#fff" fill-opacity="0.85"/>
<circle cx="1970.8" cy="645.9" r="7.5" fill="#0000ff"/><circle cx="1969.2" cy="643.5" r="2.2" fill="#fff" fill-opacity="0.85"/>
<circle cx="1973.6" cy="627.5" r="7.5" fill="#0000ff"/><circle cx="1972.0" cy="625.1" r="2.2" fill="#fff" fill-opacity="0.85"/>
<circle cx="1976.4" cy="627.5" r="7.5" fill="#0000ff"/><circle cx="1974.8" cy="625.1" r="2.2" fill="#fff" fill-opacity="0.85"/>
<circle cx="1979.2" cy="645.9" r="7.5" fill="#0000ff"/><circle cx="1977.6" cy="643.5" r="2.2" fill="#fff" fill-opacity="0.85"/>
<circle cx="1982.0" cy="544.6" r="7.5" fill="#0000ff"/><circle cx="1980.4" cy="542.2" r="2.2" fill="#fff" fill-opacity="0.85"/>
<circle cx="1984.8" cy="667.7" r="7.5" fill="#0000ff"/><circle cx="1983.2" cy="665.3" r="2.2" fill="#fff" fill-opacity="0.85"/>
<circle cx="1987.5" cy="611.5" r="7.5" fill="#0000ff"/><circle cx="1985.9" cy="609.1" r="2.2" fill="#fff" fill-opacity="0.85"/>
<circle cx="1990.3" cy="597.4" r="7.5" fill="#0000ff"/><circle cx="1988.7" cy="595.0" r="2.2" fill="#fff" fill-opacity="0.85"/>
<circle cx="1993.1" cy="645.9" r="7.5" fill="#0000ff"/><circle cx="1991.5" cy="643.5" r="2.2" fill="#fff" fill-opacity="0.85"/>
<circle cx="1995.9" cy="645.9" r="7.5" fill="#0000ff"/><circle cx="1994.3" cy="643.5" r="2.2" fill="#fff" fill-opacity="0.85"/>
<circle cx="1751.3" cy="729.0" r="7.5" fill="#0000ff"/><circle cx="1749.7" cy="726.6" r="2.2" fill="#fff" fill-opacity="0.85"/>
<path d="M1201.3,195.0 L1202.3,197.2 L1203.3,199.4 L1204.3,201.5 L1205.3,203.6 L1206.3,205.8 L1207.3,207.9 L1208.3,209.9 L1209.3,212.0 L1210.3,214.1 L1211.3,216.1 L1212.2,218.1 L1213.2,220.2 L1214.2,222.1 L1215.2,224.1 L1216.2,226.1 L1217.2,228.1 L1218.2,230.0 L1219.2,231.9 L1220.2,233.8 L1221.2,235.7 L1222.2,237.6 L1223.2,239.5 L1224.2,241.4 L1225.2,243.2 L1226.2,245.1 L1227.2,246.9 L1228.2,248.7 L1229.2,250.5 L1230.2,252.3 L1231.2,254.1 L1232.2,255.9 L1233.1,257.6 L1234.1,259.4 L1235.1,261.1 L1236.1,262.9 L1237.1,264.6 L1238.1,266.3 L1239.1,268.0 L1240.1,269.7 L1241.1,271.4 L1242.1,273.0 L1243.1,274.7 L1244.1,276.3 L1245.1,278.0 L1246.1,279.6 L1247.1,281.2 L1248.1,282.8 L1249.1,284.5 L1250.1,286.1 L1251.1,287.6 L1252.1,289.2 L1253.1,290.8 L1254.0,292.4 L1255.0,293.9 L1256.0,295.5 L1257.0,297.0 L1258.0,298.5 L1259.0,300.1 L1260.0,301.6 L1261.0,303.1 L1262.0,304.6 L1263.0,306.1 L1264.0,307.6 L1265.0,309.1 L1266.0,310.6 L1267.0,312.0 L1268.0,313.5 L1269.0,314.9 L1270.0,316.4 L1271.0,317.8 L1272.0,319.3 L1273.0,320.7 L1274.0,322.1 L1274.9,323.6 L1275.9,325.0 L1276.9,326.4 L1277.9,327.8 L1278.9,329.2 L1279.9,330.6 L1280.9,332.0 L1281.9,333.3 L1283.9,336.1 L1285.9,338.8 L1287.9,341.5 L1289.9,344.2 L1291.9,346.9 L1293.9,349.5 L1295.9,352.1 L1297.9,354.7 L1299.9,357.3 L1301.8,359.9 L1303.8,362.4 L1305.8,364.9 L1307.8,367.4 L1309.8,369.9 L1311.8,372.4 L1313.8,374.9 L1315.8,377.3 L1317.8,379.7 L1319.8,382.1 L1321.8,384.5 L1323.8,386.9 L1325.8,389.2 L1327.8,391.6 L1329.8,393.9 L1331.7,396.2 L1333.7,398.5 L1335.7,400.7 L1337.7,403.0 L1339.7,405.2 L1341.7,407.4 L1343.7,409.6 L1345.7,411.8 L1347.7,414.0 L1349.7,416.1 L1351.7,418.3 L1353.7,420.4 L1355.7,422.5 L1357.7,424.6 L1359.7,426.6 L1361.6,428.7 L1363.6,430.7 L1365.6,432.7 L1367.6,434.7 L1369.6,436.7 L1371.6,438.7 L1373.6,440.6 L1375.6,442.5 L1377.6,444.4 L1379.6,446.3 L1381.6,448.2 L1383.6,450.1 L1385.6,451.9 L1387.6,453.7 L1389.6,455.5 L1391.5,457.3 L1393.5,459.1 L1395.5,460.8 L1397.5,462.6 L1399.5,464.3 L1401.5,466.0 L1403.5,467.7 L1405.5,469.3 L1407.5,471.0 L1409.5,472.6 L1411.5,474.2 L1413.5,475.8 L1415.5,477.4 L1417.5,478.9 L1419.5,480.5 L1421.4,482.0 L1423.4,483.5 L1425.4,485.0 L1427.4,486.4 L1429.4,487.9 L1431.4,489.3 L1433.4,490.7 L1435.4,492.1 L1437.4,493.5 L1439.4,494.8 L1441.4,496.2 L1443.4,497.5 L1445.4,498.8 L1447.4,500.1 L1449.4,501.3 L1451.3,502.6 L1453.3,503.8 L1455.3,505.0 L1457.3,506.2 L1459.3,507.4 L1461.3,508.6 L1463.3,509.7 L1465.3,510.8 L1467.3,511.9 L1469.3,513.0 L1471.3,514.1 L1473.3,515.2 L1475.3,516.2 L1477.3,517.3 L1479.2,518.3 L1481.2,519.3 L1483.2,520.2 L1485.2,521.2 L1487.2,522.2 L1489.2,523.1 L1491.2,524.0 L1493.2,524.9 L1495.2,525.8 L1497.2,526.7 L1499.2,527.5 L1501.2,528.4 L1503.2,529.2 L1505.2,530.0 L1507.2,530.8 L1509.1,531.6 L1511.1,532.4 L1513.1,533.1 L1515.1,533.9 L1517.1,534.6 L1519.1,535.3 L1521.1,536.0 L1523.1,536.7 L1525.1,537.4 L1527.1,538.1 L1529.1,538.7 L1531.1,539.3 L1533.1,540.0 L1535.1,540.6 L1537.1,541.2 L1539.0,541.8 L1541.0,542.4 L1543.0,542.9 L1545.0,543.5 L1547.0,544.1 L1549.0,544.6 L1551.0,545.1 L1553.0,545.6 L1555.0,546.1 L1557.0,546.6 L1559.0,547.1 L1561.0,547.6 L1563.0,548.1 L1565.0,548.5 L1567.0,549.0 L1568.9,549.4 L1570.9,549.8 L1572.9,550.3 L1574.9,550.7 L1576.9,551.1 L1578.9,551.5 L1580.9,551.9 L1582.9,552.2 L1584.9,552.6 L1586.9,553.0 L1588.9,553.3 L1590.9,553.7 L1592.9,554.0 L1594.9,554.4 L1596.9,554.7 L1598.8,555.0 L1600.8,555.3 L1602.8,555.6 L1604.8,555.9 L1606.8,556.2 L1608.8,556.5 L1610.8,556.8 L1612.8,557.1 L1614.8,557.3 L1616.8,557.6 L1618.8,557.8 L1620.8,558.1 L1622.8,558.3 L1624.8,558.6 L1626.8,558.8 L1628.7,559.0 L1630.7,559.3 L1632.7,559.5 L1634.7,559.7 L1636.7,559.9 L1638.7,560.1 L1640.7,560.3 L1642.7,560.5 L1644.7,560.7 L1646.7,560.9 L1648.7,561.1 L1650.7,561.2 L1652.7,561.4 L1654.7,561.6 L1656.7,561.8 L1658.6,561.9 L1660.6,562.1 L1662.6,562.2 L1664.6,562.4 L1666.6,562.5 L1668.6,562.7 L1670.6,562.8 L1672.6,563.0 L1674.6,563.1 L1676.6,563.2 L1678.6,563.4 L1680.6,563.5 L1682.6,563.6 L1684.6,563.7 L1686.5,563.8 L1688.5,564.0 L1690.5,564.1 L1692.5,564.2 L1694.5,564.3 L1696.5,564.4 L1698.5,564.5 L1700.5,564.6 L1702.5,564.7 L1704.5,564.8 L1706.5,564.9 L1708.5,565.0 L1710.5,565.1 L1712.5,565.1 L1714.5,565.2 L1716.4,565.3 L1718.4,565.4 L1720.4,565.5 L1722.4,565.6 L1724.4,565.6 L1726.4,565.7 L1728.4,565.8 L1730.4,565.8 L1732.4,565.9 L1734.4,566.0 L1736.4,566.0 L1738.4,566.1 L1740.4,566.2 L1742.4,566.2 L1744.4,566.3 L1746.3,566.3 L1748.3,566.4 L1750.3,566.5 L1752.3,566.5 L1754.3,566.6 L1756.3,566.6 L1758.3,566.7 L1760.3,566.7 L1762.3,566.8 L1764.3,566.8 L1766.3,566.9 L1768.3,566.9 L1770.3,566.9 L1772.3,567.0 L1774.3,567.0 L1776.2,567.1 L1778.2,567.1 L1780.2,567.1 L1782.2,567.2 L1784.2,567.2 L1786.2,567.3 L1788.2,567.3 L1790.2,567.3 L1792.2,567.4 L1794.2,567.4 L1796.2,567.4 L1798.2,567.5 L1800.2,567.5 L1802.2,567.5 L1804.2,567.5 L1806.1,567.6 L1808.1,567.6 L1810.1,567.6 L1812.1,567.7 L1814.1,567.7 L1816.1,567.7 L1818.1,567.7 L1820.1,567.7 L1822.1,567.8 L1824.1,567.8 L1826.1,567.8 L1828.1,567.8 L1830.1,567.9 L1832.1,567.9 L1834.1,567.9 L1836.0,567.9 L1838.0,567.9 L1840.0,568.0 L1842.0,568.0 L1844.0,568.0 L1846.0,568.0 L1848.0,568.0 L1850.0,568.0 L1852.0,568.1 L1854.0,568.1 L1856.0,568.1 L1858.0,568.1 L1860.0,568.1 L1862.0,568.1 L1864.0,568.2 L1865.9,568.2 L1867.9,568.2 L1869.9,568.2 L1871.9,568.2 L1873.9,568.2 L1875.9,568.2 L1877.9,568.2 L1879.9,568.3 L1881.9,568.3 L1883.9,568.3 L1885.9,568.3 L1887.9,568.3 L1889.9,568.3 L1891.9,568.3 L1893.8,568.3 L1895.8,568.3 L1897.8,568.3 L1899.8,568.4 L1901.8,568.4 L1903.8,568.4 L1905.8,568.4 L1907.8,568.4 L1909.8,568.4 L1911.8,568.4 L1913.8,568.4 L1915.8,568.4 L1917.8,568.4 L1919.8,568.4 L1921.8,568.4 L1923.7,568.4 L1925.7,568.5 L1927.7,568.5 L1929.7,568.5 L1931.7,568.5 L1933.7,568.5 L1935.7,568.5 L1937.7,568.5 L1939.7,568.5 L1941.7,568.5 L1943.7,568.5 L1945.7,568.5 L1947.7,568.5 L1949.7,568.5 L1951.7,568.5 L1953.6,568.5 L1955.6,568.5 L1957.6,568.5 L1959.6,568.5 L1961.6,568.5 L1963.6,568.5 L1965.6,568.6 L1967.6,568.6 L1969.6,568.6 L1971.6,568.6 L1973.6,568.6 L1975.6,568.6 L1977.6,568.6 L1979.6,568.6 L1981.6,568.6 L1983.5,568.6 L1985.5,568.6 L1987.5,568.6 L1989.5,568.6 L1991.5,568.6 L1993.5,568.6 L1995.5,568.6 L1997.5,568.6" fill="none" stroke="#000" stroke-width="7" stroke-linejoin="round"/>
<path d="M1201.3,246.9 L1202.3,248.7 L1203.3,250.6 L1204.3,252.4 L1205.3,254.3 L1206.3,256.1 L1207.3,258.0 L1208.3,259.8 L1209.3,261.7 L1210.3,263.5 L1211.3,265.3 L1212.2,267.2 L1213.2,269.0 L1214.2,270.8 L1215.2,272.7 L1216.2,274.5 L1217.2,276.3 L1218.2,278.2 L1219.2,280.0 L1220.2,281.8 L1221.2,283.6 L1222.2,285.4 L1223.2,287.3 L1224.2,289.1 L1225.2,290.9 L1226.2,292.7 L1227.2,294.5 L1228.2,296.3 L1229.2,298.1 L1230.2,299.9 L1231.2,301.7 L1232.2,303.5 L1233.1,305.3 L1234.1,307.1 L1235.1,308.9 L1236.1,310.7 L1237.1,312.4 L1238.1,314.2 L1239.1,316.0 L1240.1,317.8 L1241.1,319.6 L1242.1,321.3 L1243.1,323.1 L1244.1,324.9 L1245.1,326.6 L1246.1,328.4 L1247.1,330.1 L1248.1,331.9 L1249.1,333.6 L1250.1,335.4 L1251.1,337.1 L1252.1,338.9 L1253.1,340.6 L1254.0,342.4 L1255.0,344.1 L1256.0,345.8 L1257.0,347.5 L1258.0,349.3 L1259.0,351.0 L1260.0,352.7 L1261.0,354.4 L1262.0,356.1 L1263.0,357.8 L1264.0,359.5 L1265.0,361.2 L1266.0,362.9 L1267.0,364.6 L1268.0,366.3 L1269.0,368.0 L1270.0,369.7 L1271.0,371.4 L1272.0,373.0 L1273.0,374.7 L1274.0,376.4 L1274.9,378.0 L1275.9,379.7 L1276.9,381.3 L1277.9,383.0 L1278.9,384.6 L1279.9,386.3 L1280.9,387.9 L1281.9,389.5 L1283.9,392.8 L1285.9,396.0 L1287.9,399.2 L1289.9,402.4 L1291.9,405.6 L1293.9,408.8 L1295.9,411.9 L1297.9,415.0 L1299.9,418.1 L1301.8,421.2 L1303.8,424.3 L1305.8,427.3 L1307.8,430.3 L1309.8,433.3 L1311.8,436.3 L1313.8,439.2 L1315.8,442.1 L1317.8,445.0 L1319.8,447.9 L1321.8,450.7 L1323.8,453.5 L1325.8,456.3 L1327.8,459.1 L1329.8,461.8 L1331.7,464.5 L1333.7,467.2 L1335.7,469.9 L1337.7,472.5 L1339.7,475.1 L1341.7,477.7 L1343.7,480.2 L1345.7,482.7 L1347.7,485.2 L1349.7,487.7 L1351.7,490.1 L1353.7,492.5 L1355.7,494.8 L1357.7,497.2 L1359.7,499.5 L1361.6,501.7 L1363.6,504.0 L1365.6,506.2 L1367.6,508.4 L1369.6,510.5 L1371.6,512.6 L1373.6,514.7 L1375.6,516.8 L1377.6,518.8 L1379.6,520.8 L1381.6,522.7 L1383.6,524.6 L1385.6,526.5 L1387.6,528.4 L1389.6,530.2 L1391.5,532.0 L1393.5,533.8 L1395.5,535.5 L1397.5,537.2 L1399.5,538.9 L1401.5,540.5 L1403.5,542.1 L1405.5,543.7 L1407.5,545.2 L1409.5,546.7 L1411.5,548.2 L1413.5,549.7 L1415.5,551.1 L1417.5,552.5 L1419.5,553.9 L1421.4,555.2 L1423.4,556.5 L1425.4,557.8 L1427.4,559.0 L1429.4,560.2 L1431.4,561.4 L1433.4,562.6 L1435.4,563.8 L1437.4,564.9 L1439.4,566.0 L1441.4,567.0 L1443.4,568.1 L1445.4,569.1 L1447.4,570.1 L1449.4,571.0 L1451.3,572.0 L1453.3,572.9 L1455.3,573.8 L1457.3,574.7 L1459.3,575.5 L1461.3,576.4 L1463.3,577.2 L1465.3,578.0 L1467.3,578.7 L1469.3,579.5 L1471.3,580.2 L1473.3,580.9 L1475.3,581.6 L1477.3,582.3 L1479.2,582.9 L1481.2,583.6 L1483.2,584.2 L1485.2,584.8 L1487.2,585.4 L1489.2,586.0 L1491.2,586.5 L1493.2,587.0 L1495.2,587.6 L1497.2,588.1 L1499.2,588.6 L1501.2,589.1 L1503.2,589.5 L1505.2,590.0 L1507.2,590.4 L1509.1,590.8 L1511.1,591.3 L1513.1,591.7 L1515.1,592.1 L1517.1,592.4 L1519.1,592.8 L1521.1,593.2 L1523.1,593.5 L1525.1,593.9 L1527.1,594.2 L1529.1,594.5 L1531.1,594.8 L1533.1,595.1 L1535.1,595.4 L1537.1,595.7 L1539.0,596.0 L1541.0,596.2 L1543.0,596.5 L1545.0,596.7 L1547.0,597.0 L1549.0,597.2 L1551.0,597.4 L1553.0,597.7 L1555.0,597.9 L1557.0,598.1 L1559.0,598.3 L1561.0,598.5 L1563.0,598.7 L1565.0,598.9 L1567.0,599.0 L1568.9,599.2 L1570.9,599.4 L1572.9,599.5 L1574.9,599.7 L1576.9,599.9 L1578.9,600.0 L1580.9,600.1 L1582.9,600.3 L1584.9,600.4 L1586.9,600.5 L1588.9,600.7 L1590.9,600.8 L1592.9,600.9 L1594.9,601.0 L1596.9,601.1 L1598.8,601.2 L1600.8,601.3 L1602.8,601.4 L1604.8,601.5 L1606.8,601.6 L1608.8,601.7 L1610.8,601.8 L1612.8,601.9 L1614.8,602.0 L1616.8,602.1 L1618.8,602.2 L1620.8,602.2 L1622.8,602.3 L1624.8,602.4 L1626.8,602.4 L1628.7,602.5 L1630.7,602.6 L1632.7,602.6 L1634.7,602.7 L1636.7,602.8 L1638.7,602.8 L1640.7,602.9 L1642.7,602.9 L1644.7,603.0 L1646.7,603.0 L1648.7,603.1 L1650.7,603.1 L1652.7,603.2 L1654.7,603.2 L1656.7,603.2 L1658.6,603.3 L1660.6,603.3 L1662.6,603.4 L1664.6,603.4 L1666.6,603.4 L1668.6,603.5 L1670.6,603.5 L1672.6,603.5 L1674.6,603.6 L1676.6,603.6 L1678.6,603.6 L1680.6,603.7 L1682.6,603.7 L1684.6,603.7 L1686.5,603.7 L1688.5,603.8 L1690.5,603.8 L1692.5,603.8 L1694.5,603.8 L1696.5,603.9 L1698.5,603.9 L1700.5,603.9 L1702.5,603.9 L1704.5,603.9 L1706.5,604.0 L1708.5,604.0 L1710.5,604.0 L1712.5,604.0 L1714.5,604.0 L1716.4,604.0 L1718.4,604.1 L1720.4,604.1 L1722.4,604.1 L1724.4,604.1 L1726.4,604.1 L1728.4,604.1 L1730.4,604.1 L1732.4,604.2 L1734.4,604.2 L1736.4,604.2 L1738.4,604.2 L1740.4,604.2 L1742.4,604.2 L1744.4,604.2 L1746.3,604.2 L1748.3,604.2 L1750.3,604.3 L1752.3,604.3 L1754.3,604.3 L1756.3,604.3 L1758.3,604.3 L1760.3,604.3 L1762.3,604.3 L1764.3,604.3 L1766.3,604.3 L1768.3,604.3 L1770.3,604.3 L1772.3,604.3 L1774.3,604.3 L1776.2,604.3 L1778.2,604.4 L1780.2,604.4 L1782.2,604.4 L1784.2,604.4 L1786.2,604.4 L1788.2,604.4 L1790.2,604.4 L1792.2,604.4 L1794.2,604.4 L1796.2,604.4 L1798.2,604.4 L1800.2,604.4 L1802.2,604.4 L1804.2,604.4 L1806.1,604.4 L1808.1,604.4 L1810.1,604.4 L1812.1,604.4 L1814.1,604.4 L1816.1,604.4 L1818.1,604.4 L1820.1,604.4 L1822.1,604.4 L1824.1,604.4 L1826.1,604.4 L1828.1,604.4 L1830.1,604.5 L1832.1,604.5 L1834.1,604.5 L1836.0,604.5 L1838.0,604.5 L1840.0,604.5 L1842.0,604.5 L1844.0,604.5 L1846.0,604.5 L1848.0,604.5 L1850.0,604.5 L1852.0,604.5 L1854.0,604.5 L1856.0,604.5 L1858.0,604.5 L1860.0,604.5 L1862.0,604.5 L1864.0,604.5 L1865.9,604.5 L1867.9,604.5 L1869.9,604.5 L1871.9,604.5 L1873.9,604.5 L1875.9,604.5 L1877.9,604.5 L1879.9,604.5 L1881.9,604.5 L1883.9,604.5 L1885.9,604.5 L1887.9,604.5 L1889.9,604.5 L1891.9,604.5 L1893.8,604.5 L1895.8,604.5 L1897.8,604.5 L1899.8,604.5 L1901.8,604.5 L1903.8,604.5 L1905.8,604.5 L1907.8,604.5 L1909.8,604.5 L1911.8,604.5 L1913.8,604.5 L1915.8,604.5 L1917.8,604.5 L1919.8,604.5 L1921.8,604.5 L1923.7,604.5 L1925.7,604.5 L1927.7,604.5 L1929.7,604.5 L1931.7,604.5 L1933.7,604.5 L1935.7,604.5 L1937.7,604.5 L1939.7,604.5 L1941.7,604.5 L1943.7,604.5 L1945.7,604.5 L1947.7,604.5 L1949.7,604.5 L1951.7,604.5 L1953.6,604.5 L1955.6,604.5 L1957.6,604.5 L1959.6,604.5 L1961.6,604.5 L1963.6,604.5 L1965.6,604.5 L1967.6,604.5 L1969.6,604.5 L1971.6,604.5 L1973.6,604.5 L1975.6,604.5 L1977.6,604.5 L1979.6,604.5 L1981.6,604.5 L1983.5,604.5 L1985.5,604.5 L1987.5,604.5 L1989.5,604.5 L1991.5,604.5 L1993.5,604.5 L1995.5,604.5 L1997.5,604.5" fill="none" stroke="#0000ff" stroke-width="7" stroke-linejoin="round"/>
<path d="M1201.3,234.9 L1202.3,236.7 L1203.3,238.4 L1204.3,240.2 L1205.3,242.0 L1206.3,243.7 L1207.3,245.5 L1208.3,247.3 L1209.3,249.0 L1210.3,250.8 L1211.3,252.5 L1212.2,254.3 L1213.2,256.0 L1214.2,257.8 L1215.2,259.5 L1216.2,261.3 L1217.2,263.0 L1218.2,264.8 L1219.2,266.5 L1220.2,268.3 L1221.2,270.0 L1222.2,271.7 L1223.2,273.5 L1224.2,275.2 L1225.2,276.9 L1226.2,278.7 L1227.2,280.4 L1228.2,282.1 L1229.2,283.8 L1230.2,285.5 L1231.2,287.3 L1232.2,289.0 L1233.1,290.7 L1234.1,292.4 L1235.1,294.1 L1236.1,295.8 L1237.1,297.5 L1238.1,299.2 L1239.1,300.9 L1240.1,302.6 L1241.1,304.3 L1242.1,306.0 L1243.1,307.7 L1244.1,309.4 L1245.1,311.0 L1246.1,312.7 L1247.1,314.4 L1248.1,316.1 L1249.1,317.7 L1250.1,319.4 L1251.1,321.1 L1252.1,322.7 L1253.1,324.4 L1254.0,326.1 L1255.0,327.7 L1256.0,329.4 L1257.0,331.0 L1258.0,332.7 L1259.0,334.3 L1260.0,335.9 L1261.0,337.6 L1262.0,339.2 L1263.0,340.8 L1264.0,342.5 L1265.0,344.1 L1266.0,345.7 L1267.0,347.3 L1268.0,348.9 L1269.0,350.6 L1270.0,352.2 L1271.0,353.8 L1272.0,355.4 L1273.0,357.0 L1274.0,358.6 L1274.9,360.1 L1275.9,361.7 L1276.9,363.3 L1277.9,364.9 L1278.9,366.5 L1279.9,368.0 L1280.9,369.6 L1281.9,371.2 L1283.9,374.3 L1285.9,377.4 L1287.9,380.5 L1289.9,383.6 L1291.9,386.6 L1293.9,389.7 L1295.9,392.7 L1297.9,395.7 L1299.9,398.7 L1301.8,401.6 L1303.8,404.6 L1305.8,407.5 L1307.8,410.4 L1309.8,413.3 L1311.8,416.2 L1313.8,419.1 L1315.8,421.9 L1317.8,424.7 L1319.8,427.5 L1321.8,430.3 L1323.8,433.0 L1325.8,435.8 L1327.8,438.5 L1329.8,441.2 L1331.7,443.9 L1333.7,446.5 L1335.7,449.1 L1337.7,451.7 L1339.7,454.3 L1341.7,456.9 L1343.7,459.4 L1345.7,461.9 L1347.7,464.4 L1349.7,466.8 L1351.7,469.3 L1353.7,471.7 L1355.7,474.1 L1357.7,476.4 L1359.7,478.8 L1361.6,481.1 L1363.6,483.4 L1365.6,485.6 L1367.6,487.8 L1369.6,490.1 L1371.6,492.2 L1373.6,494.4 L1375.6,496.5 L1377.6,498.6 L1379.6,500.7 L1381.6,502.8 L1383.6,504.8 L1385.6,506.8 L1387.6,508.8 L1389.6,510.7 L1391.5,512.6 L1393.5,514.5 L1395.5,516.4 L1397.5,518.2 L1399.5,520.0 L1401.5,521.8 L1403.5,523.6 L1405.5,525.3 L1407.5,527.0 L1409.5,528.7 L1411.5,530.4 L1413.5,532.0 L1415.5,533.6 L1417.5,535.2 L1419.5,536.7 L1421.4,538.3 L1423.4,539.8 L1425.4,541.3 L1427.4,542.7 L1429.4,544.2 L1431.4,545.6 L1433.4,546.9 L1435.4,548.3 L1437.4,549.6 L1439.4,551.0 L1441.4,552.2 L1443.4,553.5 L1445.4,554.7 L1447.4,556.0 L1449.4,557.2 L1451.3,558.3 L1453.3,559.5 L1455.3,560.6 L1457.3,561.7 L1459.3,562.8 L1461.3,563.9 L1463.3,564.9 L1465.3,566.0 L1467.3,567.0 L1469.3,568.0 L1471.3,568.9 L1473.3,569.9 L1475.3,570.8 L1477.3,571.7 L1479.2,572.6 L1481.2,573.5 L1483.2,574.4 L1485.2,575.2 L1487.2,576.0 L1489.2,576.8 L1491.2,577.6 L1493.2,578.4 L1495.2,579.1 L1497.2,579.9 L1499.2,580.6 L1501.2,581.3 L1503.2,582.0 L1505.2,582.7 L1507.2,583.4 L1509.1,584.0 L1511.1,584.7 L1513.1,585.3 L1515.1,585.9 L1517.1,586.5 L1519.1,587.1 L1521.1,587.7 L1523.1,588.2 L1525.1,588.8 L1527.1,589.3 L1529.1,589.8 L1531.1,590.4 L1533.1,590.9 L1535.1,591.4 L1537.1,591.8 L1539.0,592.3 L1541.0,592.8 L1543.0,593.2 L1545.0,593.7 L1547.0,594.1 L1549.0,594.5 L1551.0,594.9 L1553.0,595.3 L1555.0,595.7 L1557.0,596.1 L1559.0,596.5 L1561.0,596.9 L1563.0,597.2 L1565.0,597.6 L1567.0,597.9 L1568.9,598.3 L1570.9,598.6 L1572.9,598.9 L1574.9,599.3 L1576.9,599.6 L1578.9,599.9 L1580.9,600.2 L1582.9,600.5 L1584.9,600.8 L1586.9,601.0 L1588.9,601.3 L1590.9,601.6 L1592.9,601.8 L1594.9,602.1 L1596.9,602.3 L1598.8,602.6 L1600.8,602.8 L1602.8,603.1 L1604.8,603.3 L1606.8,603.5 L1608.8,603.7 L1610.8,604.0 L1612.8,604.2 L1614.8,604.4 L1616.8,604.6 L1618.8,604.8 L1620.8,605.0 L1622.8,605.2 L1624.8,605.4 L1626.8,605.5 L1628.7,605.7 L1630.7,605.9 L1632.7,606.1 L1634.7,606.2 L1636.7,606.4 L1638.7,606.6 L1640.7,606.7 L1642.7,606.9 L1644.7,607.0 L1646.7,607.2 L1648.7,607.3 L1650.7,607.5 L1652.7,607.6 L1654.7,607.8 L1656.7,607.9 L1658.6,608.0 L1660.6,608.2 L1662.6,608.3 L1664.6,608.4 L1666.6,608.5 L1668.6,608.7 L1670.6,608.8 L1672.6,608.9 L1674.6,609.0 L1676.6,609.1 L1678.6,609.2 L1680.6,609.3 L1682.6,609.4 L1684.6,609.5 L1686.5,609.6 L1688.5,609.7 L1690.5,609.8 L1692.5,609.9 L1694.5,610.0 L1696.5,610.1 L1698.5,610.2 L1700.5,610.3 L1702.5,610.4 L1704.5,610.5 L1706.5,610.6 L1708.5,610.6 L1710.5,610.7 L1712.5,610.8 L1714.5,610.9 L1716.4,611.0 L1718.4,611.0 L1720.4,611.1 L1722.4,611.2 L1724.4,611.2 L1726.4,611.3 L1728.4,611.4 L1730.4,611.5 L1732.4,611.5 L1734.4,611.6 L1736.4,611.6 L1738.4,611.7 L1740.4,611.8 L1742.4,611.8 L1744.4,611.9 L1746.3,612.0 L1748.3,612.0 L1750.3,612.1 L1752.3,612.1 L1754.3,612.2 L1756.3,612.2 L1758.3,612.3 L1760.3,612.3 L1762.3,612.4 L1764.3,612.4 L1766.3,612.5 L1768.3,612.5 L1770.3,612.6 L1772.3,612.6 L1774.3,612.7 L1776.2,612.7 L1778.2,612.8 L1780.2,612.8 L1782.2,612.9 L1784.2,612.9 L1786.2,612.9 L1788.2,613.0 L1790.2,613.0 L1792.2,613.1 L1794.2,613.1 L1796.2,613.1 L1798.2,613.2 L1800.2,613.2 L1802.2,613.3 L1804.2,613.3 L1806.1,613.3 L1808.1,613.4 L1810.1,613.4 L1812.1,613.4 L1814.1,613.5 L1816.1,613.5 L1818.1,613.5 L1820.1,613.6 L1822.1,613.6 L1824.1,613.6 L1826.1,613.7 L1828.1,613.7 L1830.1,613.7 L1832.1,613.7 L1834.1,613.8 L1836.0,613.8 L1838.0,613.8 L1840.0,613.9 L1842.0,613.9 L1844.0,613.9 L1846.0,613.9 L1848.0,614.0 L1850.0,614.0 L1852.0,614.0 L1854.0,614.0 L1856.0,614.1 L1858.0,614.1 L1860.0,614.1 L1862.0,614.1 L1864.0,614.2 L1865.9,614.2 L1867.9,614.2 L1869.9,614.2 L1871.9,614.2 L1873.9,614.3 L1875.9,614.3 L1877.9,614.3 L1879.9,614.3 L1881.9,614.4 L1883.9,614.4 L1885.9,614.4 L1887.9,614.4 L1889.9,614.4 L1891.9,614.4 L1893.8,614.5 L1895.8,614.5 L1897.8,614.5 L1899.8,614.5 L1901.8,614.5 L1903.8,614.6 L1905.8,614.6 L1907.8,614.6 L1909.8,614.6 L1911.8,614.6 L1913.8,614.6 L1915.8,614.6 L1917.8,614.7 L1919.8,614.7 L1921.8,614.7 L1923.7,614.7 L1925.7,614.7 L1927.7,614.7 L1929.7,614.8 L1931.7,614.8 L1933.7,614.8 L1935.7,614.8 L1937.7,614.8 L1939.7,614.8 L1941.7,614.8 L1943.7,614.8 L1945.7,614.9 L1947.7,614.9 L1949.7,614.9 L1951.7,614.9 L1953.6,614.9 L1955.6,614.9 L1957.6,614.9 L1959.6,614.9 L1961.6,615.0 L1963.6,615.0 L1965.6,615.0 L1967.6,615.0 L1969.6,615.0 L1971.6,615.0 L1973.6,615.0 L1975.6,615.0 L1977.6,615.0 L1979.6,615.0 L1981.6,615.1 L1983.5,615.1 L1985.5,615.1 L1987.5,615.1 L1989.5,615.1 L1991.5,615.1 L1993.5,615.1 L1995.5,615.1 L1997.5,615.1" fill="none" stroke="#ff0000" stroke-width="7" stroke-linejoin="round"/>
</g>
<rect x="1201.3" y="132.3" width="796.2" height="645.2" fill="none" stroke="#000" stroke-width="6.0"/>
<line x1="1300.8" y1="777.5" x2="1300.8" y2="770.0" stroke="#000" stroke-width="3.6"/>
<line x1="1400.3" y1="777.5" x2="1400.3" y2="763.5" stroke="#000" stroke-width="3.6"/>
<line x1="1499.9" y1="777.5" x2="1499.9" y2="770.0" stroke="#000" stroke-width="3.6"/>
<line x1="1599.4" y1="777.5" x2="1599.4" y2="763.5" stroke="#000" stroke-width="3.6"/>
<line x1="1698.9" y1="777.5" x2="1698.9" y2="770.0" stroke="#000" stroke-width="3.6"/>
<line x1="1798.4" y1="777.5" x2="1798.4" y2="763.5" stroke="#000" stroke-width="3.6"/>
<line x1="1898.0" y1="777.5" x2="1898.0" y2="770.0" stroke="#000" stroke-width="3.6"/>
<line x1="1201.3" y1="755.5" x2="1210.3" y2="755.5" stroke="#000" stroke-width="3.6"/>
<line x1="1201.3" y1="737.1" x2="1210.3" y2="737.1" stroke="#000" stroke-width="3.6"/>
<line x1="1201.3" y1="721.1" x2="1210.3" y2="721.1" stroke="#000" stroke-width="3.6"/>
<line x1="1201.3" y1="707.0" x2="1210.3" y2="707.0" stroke="#000" stroke-width="3.6"/>
<line x1="1201.3" y1="694.4" x2="1216.3" y2="694.4" stroke="#000" stroke-width="3.6"/>
<line x1="1201.3" y1="611.5" x2="1210.3" y2="611.5" stroke="#000" stroke-width="3.6"/>
<line x1="1201.3" y1="563.0" x2="1210.3" y2="563.0" stroke="#000" stroke-width="3.6"/>
<line x1="1201.3" y1="528.6" x2="1210.3" y2="528.6" stroke="#000" stroke-width="3.6"/>
<line x1="1201.3" y1="501.9" x2="1210.3" y2="501.9" stroke="#000" stroke-width="3.6"/>
<line x1="1201.3" y1="480.1" x2="1210.3" y2="480.1" stroke="#000" stroke-width="3.6"/>
<line x1="1201.3" y1="461.7" x2="1210.3" y2="461.7" stroke="#000" stroke-width="3.6"/>
<line x1="1201.3" y1="445.7" x2="1210.3" y2="445.7" stroke="#000" stroke-width="3.6"/>
<line x1="1201.3" y1="431.6" x2="1210.3" y2="431.6" stroke="#000" stroke-width="3.6"/>
<line x1="1201.3" y1="419.0" x2="1216.3" y2="419.0" stroke="#000" stroke-width="3.6"/>
<line x1="1201.3" y1="336.1" x2="1210.3" y2="336.1" stroke="#000" stroke-width="3.6"/>
<line x1="1201.3" y1="287.6" x2="1210.3" y2="287.6" stroke="#000" stroke-width="3.6"/>
<line x1="1201.3" y1="253.2" x2="1210.3" y2="253.2" stroke="#000" stroke-width="3.6"/>
<line x1="1201.3" y1="226.5" x2="1210.3" y2="226.5" stroke="#000" stroke-width="3.6"/>
<line x1="1201.3" y1="204.7" x2="1210.3" y2="204.7" stroke="#000" stroke-width="3.6"/>
<line x1="1201.3" y1="186.3" x2="1210.3" y2="186.3" stroke="#000" stroke-width="3.6"/>
<line x1="1201.3" y1="170.3" x2="1210.3" y2="170.3" stroke="#000" stroke-width="3.6"/>
<line x1="1201.3" y1="156.2" x2="1210.3" y2="156.2" stroke="#000" stroke-width="3.6"/>
<line x1="1201.3" y1="143.6" x2="1216.3" y2="143.6" stroke="#000" stroke-width="3.6"/>
<text transform="translate(1190.50,821.49) scale(0.8557,1)" font-size="36.47" font-weight="normal" fill="#000" stroke="#000" stroke-width="1.7" stroke-linejoin="round">0</text>
<text transform="translate(1368.48,821.49) scale(0.8500,1)" font-size="36.47" font-weight="normal" fill="#000" letter-spacing="3.71" stroke="#000" stroke-width="1.7" stroke-linejoin="round">100</text>
<text transform="translate(1568.30,821.49) scale(0.8500,1)" font-size="36.47" font-weight="normal" fill="#000" letter-spacing="3.25" stroke="#000" stroke-width="1.7" stroke-linejoin="round">200</text>
<text transform="translate(1767.74,821.49) scale(0.8500,1)" font-size="36.47" font-weight="normal" fill="#000" letter-spacing="3.03" stroke="#000" stroke-width="1.7" stroke-linejoin="round">300</text>
<text transform="translate(1967.25,821.49) scale(0.8500,1)" font-size="36.47" font-weight="normal" fill="#000" letter-spacing="2.75" stroke="#000" stroke-width="1.7" stroke-linejoin="round">400</text>
<text transform="translate(1168.68,153.25) scale(0.6460,1)" font-size="36.51" font-weight="normal" fill="#000" stroke="#000" stroke-width="1.7" stroke-linejoin="round">1</text>
<text transform="translate(1137.61,429.18) scale(0.8500,1)" font-size="36.61" font-weight="normal" fill="#000" letter-spacing="0.71" stroke="#000" stroke-width="1.7" stroke-linejoin="round">0.1</text>
<text transform="translate(1117.77,704.70) scale(0.8500,1)" font-size="34.77" font-weight="normal" fill="#000" letter-spacing="2.94" stroke="#000" stroke-width="1.7" stroke-linejoin="round">0.01</text>
<text transform="translate(1494.70,893.20) scale(0.9000,1)" font-size="49.31" font-weight="normal" fill="#000" letter-spacing="2.95" stroke="#000" stroke-width="2.0" stroke-linejoin="round">Time (ns)</text>
<text transform="translate(1096.15,683.70) rotate(-90) scale(0.7500,1)" font-size="57.45" font-weight="normal" fill="#000" letter-spacing="7.98" stroke="#000" stroke-width="2.5" stroke-linejoin="round">Normalized Intensity</text>
<circle cx="1830.8" cy="171.3" r="7.5" fill="#000"/><circle cx="1829.2" cy="168.9" r="2.2" fill="#fff" fill-opacity="0.85"/>
<circle cx="1830.8" cy="230.6" r="7.5" fill="#ff0000"/><circle cx="1829.2" cy="228.2" r="2.2" fill="#fff" fill-opacity="0.85"/>
<circle cx="1830.8" cy="290" r="7.5" fill="#0000ff"/><circle cx="1829.2" cy="287.6" r="2.2" fill="#fff" fill-opacity="0.85"/>
<text transform="translate(1884.07,183.27) scale(0.8500,1)" font-size="42.54" font-weight="normal" fill="#000" letter-spacing="7.12" stroke="#000" stroke-width="2.2" stroke-linejoin="round">STD</text>
<text transform="translate(1882.56,244.20) scale(0.9425,1)" font-size="47.85" font-weight="bold" fill="#ff0000">KI</text>
<text fill="#0000ff"><tspan x="1882.59" y="304.60" font-size="46.98" font-weight="bold" textLength="83.14" lengthAdjust="spacingAndGlyphs">KI+I</tspan><tspan x="1965.35" y="319.60" font-size="28.96" font-weight="bold" textLength="15.10" lengthAdjust="spacingAndGlyphs">2</tspan></text>
</svg>
</body></html>
